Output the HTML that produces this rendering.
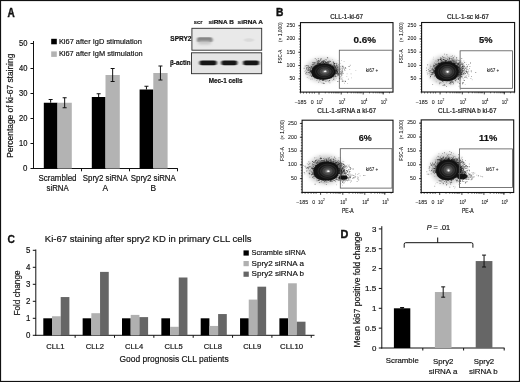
<!DOCTYPE html>
<html><head><meta charset="utf-8"><style>
html,body{margin:0;padding:0;background:#fff;}
svg{display:block;will-change:transform;filter:blur(0.25px);}
text{font-family:"Liberation Sans",sans-serif;fill:#111;stroke:#111;stroke-width:0.18px;}
</style></head><body>
<svg width="520" height="382" viewBox="0 0 520 382" font-family="Liberation Sans">
<rect x="0" y="0" width="520" height="382" fill="#fff"/>
<text x="7.4" y="16.7" font-size="12.2" font-weight="bold" textLength="7.2" lengthAdjust="spacingAndGlyphs" style="stroke-width:0.45px">A</text>
<line x1="33.50" y1="41.00" x2="33.50" y2="169.00" stroke="#111" stroke-width="1"/>
<line x1="30.50" y1="168.50" x2="33.50" y2="168.50" stroke="#111" stroke-width="1"/>
<text x="27.50" y="171.40" font-size="8.4" text-anchor="end" textLength="4.4" lengthAdjust="spacingAndGlyphs">0</text>
<line x1="30.50" y1="143.50" x2="33.50" y2="143.50" stroke="#111" stroke-width="1"/>
<text x="27.50" y="146.40" font-size="8.4" text-anchor="end" textLength="8.4" lengthAdjust="spacingAndGlyphs">10</text>
<line x1="30.50" y1="118.50" x2="33.50" y2="118.50" stroke="#111" stroke-width="1"/>
<text x="27.50" y="121.40" font-size="8.4" text-anchor="end" textLength="8.4" lengthAdjust="spacingAndGlyphs">20</text>
<line x1="30.50" y1="93.50" x2="33.50" y2="93.50" stroke="#111" stroke-width="1"/>
<text x="27.50" y="96.40" font-size="8.4" text-anchor="end" textLength="8.4" lengthAdjust="spacingAndGlyphs">30</text>
<line x1="30.50" y1="68.50" x2="33.50" y2="68.50" stroke="#111" stroke-width="1"/>
<text x="27.50" y="71.40" font-size="8.4" text-anchor="end" textLength="8.4" lengthAdjust="spacingAndGlyphs">40</text>
<line x1="30.50" y1="43.50" x2="33.50" y2="43.50" stroke="#111" stroke-width="1"/>
<text x="27.50" y="46.40" font-size="8.4" text-anchor="end" textLength="8.4" lengthAdjust="spacingAndGlyphs">50</text>
<line x1="33.00" y1="168.50" x2="177.80" y2="168.50" stroke="#111" stroke-width="1"/>
<line x1="81.50" y1="168.50" x2="81.50" y2="171.30" stroke="#111" stroke-width="1"/>
<line x1="129.50" y1="168.50" x2="129.50" y2="171.30" stroke="#111" stroke-width="1"/>
<line x1="177.50" y1="168.50" x2="177.50" y2="171.30" stroke="#111" stroke-width="1"/>
<text x="13.30" y="105.70" font-size="8.4" text-anchor="middle" textLength="104" lengthAdjust="spacingAndGlyphs" transform="rotate(-90 13.30 105.70)">Percentage of ki-67 staining</text>
<rect x="43.80" y="102.75" width="13.70" height="65.75" fill="#000"/>
<rect x="57.50" y="102.75" width="14.30" height="65.75" fill="#b3b3b3"/>
<line x1="50.65" y1="99.50" x2="50.65" y2="102.75" stroke="#111" stroke-width="1"/>
<line x1="48.65" y1="99.50" x2="52.65" y2="99.50" stroke="#111" stroke-width="1"/>
<line x1="64.65" y1="97.75" x2="64.65" y2="107.75" stroke="#111" stroke-width="1"/>
<line x1="62.65" y1="97.75" x2="66.65" y2="97.75" stroke="#111" stroke-width="1"/>
<line x1="62.65" y1="107.75" x2="66.65" y2="107.75" stroke="#111" stroke-width="1"/>
<rect x="91.80" y="97.00" width="13.70" height="71.50" fill="#000"/>
<rect x="105.50" y="75.00" width="14.30" height="93.50" fill="#b3b3b3"/>
<line x1="98.65" y1="93.75" x2="98.65" y2="97.00" stroke="#111" stroke-width="1"/>
<line x1="96.65" y1="93.75" x2="100.65" y2="93.75" stroke="#111" stroke-width="1"/>
<line x1="112.65" y1="68.50" x2="112.65" y2="81.50" stroke="#111" stroke-width="1"/>
<line x1="110.65" y1="68.50" x2="114.65" y2="68.50" stroke="#111" stroke-width="1"/>
<line x1="110.65" y1="81.50" x2="114.65" y2="81.50" stroke="#111" stroke-width="1"/>
<rect x="139.60" y="89.50" width="13.70" height="79.00" fill="#000"/>
<rect x="153.30" y="73.00" width="14.30" height="95.50" fill="#b3b3b3"/>
<line x1="146.45" y1="86.25" x2="146.45" y2="89.50" stroke="#111" stroke-width="1"/>
<line x1="144.45" y1="86.25" x2="148.45" y2="86.25" stroke="#111" stroke-width="1"/>
<line x1="160.45" y1="66.00" x2="160.45" y2="80.00" stroke="#111" stroke-width="1"/>
<line x1="158.45" y1="66.00" x2="162.45" y2="66.00" stroke="#111" stroke-width="1"/>
<line x1="158.45" y1="80.00" x2="162.45" y2="80.00" stroke="#111" stroke-width="1"/>
<text x="57.50" y="180.90" font-size="8.4" text-anchor="middle" textLength="38" lengthAdjust="spacingAndGlyphs">Scrambled</text>
<text x="57.60" y="190.60" font-size="8.4" text-anchor="middle" textLength="22.2" lengthAdjust="spacingAndGlyphs">siRNA</text>
<text x="105.30" y="180.90" font-size="8.4" text-anchor="middle" textLength="45" lengthAdjust="spacingAndGlyphs">Spry2 siRNA</text>
<text x="105.30" y="190.60" font-size="8.4" text-anchor="middle">A</text>
<text x="153.30" y="180.90" font-size="8.4" text-anchor="middle" textLength="45" lengthAdjust="spacingAndGlyphs">Spry2 siRNA</text>
<text x="153.30" y="190.60" font-size="8.4" text-anchor="middle">B</text>
<rect x="51.20" y="38.80" width="5.60" height="5.50" fill="#000"/>
<rect x="51.20" y="51.40" width="5.60" height="5.50" fill="#b3b3b3"/>
<text x="58.90" y="43.50" font-size="7.7" textLength="83.0" lengthAdjust="spacingAndGlyphs">Ki67 after IgD stimulation</text>
<text x="58.90" y="56.00" font-size="7.7" textLength="83.8" lengthAdjust="spacingAndGlyphs">Ki67 after IgM stimulation</text>
<defs>
<filter id="bl" x="-50%" y="-100%" width="200%" height="300%"><feGaussianBlur stdDeviation="0.9 0.7"/></filter>
<filter id="bl2" x="-50%" y="-100%" width="200%" height="300%"><feGaussianBlur stdDeviation="1.6 1.3"/></filter>
<radialGradient id="cl" cx="50%" cy="50%" r="50%">
<stop offset="0" stop-color="#fff"/><stop offset="0.12" stop-color="#ddd"/><stop offset="0.3" stop-color="#777"/><stop offset="0.6" stop-color="#222"/><stop offset="0.9" stop-color="#111"/><stop offset="1" stop-color="#111" stop-opacity="0.6"/>
</radialGradient>
<radialGradient id="cl2" cx="50%" cy="50%" r="50%">
<stop offset="0" stop-color="#111"/><stop offset="0.7" stop-color="#111"/><stop offset="1" stop-color="#111" stop-opacity="0"/>
</radialGradient>
</defs>
<rect x="191.90" y="28.30" width="69.80" height="21.90" fill="#e9e9e9" stroke="#2a2a2a" stroke-width="0.9"/>
<rect x="191.50" y="52.80" width="70.20" height="20.90" fill="#e4e4e4" stroke="#2a2a2a" stroke-width="0.9"/>
<rect x="197" y="37.2" width="15.5" height="5" rx="2" fill="#858585" filter="url(#bl)"/>
<rect x="198" y="41" width="13" height="3.5" rx="1.5" fill="#c8c8c8" filter="url(#bl2)"/>
<ellipse cx="249" cy="40" rx="5" ry="1.8" fill="#dadada" filter="url(#bl)"/>
<rect x="199.4" y="60.6" width="17.4" height="4.6" rx="2.2" fill="#151515" filter="url(#bl)"/>
<rect x="221.2" y="60.6" width="16.2" height="4.6" rx="2.2" fill="#151515" filter="url(#bl)"/>
<rect x="243.0" y="60.6" width="16.2" height="4.6" rx="2.2" fill="#151515" filter="url(#bl)"/>
<text x="193.80" y="24.10" font-size="6.2" font-weight="bold" textLength="8.6" lengthAdjust="spacingAndGlyphs">scr</text>
<text x="208.40" y="24.10" font-size="6.2" font-weight="bold" textLength="25.4" lengthAdjust="spacingAndGlyphs">siRNA B</text>
<text x="237.60" y="24.10" font-size="6.2" font-weight="bold" textLength="25.4" lengthAdjust="spacingAndGlyphs">siRNA A</text>
<text x="170.30" y="40.80" font-size="6.5" font-weight="bold" textLength="21.2" lengthAdjust="spacingAndGlyphs">SPRY2</text>
<text x="170.00" y="65.00" font-size="6.5" font-weight="bold" textLength="20.7" lengthAdjust="spacingAndGlyphs">β-actin</text>
<text x="208.80" y="82.90" font-size="6.5" font-weight="bold" textLength="33.8" lengthAdjust="spacingAndGlyphs">Mec-1 cells</text>
<text x="276" y="16.4" font-size="11.6" font-weight="bold" textLength="7.4" lengthAdjust="spacingAndGlyphs" style="stroke-width:0.45px">B</text>
<defs>
<filter id="hz" x="-50%" y="-50%" width="200%" height="200%"><feGaussianBlur stdDeviation="2.2"/></filter>
<filter id="hz1" x="-50%" y="-50%" width="200%" height="200%"><feGaussianBlur stdDeviation="0.6"/></filter>
<radialGradient id="core" cx="52%" cy="50%" r="50%">
<stop offset="0" stop-color="#fff"/><stop offset="0.05" stop-color="#ccc"/><stop offset="0.15" stop-color="#7a7a7a"/><stop offset="0.32" stop-color="#4c4c4c"/><stop offset="0.55" stop-color="#2e2e2e"/><stop offset="0.8" stop-color="#181818"/><stop offset="1" stop-color="#111"/>
</radialGradient>
</defs>
<ellipse cx="322.9" cy="70.1" rx="17.3" ry="11.9" fill="#000" fill-opacity="0.22" filter="url(#hz)"/>
<path fill="#000" fill-opacity="0.2" d="M315.6 64.8h1.0v1.0h-1.0zM314.7 77.8h1.0v1.0h-1.0zM334.6 73.3h1.0v1.0h-1.0zM312.9 67.6h0.9v0.9h-0.9zM328.9 64.5h0.9v0.9h-0.9zM315.7 61.8h1.0v1.0h-1.0zM326.3 62.0h0.8v0.8h-0.8zM336.4 71.2h0.8v0.8h-0.8zM328.8 65.3h1.0v1.0h-1.0zM327.7 63.1h0.7v0.7h-0.7zM312.5 67.5h0.7v0.7h-0.7zM335.2 72.5h0.8v0.8h-0.8zM325.3 63.2h1.0v1.0h-1.0zM313.4 66.2h0.7v0.7h-0.7zM318.7 63.7h0.8v0.8h-0.8zM312.2 74.3h0.9v0.9h-0.9zM322.4 82.9h0.8v0.8h-0.8zM306.8 76.9h1.0v1.0h-1.0zM324.3 79.0h1.0v1.0h-1.0zM334.7 72.4h1.0v1.0h-1.0zM315.2 65.7h0.9v0.9h-0.9zM310.6 66.8h1.0v1.0h-1.0zM322.2 64.3h0.8v0.8h-0.8zM307.9 72.3h0.9v0.9h-0.9zM315.4 63.7h0.9v0.9h-0.9zM312.1 73.2h1.0v1.0h-1.0zM340.1 63.3h0.8v0.8h-0.8zM335.3 68.4h0.8v0.8h-0.8zM338.5 68.7h0.8v0.8h-0.8zM318.4 61.2h0.9v0.9h-0.9zM312.1 72.2h0.8v0.8h-0.8zM311.2 72.0h0.9v0.9h-0.9zM333.0 61.9h1.0v1.0h-1.0zM320.6 64.1h0.9v0.9h-0.9zM316.8 78.0h0.7v0.7h-0.7zM334.2 66.4h0.7v0.7h-0.7zM341.6 71.6h1.0v1.0h-1.0zM317.9 64.8h0.8v0.8h-0.8zM322.6 64.1h0.8v0.8h-0.8zM334.5 73.4h0.8v0.8h-0.8zM322.3 62.0h1.0v1.0h-1.0zM316.0 62.5h1.0v1.0h-1.0zM312.3 69.4h0.8v0.8h-0.8zM335.1 66.9h0.8v0.8h-0.8zM324.2 61.5h0.9v0.9h-0.9zM311.9 72.8h1.0v1.0h-1.0zM304.2 71.3h0.8v0.8h-0.8zM332.0 59.0h0.7v0.7h-0.7zM336.7 66.7h0.8v0.8h-0.8zM312.0 71.3h1.0v1.0h-1.0zM312.5 63.6h1.0v1.0h-1.0zM310.1 67.2h1.0v1.0h-1.0zM317.6 65.5h0.8v0.8h-0.8zM336.9 73.4h0.7v0.7h-0.7zM332.9 67.0h0.9v0.9h-0.9zM325.7 64.6h0.7v0.7h-0.7zM337.6 73.2h1.0v1.0h-1.0zM335.8 78.2h0.9v0.9h-0.9zM307.4 69.1h0.9v0.9h-0.9zM313.4 64.3h0.9v0.9h-0.9zM315.7 65.9h0.8v0.8h-0.8zM311.6 65.9h0.8v0.8h-0.8zM326.2 63.0h0.8v0.8h-0.8zM310.3 73.3h0.9v0.9h-0.9zM323.4 79.0h0.9v0.9h-0.9zM315.9 63.2h0.9v0.9h-0.9zM312.1 69.0h0.8v0.8h-0.8zM314.4 65.0h0.8v0.8h-0.8zM330.8 62.7h0.7v0.7h-0.7zM338.6 74.0h0.8v0.8h-0.8zM311.5 74.2h0.9v0.9h-0.9zM316.7 65.7h1.0v1.0h-1.0zM326.9 62.2h0.9v0.9h-0.9zM334.3 65.8h0.7v0.7h-0.7zM327.4 64.9h0.8v0.8h-0.8zM317.2 64.5h0.9v0.9h-0.9zM331.4 63.3h0.9v0.9h-0.9zM323.8 62.6h0.8v0.8h-0.8zM329.7 65.3h0.7v0.7h-0.7zM334.3 68.1h1.0v1.0h-1.0zM319.8 64.8h0.7v0.7h-0.7zM321.0 64.4h0.8v0.8h-0.8zM323.1 61.6h0.8v0.8h-0.8zM311.7 71.4h0.8v0.8h-0.8zM315.2 64.7h0.7v0.7h-0.7zM312.0 70.0h0.7v0.7h-0.7zM324.0 80.0h0.8v0.8h-0.8zM311.7 74.5h0.9v0.9h-0.9zM320.4 64.5h1.0v1.0h-1.0zM318.2 65.1h0.9v0.9h-0.9zM325.3 62.5h0.9v0.9h-0.9zM324.5 80.5h0.8v0.8h-0.8zM310.5 71.4h0.7v0.7h-0.7zM310.4 65.0h0.7v0.7h-0.7zM331.3 64.4h0.7v0.7h-0.7zM320.7 64.6h0.8v0.8h-0.8zM318.9 65.1h0.9v0.9h-0.9zM328.9 65.2h0.9v0.9h-0.9zM337.0 67.5h0.9v0.9h-0.9zM328.0 63.7h1.0v1.0h-1.0zM329.1 64.6h0.8v0.8h-0.8zM324.3 80.1h0.7v0.7h-0.7zM311.7 71.9h0.7v0.7h-0.7zM323.1 80.0h0.9v0.9h-0.9zM310.6 68.8h0.9v0.9h-0.9zM320.8 64.4h0.7v0.7h-0.7zM325.8 62.1h0.9v0.9h-0.9zM313.9 77.8h0.9v0.9h-0.9zM318.5 64.9h1.0v1.0h-1.0zM313.5 68.1h1.0v1.0h-1.0zM313.4 67.6h0.7v0.7h-0.7zM328.6 60.3h0.7v0.7h-0.7zM322.5 62.8h1.0v1.0h-1.0zM311.4 72.5h0.7v0.7h-0.7zM334.4 79.5h1.0v1.0h-1.0zM335.4 72.7h0.7v0.7h-0.7zM319.8 64.0h0.8v0.8h-0.8zM334.3 68.0h0.8v0.8h-0.8zM323.3 63.6h0.8v0.8h-0.8zM321.5 64.4h0.7v0.7h-0.7zM316.6 65.1h0.7v0.7h-0.7zM322.6 62.4h1.0v1.0h-1.0zM324.4 63.9h0.8v0.8h-0.8zM327.2 58.0h1.0v1.0h-1.0zM318.3 64.5h0.7v0.7h-0.7zM322.0 64.2h0.9v0.9h-0.9zM322.4 78.8h0.8v0.8h-0.8zM314.1 78.5h0.8v0.8h-0.8zM322.8 62.4h0.7v0.7h-0.7zM317.8 64.0h0.8v0.8h-0.8zM316.2 79.9h1.0v1.0h-1.0zM307.7 74.0h0.8v0.8h-0.8zM324.9 64.1h1.0v1.0h-1.0zM312.0 71.1h0.9v0.9h-0.9zM311.9 68.9h0.7v0.7h-0.7zM310.2 69.8h1.0v1.0h-1.0zM311.7 67.4h0.9v0.9h-0.9zM310.8 69.8h0.7v0.7h-0.7zM337.9 64.1h1.0v1.0h-1.0zM326.8 63.6h0.9v0.9h-0.9zM326.1 62.3h1.0v1.0h-1.0zM322.9 61.8h0.7v0.7h-0.7zM310.0 66.2h1.0v1.0h-1.0zM318.4 64.3h1.0v1.0h-1.0zM316.3 65.2h1.0v1.0h-1.0zM328.4 63.1h0.7v0.7h-0.7zM333.7 66.5h1.0v1.0h-1.0zM334.0 66.2h1.0v1.0h-1.0zM324.4 63.2h0.9v0.9h-0.9zM314.9 64.4h0.8v0.8h-0.8zM326.3 60.0h0.7v0.7h-0.7zM317.1 64.7h0.8v0.8h-0.8zM317.2 64.3h1.0v1.0h-1.0zM333.9 65.3h0.8v0.8h-0.8zM325.7 80.5h0.9v0.9h-0.9zM317.1 79.4h0.8v0.8h-0.8zM321.4 64.5h0.8v0.8h-0.8zM319.3 78.6h0.9v0.9h-0.9zM312.4 68.7h0.9v0.9h-0.9zM329.6 65.6h0.7v0.7h-0.7zM311.8 78.5h1.0v1.0h-1.0zM326.0 64.6h0.8v0.8h-0.8zM313.4 67.5h1.0v1.0h-1.0zM320.2 63.0h1.0v1.0h-1.0zM319.5 62.1h0.8v0.8h-0.8zM321.4 61.4h0.7v0.7h-0.7zM333.3 63.0h0.8v0.8h-0.8zM336.4 69.8h0.7v0.7h-0.7zM317.9 63.0h1.0v1.0h-1.0zM321.4 79.0h0.9v0.9h-0.9zM311.5 70.5h1.0v1.0h-1.0zM324.5 64.1h0.7v0.7h-0.7zM331.0 66.1h0.8v0.8h-0.8zM317.3 65.3h0.9v0.9h-0.9zM335.2 70.9h1.0v1.0h-1.0zM335.7 69.7h1.0v1.0h-1.0zM308.5 77.7h0.8v0.8h-0.8zM316.9 63.2h0.7v0.7h-0.7zM327.4 63.8h1.0v1.0h-1.0zM335.8 73.4h0.7v0.7h-0.7zM311.5 75.7h1.0v1.0h-1.0zM312.0 72.6h0.8v0.8h-0.8zM312.5 68.9h0.9v0.9h-0.9zM325.1 80.5h1.0v1.0h-1.0zM331.9 66.4h0.7v0.7h-0.7zM308.9 70.4h1.0v1.0h-1.0zM313.9 66.1h1.0v1.0h-1.0zM320.9 64.4h0.7v0.7h-0.7zM322.9 62.7h0.9v0.9h-0.9zM311.2 67.8h0.9v0.9h-0.9zM326.3 64.3h0.9v0.9h-0.9zM326.9 79.6h0.9v0.9h-0.9zM340.2 73.2h0.9v0.9h-0.9zM344.6 70.1h1.0v1.0h-1.0zM342.6 65.5h0.8v0.8h-0.8zM344.0 82.8h1.0v1.0h-1.0zM342.1 71.1h0.7v0.7h-0.7zM342.5 77.1h0.7v0.7h-0.7zM337.3 68.8h0.8v0.8h-0.8zM340.4 76.2h1.0v1.0h-1.0zM341.2 79.1h0.9v0.9h-0.9zM340.7 74.0h0.9v0.9h-0.9zM349.2 69.1h1.0v1.0h-1.0zM339.9 73.9h1.0v1.0h-1.0zM336.4 62.7h1.0v1.0h-1.0zM338.5 65.8h0.8v0.8h-0.8zM339.0 74.5h1.0v1.0h-1.0zM341.8 74.6h0.9v0.9h-0.9zM337.3 69.6h1.0v1.0h-1.0zM342.1 79.2h1.0v1.0h-1.0z"/>
<path fill="#000" fill-opacity="0.32" d="M320.5 78.7h0.7v0.7h-0.7zM314.8 65.1h1.0v1.0h-1.0zM334.4 74.5h1.0v1.0h-1.0zM318.2 64.6h0.7v0.7h-0.7zM324.0 63.4h0.9v0.9h-0.9zM327.2 62.1h0.7v0.7h-0.7zM310.2 71.5h0.9v0.9h-0.9zM326.3 63.3h0.9v0.9h-0.9zM320.9 64.4h0.7v0.7h-0.7zM311.6 70.9h0.9v0.9h-0.9zM315.2 66.5h0.8v0.8h-0.8zM335.5 76.4h0.9v0.9h-0.9zM322.1 64.2h1.0v1.0h-1.0zM310.3 71.5h1.0v1.0h-1.0zM335.6 73.1h0.9v0.9h-0.9zM323.3 63.2h1.0v1.0h-1.0zM335.8 70.4h0.8v0.8h-0.8zM335.5 72.2h0.9v0.9h-0.9zM310.9 71.1h0.7v0.7h-0.7zM316.4 65.9h0.8v0.8h-0.8zM335.0 68.0h0.7v0.7h-0.7zM322.6 64.0h0.7v0.7h-0.7zM316.3 65.8h0.9v0.9h-0.9zM313.5 67.0h0.8v0.8h-0.8zM311.5 72.8h0.8v0.8h-0.8zM318.8 79.3h0.7v0.7h-0.7zM324.7 59.5h0.7v0.7h-0.7zM311.4 71.8h0.9v0.9h-0.9zM335.4 69.1h0.7v0.7h-0.7zM311.6 75.0h0.7v0.7h-0.7zM336.5 67.1h0.7v0.7h-0.7zM313.8 66.8h0.8v0.8h-0.8zM323.6 64.4h0.9v0.9h-0.9zM315.1 62.9h0.7v0.7h-0.7zM338.4 67.2h0.7v0.7h-0.7zM319.3 64.4h0.8v0.8h-0.8zM312.4 73.3h1.0v1.0h-1.0zM334.2 66.5h1.0v1.0h-1.0zM308.4 72.2h0.9v0.9h-0.9zM312.8 64.5h0.8v0.8h-0.8zM316.9 65.7h0.7v0.7h-0.7zM305.1 73.4h0.9v0.9h-0.9zM334.5 68.9h0.7v0.7h-0.7zM312.5 66.1h0.7v0.7h-0.7zM318.1 81.8h0.9v0.9h-0.9zM318.5 63.0h0.7v0.7h-0.7zM309.6 70.3h0.7v0.7h-0.7zM321.5 64.0h0.9v0.9h-0.9zM324.3 64.5h1.0v1.0h-1.0zM318.9 63.3h0.8v0.8h-0.8zM320.7 59.2h0.9v0.9h-0.9zM315.7 65.6h0.8v0.8h-0.8zM325.7 63.5h0.7v0.7h-0.7zM315.9 77.6h0.8v0.8h-0.8zM315.8 66.3h1.0v1.0h-1.0zM306.9 71.7h0.7v0.7h-0.7zM317.0 64.8h0.9v0.9h-0.9zM318.3 64.5h0.8v0.8h-0.8zM326.7 63.2h0.8v0.8h-0.8zM310.7 67.5h1.0v1.0h-1.0zM313.1 66.8h0.7v0.7h-0.7zM318.2 64.9h0.7v0.7h-0.7zM346.7 73.5h0.8v0.8h-0.8zM336.4 69.4h0.9v0.9h-0.9zM334.8 71.2h1.0v1.0h-1.0zM317.8 57.9h1.0v1.0h-1.0zM324.0 63.8h1.0v1.0h-1.0zM329.6 63.7h1.0v1.0h-1.0zM307.7 68.1h0.9v0.9h-0.9zM317.3 77.6h0.7v0.7h-0.7zM334.9 67.1h0.8v0.8h-0.8zM314.0 66.8h0.9v0.9h-0.9zM330.9 66.2h0.9v0.9h-0.9zM329.2 65.1h0.8v0.8h-0.8zM312.2 70.2h0.9v0.9h-0.9zM328.1 64.9h0.7v0.7h-0.7zM332.1 65.1h0.7v0.7h-0.7zM331.0 64.8h0.8v0.8h-0.8zM339.8 72.4h1.0v1.0h-1.0zM322.3 62.1h0.9v0.9h-0.9zM333.8 64.7h1.0v1.0h-1.0zM311.8 69.0h0.9v0.9h-0.9zM318.9 79.7h0.9v0.9h-0.9zM333.1 67.8h0.7v0.7h-0.7zM306.9 67.1h1.0v1.0h-1.0zM336.7 71.4h0.9v0.9h-0.9zM306.3 70.7h0.8v0.8h-0.8zM311.6 71.4h0.8v0.8h-0.8zM312.2 67.6h0.8v0.8h-0.8zM328.9 63.7h0.7v0.7h-0.7zM341.9 68.6h1.0v1.0h-1.0zM321.0 64.0h0.8v0.8h-0.8zM320.1 64.2h0.8v0.8h-0.8zM313.1 67.6h1.0v1.0h-1.0zM331.8 64.4h0.9v0.9h-0.9zM316.8 64.7h0.9v0.9h-0.9zM316.9 65.2h0.9v0.9h-0.9zM336.9 73.7h0.8v0.8h-0.8zM323.4 62.5h0.9v0.9h-0.9zM319.2 63.7h0.7v0.7h-0.7zM317.6 64.9h0.8v0.8h-0.8zM329.4 64.9h0.9v0.9h-0.9zM329.7 65.3h1.0v1.0h-1.0zM320.7 61.6h0.8v0.8h-0.8zM312.9 66.2h0.8v0.8h-0.8zM307.7 68.5h0.7v0.7h-0.7zM318.9 61.2h1.0v1.0h-1.0zM316.3 60.4h1.0v1.0h-1.0zM335.1 72.2h0.9v0.9h-0.9zM316.9 78.6h0.8v0.8h-0.8zM309.9 71.6h0.8v0.8h-0.8zM333.1 67.1h1.0v1.0h-1.0zM331.7 66.4h0.7v0.7h-0.7zM312.8 66.9h0.9v0.9h-0.9zM328.9 64.6h1.0v1.0h-1.0zM334.8 71.4h0.8v0.8h-0.8zM342.0 80.7h1.0v1.0h-1.0zM310.1 69.3h0.7v0.7h-0.7zM311.6 70.6h0.9v0.9h-0.9zM331.9 65.7h0.8v0.8h-0.8zM323.3 79.5h0.7v0.7h-0.7zM319.0 63.9h0.8v0.8h-0.8zM336.8 72.5h0.8v0.8h-0.8zM317.3 64.6h0.7v0.7h-0.7zM317.9 64.1h1.0v1.0h-1.0zM327.6 62.8h1.0v1.0h-1.0zM312.8 63.6h1.0v1.0h-1.0zM326.5 78.6h0.7v0.7h-0.7zM313.9 62.3h0.9v0.9h-0.9zM333.6 62.2h0.7v0.7h-0.7zM341.9 69.2h0.8v0.8h-0.8zM316.5 65.1h0.8v0.8h-0.8zM322.7 61.9h1.0v1.0h-1.0zM338.5 67.9h0.7v0.7h-0.7zM331.6 66.3h1.0v1.0h-1.0zM337.1 70.7h0.7v0.7h-0.7zM314.3 65.0h0.8v0.8h-0.8zM323.4 63.8h1.0v1.0h-1.0zM315.8 78.4h0.7v0.7h-0.7zM334.0 65.1h0.9v0.9h-0.9zM335.3 69.8h1.0v1.0h-1.0zM335.0 68.9h0.9v0.9h-0.9zM336.9 66.1h0.7v0.7h-0.7zM324.0 63.1h1.0v1.0h-1.0zM309.7 70.0h1.0v1.0h-1.0zM306.3 66.8h0.9v0.9h-0.9zM322.8 63.7h0.7v0.7h-0.7zM322.8 62.8h1.0v1.0h-1.0zM319.9 64.3h0.9v0.9h-0.9zM328.8 64.9h0.7v0.7h-0.7zM309.4 67.5h0.8v0.8h-0.8zM321.4 63.7h1.0v1.0h-1.0zM318.1 64.2h0.8v0.8h-0.8zM319.9 64.3h0.7v0.7h-0.7zM318.1 58.4h0.8v0.8h-0.8zM333.0 67.5h1.0v1.0h-1.0zM336.0 70.9h1.0v1.0h-1.0zM315.9 65.1h1.0v1.0h-1.0zM323.6 64.0h1.0v1.0h-1.0zM313.2 75.6h0.7v0.7h-0.7zM333.5 67.4h0.9v0.9h-0.9zM335.1 72.3h0.9v0.9h-0.9zM313.0 68.5h1.0v1.0h-1.0zM329.3 65.5h0.9v0.9h-0.9zM314.3 63.6h1.0v1.0h-1.0zM335.0 72.7h0.7v0.7h-0.7zM329.9 63.9h0.7v0.7h-0.7zM333.1 76.3h1.0v1.0h-1.0zM313.3 65.3h0.8v0.8h-0.8zM317.3 63.6h0.9v0.9h-0.9zM335.6 69.5h0.9v0.9h-0.9zM321.8 78.7h0.9v0.9h-0.9zM335.5 71.8h1.0v1.0h-1.0zM320.7 64.7h0.8v0.8h-0.8zM310.8 70.5h1.0v1.0h-1.0zM321.1 62.5h0.8v0.8h-0.8zM309.3 72.5h1.0v1.0h-1.0zM325.0 63.6h1.0v1.0h-1.0zM316.0 66.2h0.9v0.9h-0.9zM324.7 64.3h1.0v1.0h-1.0zM324.6 63.8h0.9v0.9h-0.9zM322.4 60.6h0.9v0.9h-0.9zM323.0 64.1h0.8v0.8h-0.8zM338.9 68.6h1.0v1.0h-1.0zM322.7 63.5h0.9v0.9h-0.9zM336.7 69.1h0.9v0.9h-0.9zM337.1 64.9h1.0v1.0h-1.0zM317.5 61.1h0.9v0.9h-0.9zM320.4 64.3h1.0v1.0h-1.0zM312.3 73.0h1.0v1.0h-1.0zM309.8 70.7h0.8v0.8h-0.8zM320.7 62.6h0.8v0.8h-0.8zM319.5 61.8h0.7v0.7h-0.7zM340.2 66.2h0.8v0.8h-0.8zM317.7 64.3h1.0v1.0h-1.0zM339.2 78.0h0.8v0.8h-0.8zM351.3 77.6h0.7v0.7h-0.7zM341.0 60.1h0.7v0.7h-0.7zM340.9 75.3h1.0v1.0h-1.0zM341.3 74.7h0.9v0.9h-0.9zM338.5 68.0h0.9v0.9h-0.9zM340.9 74.3h0.8v0.8h-0.8zM337.7 60.4h0.7v0.7h-0.7zM344.6 80.6h1.0v1.0h-1.0zM340.6 77.6h0.7v0.7h-0.7zM344.0 69.5h0.9v0.9h-0.9zM340.2 73.0h1.0v1.0h-1.0zM346.4 75.9h0.8v0.8h-0.8zM338.9 75.5h0.8v0.8h-0.8zM337.3 64.7h1.0v1.0h-1.0zM338.3 74.1h1.0v1.0h-1.0zM349.8 64.7h1.0v1.0h-1.0zM338.3 73.0h1.0v1.0h-1.0zM343.7 60.9h0.8v0.8h-0.8zM347.0 83.3h0.7v0.7h-0.7zM336.4 76.2h0.9v0.9h-0.9zM355.5 70.0h0.7v0.7h-0.7zM337.8 75.2h0.7v0.7h-0.7z"/>
<path fill="#000" fill-opacity="0.45" d="M304.7 65.4h1.0v1.0h-1.0zM320.6 58.1h1.0v1.0h-1.0zM336.7 68.6h0.8v0.8h-0.8zM317.1 64.5h0.9v0.9h-0.9zM334.8 69.6h0.8v0.8h-0.8zM319.3 64.2h0.7v0.7h-0.7zM318.9 64.0h0.7v0.7h-0.7zM335.8 70.2h0.9v0.9h-0.9zM328.9 62.2h0.8v0.8h-0.8zM321.5 63.9h1.0v1.0h-1.0zM325.9 64.4h0.8v0.8h-0.8zM311.9 74.4h0.8v0.8h-0.8zM321.8 79.6h0.9v0.9h-0.9zM318.7 64.4h0.8v0.8h-0.8zM314.2 75.8h0.9v0.9h-0.9zM314.2 62.7h0.8v0.8h-0.8zM338.0 70.7h0.7v0.7h-0.7zM313.4 63.7h1.0v1.0h-1.0zM318.5 64.7h1.0v1.0h-1.0zM321.5 62.3h1.0v1.0h-1.0zM324.9 62.8h0.8v0.8h-0.8zM316.7 63.7h0.8v0.8h-0.8zM321.6 78.8h0.7v0.7h-0.7zM315.9 64.6h0.9v0.9h-0.9zM336.3 69.9h0.8v0.8h-0.8zM317.3 63.2h0.9v0.9h-0.9zM319.8 64.7h0.9v0.9h-0.9zM317.5 65.0h0.7v0.7h-0.7zM333.2 67.0h0.7v0.7h-0.7zM334.6 69.0h0.7v0.7h-0.7zM335.0 69.4h0.7v0.7h-0.7zM325.4 64.4h0.7v0.7h-0.7zM316.8 65.8h0.7v0.7h-0.7zM311.1 67.2h0.9v0.9h-0.9zM325.6 64.3h0.8v0.8h-0.8zM334.7 68.3h0.7v0.7h-0.7zM334.0 67.9h0.8v0.8h-0.8zM323.9 78.9h0.8v0.8h-0.8zM325.8 64.1h1.0v1.0h-1.0zM310.4 68.2h0.8v0.8h-0.8zM339.9 69.3h0.7v0.7h-0.7zM335.4 72.3h0.9v0.9h-0.9zM315.9 59.0h0.8v0.8h-0.8zM330.5 77.4h0.8v0.8h-0.8zM334.0 68.4h0.8v0.8h-0.8zM320.7 78.7h0.7v0.7h-0.7zM325.5 62.6h1.0v1.0h-1.0zM307.9 72.2h0.9v0.9h-0.9zM323.6 63.8h0.7v0.7h-0.7zM322.8 63.5h0.7v0.7h-0.7zM325.1 64.3h0.9v0.9h-0.9zM322.2 64.2h1.0v1.0h-1.0zM326.7 63.6h0.8v0.8h-0.8zM315.5 66.1h1.0v1.0h-1.0zM334.7 66.9h1.0v1.0h-1.0zM319.0 63.0h0.8v0.8h-0.8zM314.6 65.8h0.9v0.9h-0.9zM336.2 67.8h0.7v0.7h-0.7zM313.1 76.3h0.7v0.7h-0.7zM313.6 61.9h0.7v0.7h-0.7zM331.0 63.9h0.8v0.8h-0.8zM326.6 64.1h0.7v0.7h-0.7zM333.5 78.3h0.8v0.8h-0.8zM320.1 62.6h0.9v0.9h-0.9zM329.8 63.9h1.0v1.0h-1.0zM335.6 65.0h0.7v0.7h-0.7zM335.9 68.0h0.9v0.9h-0.9zM309.9 70.4h0.9v0.9h-0.9zM325.6 59.1h0.9v0.9h-0.9zM323.1 79.1h0.7v0.7h-0.7zM336.5 62.9h0.7v0.7h-0.7zM335.0 67.0h0.9v0.9h-0.9zM322.8 79.8h1.0v1.0h-1.0zM329.5 82.4h0.8v0.8h-0.8zM317.0 64.5h1.0v1.0h-1.0zM324.9 64.2h0.8v0.8h-0.8zM319.8 63.3h0.8v0.8h-0.8zM337.5 66.0h0.9v0.9h-0.9zM311.2 71.9h0.7v0.7h-0.7zM314.5 65.4h0.9v0.9h-0.9zM333.9 65.7h0.9v0.9h-0.9zM310.0 73.7h0.9v0.9h-0.9zM311.6 73.1h0.7v0.7h-0.7zM332.5 80.4h0.7v0.7h-0.7zM326.4 63.6h0.8v0.8h-0.8zM309.2 70.6h1.0v1.0h-1.0zM307.6 64.9h1.0v1.0h-1.0zM315.1 65.5h0.7v0.7h-0.7zM326.8 62.8h0.9v0.9h-0.9zM339.5 71.9h0.7v0.7h-0.7zM327.3 64.9h1.0v1.0h-1.0zM321.6 82.5h0.8v0.8h-0.8zM310.5 78.7h0.7v0.7h-0.7zM334.3 64.7h0.8v0.8h-0.8zM328.9 64.9h0.8v0.8h-0.8zM311.9 68.3h0.8v0.8h-0.8zM319.8 79.0h0.7v0.7h-0.7zM319.7 81.6h0.7v0.7h-0.7zM314.0 66.9h1.0v1.0h-1.0zM317.7 62.2h0.8v0.8h-0.8zM305.0 70.5h0.7v0.7h-0.7zM333.5 66.0h1.0v1.0h-1.0zM318.2 60.1h1.0v1.0h-1.0zM334.6 70.2h1.0v1.0h-1.0zM314.6 62.1h1.0v1.0h-1.0zM332.3 66.7h0.7v0.7h-0.7zM316.2 64.4h0.8v0.8h-0.8zM312.7 68.7h0.7v0.7h-0.7zM312.6 67.4h0.8v0.8h-0.8zM329.3 60.8h1.0v1.0h-1.0zM317.6 64.9h0.9v0.9h-0.9zM325.4 62.1h0.8v0.8h-0.8zM313.1 76.0h1.0v1.0h-1.0zM312.7 68.5h0.7v0.7h-0.7zM318.5 65.1h1.0v1.0h-1.0zM325.2 63.6h1.0v1.0h-1.0zM334.0 69.0h0.8v0.8h-0.8zM333.3 75.5h1.0v1.0h-1.0zM305.9 67.6h0.9v0.9h-0.9zM333.4 68.2h0.7v0.7h-0.7zM306.5 74.3h0.8v0.8h-0.8zM324.1 63.9h0.7v0.7h-0.7zM336.9 71.3h0.9v0.9h-0.9zM333.6 64.7h0.9v0.9h-0.9zM312.3 66.7h0.8v0.8h-0.8zM334.2 63.7h0.8v0.8h-0.8zM338.5 73.6h0.8v0.8h-0.8zM318.5 63.9h0.9v0.9h-0.9zM320.9 64.0h0.9v0.9h-0.9zM303.7 67.7h1.0v1.0h-1.0zM310.3 70.1h1.0v1.0h-1.0zM329.5 63.7h0.9v0.9h-0.9zM321.0 64.0h0.9v0.9h-0.9zM331.5 65.4h0.7v0.7h-0.7zM326.7 64.0h0.8v0.8h-0.8zM332.0 66.0h0.8v0.8h-0.8zM318.0 64.9h0.9v0.9h-0.9zM326.1 63.8h1.0v1.0h-1.0zM318.9 65.0h0.7v0.7h-0.7zM318.0 62.1h0.7v0.7h-0.7zM334.7 70.7h0.9v0.9h-0.9zM321.5 62.7h1.0v1.0h-1.0zM312.1 69.7h0.7v0.7h-0.7zM319.4 79.7h0.8v0.8h-0.8zM326.5 63.7h1.0v1.0h-1.0zM330.1 61.1h0.9v0.9h-0.9zM323.0 61.6h0.7v0.7h-0.7zM342.6 67.3h0.7v0.7h-0.7zM326.4 62.8h1.0v1.0h-1.0zM339.3 70.9h0.7v0.7h-0.7zM314.5 65.4h1.0v1.0h-1.0zM318.2 64.2h0.7v0.7h-0.7zM323.5 62.3h0.9v0.9h-0.9zM320.4 64.2h0.7v0.7h-0.7zM323.7 63.6h0.7v0.7h-0.7zM327.8 64.4h1.0v1.0h-1.0zM333.5 67.1h0.9v0.9h-0.9zM326.2 64.4h0.7v0.7h-0.7zM311.1 75.6h1.0v1.0h-1.0zM345.3 68.2h0.9v0.9h-0.9zM311.6 70.8h0.8v0.8h-0.8zM327.9 81.6h0.7v0.7h-0.7zM321.3 64.1h0.9v0.9h-0.9zM319.2 64.7h0.8v0.8h-0.8zM326.7 63.1h1.0v1.0h-1.0zM322.8 64.3h0.8v0.8h-0.8zM336.3 67.8h1.0v1.0h-1.0zM333.7 68.0h0.9v0.9h-0.9zM312.3 69.5h1.0v1.0h-1.0zM328.0 61.9h1.0v1.0h-1.0zM320.4 62.8h1.0v1.0h-1.0zM307.8 69.6h1.0v1.0h-1.0zM319.1 64.8h1.0v1.0h-1.0zM320.9 64.3h1.0v1.0h-1.0zM311.7 70.4h1.0v1.0h-1.0zM334.3 63.0h0.9v0.9h-0.9zM332.5 66.6h0.9v0.9h-0.9zM332.5 65.5h1.0v1.0h-1.0zM326.2 63.7h0.7v0.7h-0.7zM309.2 72.6h0.7v0.7h-0.7zM313.8 67.8h1.0v1.0h-1.0zM318.3 62.4h0.9v0.9h-0.9zM321.7 63.4h0.8v0.8h-0.8zM327.8 63.5h0.7v0.7h-0.7zM311.3 67.2h1.0v1.0h-1.0zM317.3 65.3h0.8v0.8h-0.8zM320.9 63.1h1.0v1.0h-1.0zM334.6 76.0h1.0v1.0h-1.0zM333.3 76.5h1.0v1.0h-1.0zM323.5 63.5h0.9v0.9h-0.9zM339.7 71.0h0.9v0.9h-0.9zM328.6 64.4h0.7v0.7h-0.7zM321.2 61.8h0.8v0.8h-0.8zM311.6 69.3h1.0v1.0h-1.0zM326.8 61.3h1.0v1.0h-1.0zM323.5 79.4h0.9v0.9h-0.9zM325.0 78.8h0.7v0.7h-0.7zM321.7 61.1h0.9v0.9h-0.9zM306.6 72.7h0.7v0.7h-0.7zM317.1 64.8h0.8v0.8h-0.8zM323.0 64.1h0.7v0.7h-0.7zM321.9 63.2h0.7v0.7h-0.7zM335.6 63.2h0.9v0.9h-0.9zM334.6 66.7h0.7v0.7h-0.7zM314.7 66.6h1.0v1.0h-1.0zM325.7 78.9h0.7v0.7h-0.7zM350.7 73.6h0.7v0.7h-0.7zM339.1 71.1h0.7v0.7h-0.7zM341.5 78.2h0.7v0.7h-0.7zM339.8 76.4h0.8v0.8h-0.8zM343.9 68.6h0.9v0.9h-0.9zM337.5 74.9h1.0v1.0h-1.0zM341.5 73.3h0.9v0.9h-0.9zM343.3 73.3h0.7v0.7h-0.7zM341.0 71.6h0.7v0.7h-0.7zM337.2 73.3h0.9v0.9h-0.9zM339.8 78.8h0.7v0.7h-0.7z"/>
<path fill="#000" fill-opacity="0.6" d="M329.0 64.9h0.7v0.7h-0.7zM326.7 64.3h0.8v0.8h-0.8zM308.4 66.8h1.0v1.0h-1.0zM324.9 61.1h0.8v0.8h-0.8zM322.4 79.6h0.9v0.9h-0.9zM334.4 74.5h0.7v0.7h-0.7zM334.5 74.0h0.9v0.9h-0.9zM314.3 66.6h0.7v0.7h-0.7zM316.4 77.3h1.0v1.0h-1.0zM334.9 69.5h0.9v0.9h-0.9zM323.4 64.1h0.9v0.9h-0.9zM337.4 81.1h0.9v0.9h-0.9zM312.6 62.2h0.9v0.9h-0.9zM329.0 64.8h1.0v1.0h-1.0zM324.2 63.5h0.7v0.7h-0.7zM317.5 60.4h1.0v1.0h-1.0zM335.3 70.2h0.8v0.8h-0.8zM321.9 79.9h0.8v0.8h-0.8zM324.2 63.3h0.9v0.9h-0.9zM330.1 64.4h0.8v0.8h-0.8zM336.4 71.7h0.8v0.8h-0.8zM334.9 71.8h1.0v1.0h-1.0zM307.6 70.1h0.9v0.9h-0.9zM323.2 79.2h0.9v0.9h-0.9zM332.8 61.6h0.9v0.9h-0.9zM333.3 67.4h1.0v1.0h-1.0zM311.2 70.4h0.7v0.7h-0.7zM337.8 72.9h0.9v0.9h-0.9zM334.8 70.3h0.8v0.8h-0.8zM335.8 73.3h1.0v1.0h-1.0zM317.0 62.7h0.7v0.7h-0.7zM338.9 69.7h0.8v0.8h-0.8zM330.6 77.2h1.0v1.0h-1.0zM335.8 71.7h0.9v0.9h-0.9zM342.7 68.1h0.7v0.7h-0.7zM333.5 66.8h0.8v0.8h-0.8zM337.4 67.3h0.9v0.9h-0.9zM322.3 78.9h0.9v0.9h-0.9zM316.8 65.6h0.7v0.7h-0.7zM315.8 65.9h0.8v0.8h-0.8zM321.8 64.5h0.9v0.9h-0.9zM336.3 65.8h0.7v0.7h-0.7zM305.4 72.8h0.7v0.7h-0.7zM325.4 64.5h1.0v1.0h-1.0zM324.1 60.7h1.0v1.0h-1.0zM335.5 65.7h0.9v0.9h-0.9zM322.8 61.6h0.8v0.8h-0.8zM321.6 60.7h1.0v1.0h-1.0zM328.2 64.5h0.8v0.8h-0.8zM337.9 73.9h0.7v0.7h-0.7zM322.8 62.2h0.8v0.8h-0.8zM319.3 64.0h0.9v0.9h-0.9zM322.3 63.0h0.8v0.8h-0.8zM324.0 63.8h0.9v0.9h-0.9zM312.7 75.1h0.8v0.8h-0.8zM336.0 73.2h0.9v0.9h-0.9zM329.1 78.2h0.9v0.9h-0.9zM319.8 64.6h0.9v0.9h-0.9zM335.4 72.8h0.9v0.9h-0.9zM329.9 65.4h0.7v0.7h-0.7zM311.2 70.5h0.9v0.9h-0.9zM313.7 76.7h0.7v0.7h-0.7zM323.3 64.0h0.9v0.9h-0.9zM320.8 62.2h0.8v0.8h-0.8zM336.6 70.3h1.0v1.0h-1.0zM329.1 80.1h1.0v1.0h-1.0zM333.1 63.6h1.0v1.0h-1.0zM311.8 64.2h0.9v0.9h-0.9zM341.4 72.0h0.7v0.7h-0.7zM318.7 63.1h0.9v0.9h-0.9zM326.2 64.2h0.9v0.9h-0.9zM336.0 70.6h0.8v0.8h-0.8zM337.7 72.5h0.8v0.8h-0.8zM329.2 80.5h0.7v0.7h-0.7zM318.7 60.4h1.0v1.0h-1.0zM321.1 64.6h0.7v0.7h-0.7zM310.9 72.3h0.8v0.8h-0.8zM314.8 65.8h0.8v0.8h-0.8zM312.9 68.7h0.7v0.7h-0.7zM308.7 67.1h1.0v1.0h-1.0zM333.3 67.8h0.9v0.9h-0.9zM326.4 64.6h0.7v0.7h-0.7zM332.4 65.3h0.9v0.9h-0.9zM306.0 72.2h0.8v0.8h-0.8zM335.1 66.0h0.8v0.8h-0.8zM327.8 80.5h0.7v0.7h-0.7zM336.0 69.2h0.9v0.9h-0.9zM335.0 70.1h1.0v1.0h-1.0zM335.2 68.5h0.7v0.7h-0.7zM325.4 64.1h0.8v0.8h-0.8zM306.3 65.1h1.0v1.0h-1.0zM309.6 67.4h0.8v0.8h-0.8zM307.8 66.1h0.7v0.7h-0.7zM309.6 72.3h0.8v0.8h-0.8zM328.4 64.5h1.0v1.0h-1.0zM314.8 57.9h0.8v0.8h-0.8zM332.4 66.8h0.8v0.8h-0.8zM310.1 68.7h0.9v0.9h-0.9zM313.0 68.3h0.8v0.8h-0.8zM323.5 83.1h1.0v1.0h-1.0zM334.0 63.0h1.0v1.0h-1.0zM336.6 70.1h1.0v1.0h-1.0zM329.9 64.6h0.8v0.8h-0.8zM320.0 59.4h1.0v1.0h-1.0zM308.8 69.1h0.8v0.8h-0.8zM325.6 80.7h0.7v0.7h-0.7zM340.6 67.8h0.8v0.8h-0.8zM315.5 66.4h0.7v0.7h-0.7zM312.4 69.6h0.7v0.7h-0.7zM311.1 66.1h1.0v1.0h-1.0zM323.4 62.4h0.7v0.7h-0.7zM306.1 68.6h1.0v1.0h-1.0zM333.2 78.9h0.9v0.9h-0.9zM337.1 67.3h0.8v0.8h-0.8zM308.3 68.4h0.8v0.8h-0.8zM316.7 64.8h0.8v0.8h-0.8zM336.8 69.0h0.7v0.7h-0.7zM318.4 65.0h1.0v1.0h-1.0zM333.6 64.8h0.7v0.7h-0.7zM318.0 64.9h1.0v1.0h-1.0zM327.1 64.5h1.0v1.0h-1.0zM313.9 66.6h0.9v0.9h-0.9zM312.4 67.9h0.9v0.9h-0.9zM335.1 71.0h1.0v1.0h-1.0zM336.8 71.2h0.8v0.8h-0.8zM317.1 63.0h0.7v0.7h-0.7zM313.2 67.9h0.9v0.9h-0.9zM311.5 76.1h0.9v0.9h-0.9zM325.1 61.8h0.9v0.9h-0.9zM326.9 57.1h0.7v0.7h-0.7zM336.0 64.4h1.0v1.0h-1.0zM311.0 71.6h0.8v0.8h-0.8zM310.0 71.1h1.0v1.0h-1.0zM315.7 64.7h1.0v1.0h-1.0zM317.3 61.8h0.8v0.8h-0.8zM337.2 71.5h1.0v1.0h-1.0zM335.7 67.7h0.8v0.8h-0.8zM335.5 66.7h0.8v0.8h-0.8zM328.0 64.7h0.9v0.9h-0.9zM326.9 64.5h0.9v0.9h-0.9zM316.0 65.3h0.7v0.7h-0.7zM341.8 65.7h0.8v0.8h-0.8zM320.0 62.9h1.0v1.0h-1.0zM324.0 63.0h0.7v0.7h-0.7zM333.5 66.4h0.9v0.9h-0.9zM323.6 64.4h0.7v0.7h-0.7zM332.8 62.0h0.8v0.8h-0.8zM311.1 70.3h1.0v1.0h-1.0zM323.4 60.1h1.0v1.0h-1.0zM317.3 65.2h0.7v0.7h-0.7zM311.5 71.3h0.7v0.7h-0.7zM336.4 73.2h0.7v0.7h-0.7zM325.8 64.5h0.8v0.8h-0.8zM319.0 64.3h0.8v0.8h-0.8zM322.2 64.2h1.0v1.0h-1.0zM316.8 77.8h0.7v0.7h-0.7zM326.0 64.1h1.0v1.0h-1.0zM327.2 61.7h0.9v0.9h-0.9zM326.9 63.7h0.7v0.7h-0.7zM339.0 72.6h0.7v0.7h-0.7zM320.2 79.0h0.7v0.7h-0.7zM319.1 63.1h1.0v1.0h-1.0zM334.9 69.6h0.9v0.9h-0.9zM342.3 71.6h0.8v0.8h-0.8zM317.6 64.2h0.7v0.7h-0.7zM312.2 67.9h0.8v0.8h-0.8zM323.2 63.9h0.9v0.9h-0.9zM317.6 64.9h0.9v0.9h-0.9zM327.5 64.6h0.7v0.7h-0.7zM308.9 67.0h0.8v0.8h-0.8zM314.9 65.9h0.9v0.9h-0.9zM327.3 64.7h0.8v0.8h-0.8zM327.4 57.0h0.7v0.7h-0.7zM323.2 82.7h0.8v0.8h-0.8zM309.8 75.0h0.7v0.7h-0.7zM335.1 73.4h0.7v0.7h-0.7zM335.2 75.6h0.9v0.9h-0.9zM327.8 64.8h0.9v0.9h-0.9zM335.0 71.9h0.7v0.7h-0.7zM318.7 63.8h1.0v1.0h-1.0zM325.8 62.0h1.0v1.0h-1.0zM312.5 62.1h0.8v0.8h-0.8zM317.9 62.8h0.9v0.9h-0.9zM319.6 78.4h0.8v0.8h-0.8zM335.1 66.6h0.9v0.9h-0.9zM327.0 64.0h0.8v0.8h-0.8zM311.5 72.6h0.8v0.8h-0.8zM312.1 69.1h0.9v0.9h-0.9zM322.8 61.1h1.0v1.0h-1.0zM310.5 70.8h0.9v0.9h-0.9zM322.7 64.0h0.8v0.8h-0.8zM334.8 73.3h0.9v0.9h-0.9zM311.8 64.6h1.0v1.0h-1.0zM316.8 65.6h0.7v0.7h-0.7zM324.7 64.1h0.8v0.8h-0.8zM338.2 69.6h0.9v0.9h-0.9zM335.6 70.1h0.9v0.9h-0.9zM318.2 63.0h0.8v0.8h-0.8zM312.5 68.6h0.9v0.9h-0.9zM315.0 66.7h0.7v0.7h-0.7zM335.3 70.3h0.8v0.8h-0.8zM313.1 66.6h0.9v0.9h-0.9zM328.3 60.9h1.0v1.0h-1.0zM327.9 63.4h0.9v0.9h-0.9zM323.3 64.0h0.9v0.9h-0.9zM339.1 77.8h1.0v1.0h-1.0zM337.4 74.3h0.8v0.8h-0.8zM343.2 80.8h0.7v0.7h-0.7zM336.9 72.4h0.9v0.9h-0.9zM342.0 66.1h0.8v0.8h-0.8zM341.6 70.2h1.0v1.0h-1.0zM344.9 67.2h1.0v1.0h-1.0zM341.6 73.2h0.8v0.8h-0.8zM344.9 81.0h0.9v0.9h-0.9zM341.8 80.7h0.9v0.9h-0.9zM348.6 66.1h0.9v0.9h-0.9zM347.9 78.7h0.7v0.7h-0.7zM343.3 66.6h0.8v0.8h-0.8z"/>
<path d="M311.5 72.4 C311.5 65.7 318.0 63.7 324.6 63.7 C332.3 63.7 335.3 67.6 335.3 72.0 C335.3 77.1 330.5 79.5 323.4 79.5 C316.3 79.5 311.5 77.5 311.5 72.4Z" fill="#111"/>
<ellipse cx="324.4" cy="71.6" rx="9.8" ry="6.3" fill="url(#core)"/>
<ellipse cx="324.4" cy="71.6" rx="4.17" ry="2.77" fill="none" stroke="#888" stroke-opacity="0.5" stroke-width="0.35"/>
<ellipse cx="324.4" cy="71.6" rx="6.55" ry="4.35" fill="none" stroke="#888" stroke-opacity="0.5" stroke-width="0.35"/>
<ellipse cx="324.4" cy="71.6" rx="8.93" ry="5.93" fill="none" stroke="#888" stroke-opacity="0.5" stroke-width="0.35"/>
<ellipse cx="325.4" cy="71.3" rx="1.1" ry="0.8" fill="#fff"/>
<rect x="300.50" y="22.60" width="92.50" height="69.50" fill="none" stroke="#111" stroke-width="1.1"/>
<rect x="339.30" y="50.20" width="52.90" height="38.10" fill="none" stroke="#555" stroke-width="0.8"/>
<line x1="298.30" y1="25.73" x2="300.50" y2="25.73" stroke="#111" stroke-width="0.8"/>
<text x="295.20" y="27.03" font-size="5.3" text-anchor="end" textLength="8.7" lengthAdjust="spacingAndGlyphs" style="stroke-width:0.06px">250</text>
<line x1="298.30" y1="39.00" x2="300.50" y2="39.00" stroke="#111" stroke-width="0.8"/>
<text x="295.20" y="40.30" font-size="5.3" text-anchor="end" textLength="8.7" lengthAdjust="spacingAndGlyphs" style="stroke-width:0.06px">200</text>
<line x1="298.30" y1="52.28" x2="300.50" y2="52.28" stroke="#111" stroke-width="0.8"/>
<text x="295.20" y="53.58" font-size="5.3" text-anchor="end" textLength="8.7" lengthAdjust="spacingAndGlyphs" style="stroke-width:0.06px">150</text>
<line x1="298.30" y1="65.55" x2="300.50" y2="65.55" stroke="#111" stroke-width="0.8"/>
<text x="295.20" y="66.85" font-size="5.3" text-anchor="end" textLength="8.7" lengthAdjust="spacingAndGlyphs" style="stroke-width:0.06px">100</text>
<line x1="298.30" y1="78.83" x2="300.50" y2="78.83" stroke="#111" stroke-width="0.8"/>
<text x="295.20" y="80.13" font-size="5.3" text-anchor="end" textLength="5.8" lengthAdjust="spacingAndGlyphs" style="stroke-width:0.06px">50</text>
<line x1="299.30" y1="92.10" x2="300.50" y2="92.10" stroke="#111" stroke-width="0.6"/>
<line x1="299.30" y1="89.45" x2="300.50" y2="89.45" stroke="#111" stroke-width="0.6"/>
<line x1="299.30" y1="86.79" x2="300.50" y2="86.79" stroke="#111" stroke-width="0.6"/>
<line x1="299.30" y1="84.14" x2="300.50" y2="84.14" stroke="#111" stroke-width="0.6"/>
<line x1="299.30" y1="81.48" x2="300.50" y2="81.48" stroke="#111" stroke-width="0.6"/>
<line x1="299.30" y1="78.83" x2="300.50" y2="78.83" stroke="#111" stroke-width="0.6"/>
<line x1="299.30" y1="76.17" x2="300.50" y2="76.17" stroke="#111" stroke-width="0.6"/>
<line x1="299.30" y1="73.52" x2="300.50" y2="73.52" stroke="#111" stroke-width="0.6"/>
<line x1="299.30" y1="70.86" x2="300.50" y2="70.86" stroke="#111" stroke-width="0.6"/>
<line x1="299.30" y1="68.21" x2="300.50" y2="68.21" stroke="#111" stroke-width="0.6"/>
<line x1="299.30" y1="65.55" x2="300.50" y2="65.55" stroke="#111" stroke-width="0.6"/>
<line x1="299.30" y1="62.90" x2="300.50" y2="62.90" stroke="#111" stroke-width="0.6"/>
<line x1="299.30" y1="60.24" x2="300.50" y2="60.24" stroke="#111" stroke-width="0.6"/>
<line x1="299.30" y1="57.59" x2="300.50" y2="57.59" stroke="#111" stroke-width="0.6"/>
<line x1="299.30" y1="54.93" x2="300.50" y2="54.93" stroke="#111" stroke-width="0.6"/>
<line x1="299.30" y1="52.28" x2="300.50" y2="52.28" stroke="#111" stroke-width="0.6"/>
<line x1="299.30" y1="49.62" x2="300.50" y2="49.62" stroke="#111" stroke-width="0.6"/>
<line x1="299.30" y1="46.97" x2="300.50" y2="46.97" stroke="#111" stroke-width="0.6"/>
<line x1="299.30" y1="44.31" x2="300.50" y2="44.31" stroke="#111" stroke-width="0.6"/>
<line x1="299.30" y1="41.66" x2="300.50" y2="41.66" stroke="#111" stroke-width="0.6"/>
<line x1="299.30" y1="39.00" x2="300.50" y2="39.00" stroke="#111" stroke-width="0.6"/>
<line x1="299.30" y1="36.35" x2="300.50" y2="36.35" stroke="#111" stroke-width="0.6"/>
<line x1="299.30" y1="33.69" x2="300.50" y2="33.69" stroke="#111" stroke-width="0.6"/>
<line x1="299.30" y1="31.04" x2="300.50" y2="31.04" stroke="#111" stroke-width="0.6"/>
<line x1="299.30" y1="28.38" x2="300.50" y2="28.38" stroke="#111" stroke-width="0.6"/>
<line x1="299.30" y1="25.73" x2="300.50" y2="25.73" stroke="#111" stroke-width="0.6"/>
<text x="300.50" y="103.60" font-size="5.2" text-anchor="middle" textLength="12.1" lengthAdjust="spacingAndGlyphs" style="stroke-width:0.06px">−185</text>
<text x="312.20" y="103.60" font-size="5.2" text-anchor="middle" style="stroke-width:0.06px">0</text>
<text x="316.50" y="103.60" font-size="5.2" textLength="5" lengthAdjust="spacingAndGlyphs" style="stroke-width:0.06px">10</text>
<text x="321.30" y="101.10" font-size="3.2" style="stroke-width:0.06px">2</text>
<text x="338.70" y="103.60" font-size="5.2" textLength="5" lengthAdjust="spacingAndGlyphs" style="stroke-width:0.06px">10</text>
<text x="343.50" y="101.10" font-size="3.2" style="stroke-width:0.06px">3</text>
<text x="360.70" y="103.60" font-size="5.2" textLength="5" lengthAdjust="spacingAndGlyphs" style="stroke-width:0.06px">10</text>
<text x="365.50" y="101.10" font-size="3.2" style="stroke-width:0.06px">4</text>
<text x="380.70" y="103.60" font-size="5.2" textLength="5" lengthAdjust="spacingAndGlyphs" style="stroke-width:0.06px">10</text>
<text x="385.50" y="101.10" font-size="3.2" style="stroke-width:0.06px">5</text>
<line x1="319.00" y1="92.10" x2="319.00" y2="94.50" stroke="#111" stroke-width="0.8"/>
<line x1="325.32" y1="92.10" x2="325.32" y2="93.40" stroke="#111" stroke-width="0.6"/>
<line x1="329.02" y1="92.10" x2="329.02" y2="93.40" stroke="#111" stroke-width="0.6"/>
<line x1="331.64" y1="92.10" x2="331.64" y2="93.40" stroke="#111" stroke-width="0.6"/>
<line x1="333.68" y1="92.10" x2="333.68" y2="93.40" stroke="#111" stroke-width="0.6"/>
<line x1="335.34" y1="92.10" x2="335.34" y2="93.40" stroke="#111" stroke-width="0.6"/>
<line x1="336.75" y1="92.10" x2="336.75" y2="93.40" stroke="#111" stroke-width="0.6"/>
<line x1="337.96" y1="92.10" x2="337.96" y2="93.40" stroke="#111" stroke-width="0.6"/>
<line x1="339.04" y1="92.10" x2="339.04" y2="93.40" stroke="#111" stroke-width="0.6"/>
<line x1="341.20" y1="92.10" x2="341.20" y2="94.50" stroke="#111" stroke-width="0.8"/>
<line x1="347.52" y1="92.10" x2="347.52" y2="93.40" stroke="#111" stroke-width="0.6"/>
<line x1="351.22" y1="92.10" x2="351.22" y2="93.40" stroke="#111" stroke-width="0.6"/>
<line x1="353.84" y1="92.10" x2="353.84" y2="93.40" stroke="#111" stroke-width="0.6"/>
<line x1="355.88" y1="92.10" x2="355.88" y2="93.40" stroke="#111" stroke-width="0.6"/>
<line x1="357.54" y1="92.10" x2="357.54" y2="93.40" stroke="#111" stroke-width="0.6"/>
<line x1="358.95" y1="92.10" x2="358.95" y2="93.40" stroke="#111" stroke-width="0.6"/>
<line x1="360.16" y1="92.10" x2="360.16" y2="93.40" stroke="#111" stroke-width="0.6"/>
<line x1="361.24" y1="92.10" x2="361.24" y2="93.40" stroke="#111" stroke-width="0.6"/>
<line x1="363.20" y1="92.10" x2="363.20" y2="94.50" stroke="#111" stroke-width="0.8"/>
<line x1="369.52" y1="92.10" x2="369.52" y2="93.40" stroke="#111" stroke-width="0.6"/>
<line x1="373.22" y1="92.10" x2="373.22" y2="93.40" stroke="#111" stroke-width="0.6"/>
<line x1="375.84" y1="92.10" x2="375.84" y2="93.40" stroke="#111" stroke-width="0.6"/>
<line x1="377.88" y1="92.10" x2="377.88" y2="93.40" stroke="#111" stroke-width="0.6"/>
<line x1="379.54" y1="92.10" x2="379.54" y2="93.40" stroke="#111" stroke-width="0.6"/>
<line x1="380.95" y1="92.10" x2="380.95" y2="93.40" stroke="#111" stroke-width="0.6"/>
<line x1="382.16" y1="92.10" x2="382.16" y2="93.40" stroke="#111" stroke-width="0.6"/>
<line x1="383.24" y1="92.10" x2="383.24" y2="93.40" stroke="#111" stroke-width="0.6"/>
<line x1="383.20" y1="92.10" x2="383.20" y2="94.50" stroke="#111" stroke-width="0.8"/>
<line x1="389.52" y1="92.10" x2="389.52" y2="93.40" stroke="#111" stroke-width="0.6"/>
<line x1="300.50" y1="92.10" x2="300.50" y2="93.60" stroke="#111" stroke-width="0.6"/>
<line x1="312.20" y1="92.10" x2="312.20" y2="93.60" stroke="#111" stroke-width="0.6"/>
<line x1="303.50" y1="92.10" x2="303.50" y2="93.60" stroke="#111" stroke-width="0.6"/>
<line x1="306.50" y1="92.10" x2="306.50" y2="93.60" stroke="#111" stroke-width="0.6"/>
<line x1="309.50" y1="92.10" x2="309.50" y2="93.60" stroke="#111" stroke-width="0.6"/>
<line x1="314.50" y1="92.10" x2="314.50" y2="93.60" stroke="#111" stroke-width="0.6"/>
<text x="353.50" y="42.80" font-size="9.3" font-weight="bold" textLength="22.5" lengthAdjust="spacingAndGlyphs">0.6%</text>
<text x="365.80" y="72.20" font-size="4.8" textLength="12.5" lengthAdjust="spacingAndGlyphs" style="stroke-width:0.06px">ki67 +</text>
<text x="330.20" y="18.50" font-size="6.4" textLength="32.9" lengthAdjust="spacingAndGlyphs">CLL-1-ki-67</text>
<text x="317.30" y="112.70" font-size="6.8" textLength="58.9" lengthAdjust="spacingAndGlyphs">CLL-1-siRNA a ki-67</text>
<text x="282.40" y="32.20" font-size="5.3" text-anchor="middle" textLength="19.6" lengthAdjust="spacingAndGlyphs" transform="rotate(-90 282.40 32.20)" style="stroke-width:0.06px">(× 1,000)</text>
<text x="281.90" y="56.40" font-size="5.4" text-anchor="middle" textLength="13.6" lengthAdjust="spacingAndGlyphs" transform="rotate(-90 281.90 56.40)" style="stroke-width:0.06px">FSC-A</text>
<ellipse cx="446.1" cy="70.1" rx="17.3" ry="14.4" fill="#000" fill-opacity="0.22" filter="url(#hz)"/>
<path fill="#000" fill-opacity="0.2" d="M441.7 60.7h1.0v1.0h-1.0zM446.2 59.9h1.0v1.0h-1.0zM459.0 66.5h1.0v1.0h-1.0zM459.5 70.7h0.8v0.8h-0.8zM436.4 66.7h0.9v0.9h-0.9zM457.1 67.7h0.9v0.9h-0.9zM435.1 67.3h0.8v0.8h-0.8zM440.2 79.1h0.7v0.7h-0.7zM435.0 73.8h0.8v0.8h-0.8zM452.1 63.1h0.7v0.7h-0.7zM450.3 60.9h0.8v0.8h-0.8zM452.2 62.8h0.9v0.9h-0.9zM448.1 59.9h0.8v0.8h-0.8zM435.8 67.5h0.9v0.9h-0.9zM451.4 59.2h0.7v0.7h-0.7zM440.4 82.1h1.0v1.0h-1.0zM447.4 62.1h0.9v0.9h-0.9zM434.6 68.4h0.7v0.7h-0.7zM461.8 72.4h0.8v0.8h-0.8zM432.6 69.7h1.0v1.0h-1.0zM436.3 60.4h0.8v0.8h-0.8zM459.5 71.5h0.7v0.7h-0.7zM443.8 62.6h0.8v0.8h-0.8zM437.4 66.5h1.0v1.0h-1.0zM441.0 63.8h0.8v0.8h-0.8zM458.8 70.7h1.0v1.0h-1.0zM452.1 60.7h0.9v0.9h-0.9zM464.4 70.8h0.7v0.7h-0.7zM438.3 64.8h1.0v1.0h-1.0zM456.6 67.4h0.9v0.9h-0.9zM449.5 63.2h1.0v1.0h-1.0zM452.3 63.5h0.8v0.8h-0.8zM454.3 64.2h0.8v0.8h-0.8zM452.1 63.4h0.8v0.8h-0.8zM434.4 71.0h0.8v0.8h-0.8zM449.7 63.0h0.7v0.7h-0.7zM455.5 79.0h0.7v0.7h-0.7zM450.0 80.5h0.9v0.9h-0.9zM455.7 60.2h1.0v1.0h-1.0zM451.5 80.1h0.8v0.8h-0.8zM454.1 79.2h0.7v0.7h-0.7zM455.3 65.8h0.7v0.7h-0.7zM435.2 70.0h0.8v0.8h-0.8zM458.3 69.9h1.0v1.0h-1.0zM432.1 72.3h1.0v1.0h-1.0zM434.0 71.6h1.0v1.0h-1.0zM452.0 63.9h0.9v0.9h-0.9zM450.2 62.3h1.0v1.0h-1.0zM458.2 62.6h0.9v0.9h-0.9zM457.6 69.1h1.0v1.0h-1.0zM467.3 65.2h0.9v0.9h-0.9zM455.5 65.9h0.9v0.9h-0.9zM449.3 62.5h0.8v0.8h-0.8zM448.2 80.4h0.8v0.8h-0.8zM459.6 73.8h1.0v1.0h-1.0zM456.1 77.3h0.7v0.7h-0.7zM457.2 76.0h0.7v0.7h-0.7zM452.6 62.0h0.8v0.8h-0.8zM449.7 61.4h0.9v0.9h-0.9zM446.0 82.3h0.9v0.9h-0.9zM434.7 73.4h0.8v0.8h-0.8zM447.5 62.9h0.8v0.8h-0.8zM433.7 71.6h0.8v0.8h-0.8zM451.1 62.3h0.7v0.7h-0.7zM454.1 65.1h0.9v0.9h-0.9zM454.4 65.2h0.8v0.8h-0.8zM440.6 63.8h0.7v0.7h-0.7zM435.8 81.4h0.9v0.9h-0.9zM441.3 62.2h1.0v1.0h-1.0zM455.7 65.1h0.8v0.8h-0.8zM441.5 62.3h0.8v0.8h-0.8zM458.6 69.0h1.0v1.0h-1.0zM433.7 63.6h0.9v0.9h-0.9zM449.1 61.0h1.0v1.0h-1.0zM445.5 60.1h0.9v0.9h-0.9zM452.9 62.1h0.7v0.7h-0.7zM458.7 74.0h0.9v0.9h-0.9zM458.1 67.3h0.9v0.9h-0.9zM455.6 77.5h1.0v1.0h-1.0zM440.4 62.2h0.7v0.7h-0.7zM460.3 70.0h0.9v0.9h-0.9zM435.8 68.6h1.0v1.0h-1.0zM459.1 67.8h1.0v1.0h-1.0zM458.3 72.6h0.8v0.8h-0.8zM433.1 56.7h0.7v0.7h-0.7zM434.1 73.1h0.9v0.9h-0.9zM440.6 62.2h1.0v1.0h-1.0zM442.8 61.2h0.7v0.7h-0.7zM426.7 72.2h0.9v0.9h-0.9zM451.2 82.6h0.8v0.8h-0.8zM453.9 64.8h1.0v1.0h-1.0zM440.3 62.8h0.8v0.8h-0.8zM440.2 63.1h0.9v0.9h-0.9zM459.3 69.7h0.8v0.8h-0.8zM455.9 77.5h1.0v1.0h-1.0zM449.9 60.9h0.8v0.8h-0.8zM465.8 69.4h0.9v0.9h-0.9zM459.7 71.0h1.0v1.0h-1.0zM453.4 63.8h1.0v1.0h-1.0zM438.0 63.0h0.7v0.7h-0.7zM440.5 62.8h0.7v0.7h-0.7zM449.1 61.3h0.9v0.9h-0.9zM435.0 66.8h0.7v0.7h-0.7zM445.2 60.6h0.7v0.7h-0.7zM455.5 60.6h0.8v0.8h-0.8zM439.9 57.0h0.7v0.7h-0.7zM460.1 70.3h0.8v0.8h-0.8zM446.3 60.2h0.7v0.7h-0.7zM457.8 73.8h0.7v0.7h-0.7zM457.3 67.1h1.0v1.0h-1.0zM440.6 79.2h1.0v1.0h-1.0zM444.1 60.2h0.9v0.9h-0.9zM458.3 73.8h0.7v0.7h-0.7zM451.1 81.7h0.8v0.8h-0.8zM438.4 62.8h0.7v0.7h-0.7zM444.8 62.4h1.0v1.0h-1.0zM457.6 68.2h0.7v0.7h-0.7zM458.0 71.6h0.9v0.9h-0.9zM457.9 69.4h0.8v0.8h-0.8zM458.1 72.8h1.0v1.0h-1.0zM462.1 69.2h0.8v0.8h-0.8zM434.3 68.6h0.9v0.9h-0.9zM459.4 72.4h0.9v0.9h-0.9zM450.4 63.2h1.0v1.0h-1.0zM451.9 62.6h0.7v0.7h-0.7zM457.8 69.5h0.9v0.9h-0.9zM450.5 60.5h0.9v0.9h-0.9zM457.5 65.8h0.9v0.9h-0.9zM461.6 66.8h0.7v0.7h-0.7zM438.0 63.3h0.7v0.7h-0.7zM449.7 63.3h0.8v0.8h-0.8zM445.1 61.1h0.7v0.7h-0.7zM458.7 68.8h0.7v0.7h-0.7zM430.7 72.5h1.0v1.0h-1.0zM458.3 68.1h0.7v0.7h-0.7zM444.1 60.3h0.8v0.8h-0.8zM455.6 62.7h0.9v0.9h-0.9zM433.6 70.7h0.8v0.8h-0.8zM461.3 70.7h0.8v0.8h-0.8zM452.9 63.1h1.0v1.0h-1.0zM454.3 63.7h1.0v1.0h-1.0zM458.4 73.8h0.8v0.8h-0.8zM448.3 62.8h1.0v1.0h-1.0zM433.0 71.3h0.9v0.9h-0.9zM459.4 72.6h1.0v1.0h-1.0zM448.8 80.4h0.8v0.8h-0.8zM454.8 65.4h1.0v1.0h-1.0zM453.6 64.1h0.8v0.8h-0.8zM457.8 67.5h0.9v0.9h-0.9zM433.4 64.7h0.7v0.7h-0.7zM459.6 66.9h1.0v1.0h-1.0zM442.1 63.2h0.7v0.7h-0.7zM454.5 64.4h0.7v0.7h-0.7zM460.8 73.2h1.0v1.0h-1.0zM434.9 60.6h1.0v1.0h-1.0zM432.1 73.4h0.8v0.8h-0.8zM438.0 63.3h1.0v1.0h-1.0zM452.2 63.6h1.0v1.0h-1.0zM449.0 62.7h0.9v0.9h-0.9zM444.0 62.8h1.0v1.0h-1.0zM452.5 59.1h1.0v1.0h-1.0zM462.7 73.3h0.7v0.7h-0.7zM447.6 62.2h0.9v0.9h-0.9zM460.3 72.4h1.0v1.0h-1.0zM446.4 62.8h0.7v0.7h-0.7zM433.3 68.6h0.9v0.9h-0.9zM443.6 62.1h1.0v1.0h-1.0zM437.8 64.9h0.8v0.8h-0.8zM440.1 57.5h0.9v0.9h-0.9zM457.2 66.1h0.8v0.8h-0.8zM452.9 62.9h0.8v0.8h-0.8zM455.9 66.2h0.8v0.8h-0.8zM434.0 66.8h0.9v0.9h-0.9zM458.3 72.6h0.7v0.7h-0.7zM443.9 60.7h0.8v0.8h-0.8zM428.8 70.6h1.0v1.0h-1.0zM457.6 68.3h0.9v0.9h-0.9zM436.3 77.2h0.8v0.8h-0.8zM446.7 62.5h0.7v0.7h-0.7zM459.8 71.0h0.7v0.7h-0.7zM445.9 61.2h0.8v0.8h-0.8zM460.3 66.6h0.9v0.9h-0.9zM434.5 70.2h1.0v1.0h-1.0zM447.4 62.5h0.8v0.8h-0.8zM434.6 72.2h0.8v0.8h-0.8zM445.1 61.1h0.8v0.8h-0.8zM456.4 67.1h0.7v0.7h-0.7zM447.5 61.7h0.9v0.9h-0.9zM436.3 62.9h0.7v0.7h-0.7zM454.7 65.2h1.0v1.0h-1.0zM457.3 68.7h0.9v0.9h-0.9zM448.2 63.0h0.7v0.7h-0.7zM449.3 56.8h0.7v0.7h-0.7zM464.0 69.2h0.9v0.9h-0.9zM459.1 65.0h0.7v0.7h-0.7zM450.6 62.7h1.0v1.0h-1.0zM443.9 80.4h0.7v0.7h-0.7zM431.8 68.4h0.7v0.7h-0.7zM457.9 71.1h0.9v0.9h-0.9zM458.0 73.5h0.9v0.9h-0.9zM460.4 71.9h1.0v1.0h-1.0zM436.8 64.9h0.9v0.9h-0.9zM451.6 63.1h0.7v0.7h-0.7zM445.5 61.8h0.7v0.7h-0.7zM460.4 74.2h0.8v0.8h-0.8zM456.3 63.9h0.9v0.9h-0.9zM458.4 65.7h1.0v1.0h-1.0zM440.1 63.9h0.7v0.7h-0.7zM439.8 62.6h0.7v0.7h-0.7zM435.2 70.1h0.9v0.9h-0.9zM446.0 61.8h0.9v0.9h-0.9zM437.2 62.8h0.8v0.8h-0.8zM458.5 64.8h0.7v0.7h-0.7zM459.3 69.9h0.9v0.9h-0.9zM440.8 63.1h0.8v0.8h-0.8zM444.3 61.9h0.8v0.8h-0.8zM442.3 62.5h0.7v0.7h-0.7zM462.3 75.8h0.7v0.7h-0.7zM449.7 60.7h0.8v0.8h-0.8zM462.0 68.0h1.0v1.0h-1.0zM439.0 65.1h1.0v1.0h-1.0zM450.4 55.9h0.8v0.8h-0.8zM436.1 65.5h0.8v0.8h-0.8zM441.2 62.8h0.7v0.7h-0.7zM431.5 70.9h1.0v1.0h-1.0zM450.4 62.8h1.0v1.0h-1.0zM453.7 64.2h0.9v0.9h-0.9zM455.8 66.3h0.7v0.7h-0.7zM464.0 62.1h0.8v0.8h-0.8zM434.8 70.9h0.7v0.7h-0.7zM459.2 72.6h1.0v1.0h-1.0zM440.9 61.4h0.8v0.8h-0.8zM439.7 63.8h0.9v0.9h-0.9zM448.4 62.7h1.0v1.0h-1.0zM446.3 62.9h0.9v0.9h-0.9zM447.0 62.5h0.8v0.8h-0.8zM442.2 61.5h1.0v1.0h-1.0zM454.9 61.9h0.9v0.9h-0.9zM457.1 67.4h0.8v0.8h-0.8zM458.8 64.8h0.9v0.9h-0.9zM432.8 58.7h0.9v0.9h-0.9zM461.8 73.7h0.7v0.7h-0.7zM433.3 65.8h0.8v0.8h-0.8zM451.2 62.2h0.8v0.8h-0.8zM460.3 71.9h0.9v0.9h-0.9zM449.8 80.0h0.8v0.8h-0.8zM452.4 59.7h1.0v1.0h-1.0zM442.8 62.6h1.0v1.0h-1.0zM430.8 73.0h0.8v0.8h-0.8zM441.6 82.7h0.7v0.7h-0.7zM448.7 61.2h0.9v0.9h-0.9zM453.5 64.0h0.9v0.9h-0.9zM458.2 64.7h0.7v0.7h-0.7zM434.6 74.0h1.0v1.0h-1.0zM453.4 78.6h0.9v0.9h-0.9zM464.0 71.7h0.9v0.9h-0.9zM443.8 62.7h0.9v0.9h-0.9zM457.3 74.3h1.0v1.0h-1.0zM467.0 72.7h1.0v1.0h-1.0zM468.6 74.3h0.9v0.9h-0.9zM459.6 69.5h0.7v0.7h-0.7zM458.2 69.2h0.7v0.7h-0.7zM458.4 85.8h1.0v1.0h-1.0zM468.2 73.7h0.9v0.9h-0.9zM471.0 71.7h0.8v0.8h-0.8zM466.3 66.0h1.0v1.0h-1.0zM465.7 75.3h1.0v1.0h-1.0zM459.4 67.6h0.9v0.9h-0.9zM463.2 78.2h0.9v0.9h-0.9zM464.2 69.1h0.8v0.8h-0.8zM458.8 66.5h0.8v0.8h-0.8zM465.6 62.3h0.7v0.7h-0.7zM458.3 71.4h0.9v0.9h-0.9zM459.2 80.0h1.0v1.0h-1.0zM463.5 67.2h1.0v1.0h-1.0zM461.2 75.7h1.0v1.0h-1.0zM457.9 72.9h0.7v0.7h-0.7zM457.8 82.5h0.8v0.8h-0.8zM458.1 73.9h1.0v1.0h-1.0zM462.4 75.7h0.7v0.7h-0.7zM466.0 75.0h0.8v0.8h-0.8zM471.8 79.3h0.9v0.9h-0.9zM460.5 79.4h0.7v0.7h-0.7zM460.5 71.6h0.7v0.7h-0.7zM464.8 84.1h0.8v0.8h-0.8zM463.4 60.4h1.0v1.0h-1.0zM463.7 64.5h0.7v0.7h-0.7zM460.8 63.2h0.8v0.8h-0.8zM463.0 82.6h0.8v0.8h-0.8z"/>
<path fill="#000" fill-opacity="0.32" d="M433.9 65.5h0.8v0.8h-0.8zM434.9 68.0h1.0v1.0h-1.0zM452.8 63.7h1.0v1.0h-1.0zM455.6 80.5h0.8v0.8h-0.8zM452.3 61.3h0.8v0.8h-0.8zM459.7 68.5h0.9v0.9h-0.9zM447.4 61.7h1.0v1.0h-1.0zM443.1 80.3h1.0v1.0h-1.0zM441.6 63.1h0.8v0.8h-0.8zM444.7 61.8h0.9v0.9h-0.9zM442.3 62.7h0.8v0.8h-0.8zM450.2 63.2h1.0v1.0h-1.0zM429.8 66.8h0.8v0.8h-0.8zM456.9 65.9h0.9v0.9h-0.9zM427.0 73.6h0.9v0.9h-0.9zM441.2 62.1h0.9v0.9h-0.9zM453.4 63.2h0.8v0.8h-0.8zM461.9 68.3h0.8v0.8h-0.8zM441.8 62.4h0.9v0.9h-0.9zM435.5 73.6h0.8v0.8h-0.8zM434.5 72.3h0.8v0.8h-0.8zM433.4 64.5h0.7v0.7h-0.7zM466.1 71.5h0.8v0.8h-0.8zM462.0 66.4h1.0v1.0h-1.0zM441.8 60.3h0.9v0.9h-0.9zM465.2 71.5h0.8v0.8h-0.8zM454.9 64.5h0.9v0.9h-0.9zM441.0 63.9h0.8v0.8h-0.8zM444.3 59.9h0.7v0.7h-0.7zM446.0 58.6h0.7v0.7h-0.7zM436.0 68.0h1.0v1.0h-1.0zM442.3 79.7h0.7v0.7h-0.7zM435.5 67.9h0.7v0.7h-0.7zM429.6 68.2h0.8v0.8h-0.8zM459.2 72.0h1.0v1.0h-1.0zM451.6 63.5h0.7v0.7h-0.7zM451.9 62.9h0.9v0.9h-0.9zM428.0 68.9h1.0v1.0h-1.0zM459.9 70.8h0.9v0.9h-0.9zM442.5 56.8h0.9v0.9h-0.9zM459.7 73.2h0.9v0.9h-0.9zM441.9 80.9h1.0v1.0h-1.0zM459.9 69.2h1.0v1.0h-1.0zM449.8 60.0h1.0v1.0h-1.0zM434.7 73.4h1.0v1.0h-1.0zM431.0 68.7h0.8v0.8h-0.8zM460.3 70.6h0.9v0.9h-0.9zM450.0 62.0h0.8v0.8h-0.8zM458.2 71.4h1.0v1.0h-1.0zM449.5 81.9h0.9v0.9h-0.9zM456.9 62.8h0.9v0.9h-0.9zM434.7 71.0h0.8v0.8h-0.8zM456.4 66.3h0.9v0.9h-0.9zM441.5 62.9h0.7v0.7h-0.7zM434.2 72.3h0.9v0.9h-0.9zM428.5 70.8h1.0v1.0h-1.0zM442.3 61.3h0.9v0.9h-0.9zM452.4 64.1h0.8v0.8h-0.8zM432.7 68.5h0.9v0.9h-0.9zM448.5 58.9h1.0v1.0h-1.0zM443.6 62.6h0.9v0.9h-0.9zM442.5 62.7h0.8v0.8h-0.8zM443.5 62.3h0.7v0.7h-0.7zM463.6 74.9h0.7v0.7h-0.7zM437.3 61.3h0.7v0.7h-0.7zM438.0 62.3h0.9v0.9h-0.9zM453.4 63.4h0.9v0.9h-0.9zM455.6 66.3h1.0v1.0h-1.0zM440.6 63.3h0.9v0.9h-0.9zM458.1 75.0h0.8v0.8h-0.8zM455.1 63.2h0.7v0.7h-0.7zM459.4 68.9h0.8v0.8h-0.8zM435.0 72.8h0.9v0.9h-0.9zM440.2 64.2h0.8v0.8h-0.8zM454.8 64.4h0.8v0.8h-0.8zM444.0 84.2h0.8v0.8h-0.8zM430.9 72.6h0.7v0.7h-0.7zM435.9 67.1h1.0v1.0h-1.0zM454.0 62.8h0.7v0.7h-0.7zM440.5 64.3h1.0v1.0h-1.0zM460.2 68.2h0.7v0.7h-0.7zM458.7 69.8h0.8v0.8h-0.8zM450.7 62.4h0.7v0.7h-0.7zM446.5 61.6h0.7v0.7h-0.7zM454.4 64.2h0.7v0.7h-0.7zM455.1 64.4h0.7v0.7h-0.7zM457.7 69.4h0.9v0.9h-0.9zM435.8 65.8h1.0v1.0h-1.0zM438.6 63.4h0.8v0.8h-0.8zM443.3 63.2h0.9v0.9h-0.9zM465.2 67.2h0.9v0.9h-0.9zM435.2 64.0h0.9v0.9h-0.9zM446.8 60.9h0.9v0.9h-0.9zM445.4 61.4h0.9v0.9h-0.9zM454.7 61.4h1.0v1.0h-1.0zM441.5 62.0h0.7v0.7h-0.7zM453.6 61.0h0.8v0.8h-0.8zM440.3 61.6h0.7v0.7h-0.7zM450.3 61.8h1.0v1.0h-1.0zM449.8 61.0h0.7v0.7h-0.7zM441.0 79.4h0.8v0.8h-0.8zM451.5 63.7h0.7v0.7h-0.7zM434.3 62.6h0.8v0.8h-0.8zM433.7 69.5h1.0v1.0h-1.0zM449.6 81.5h0.8v0.8h-0.8zM459.0 66.7h0.7v0.7h-0.7zM459.0 72.0h0.8v0.8h-0.8zM442.1 63.6h0.8v0.8h-0.8zM440.1 64.4h0.7v0.7h-0.7zM458.1 70.0h0.7v0.7h-0.7zM442.3 60.8h0.8v0.8h-0.8zM441.1 60.0h0.9v0.9h-0.9zM438.9 80.1h0.7v0.7h-0.7zM440.9 63.9h0.8v0.8h-0.8zM464.4 65.9h0.8v0.8h-0.8zM426.0 67.6h0.8v0.8h-0.8zM446.9 60.3h0.7v0.7h-0.7zM453.5 63.3h0.7v0.7h-0.7zM455.2 78.2h0.8v0.8h-0.8zM459.6 68.8h0.8v0.8h-0.8zM451.5 62.3h1.0v1.0h-1.0zM458.8 68.9h0.8v0.8h-0.8zM451.3 58.1h0.7v0.7h-0.7zM449.0 80.6h1.0v1.0h-1.0zM447.1 56.4h0.8v0.8h-0.8zM459.0 68.5h0.8v0.8h-0.8zM435.3 68.2h1.0v1.0h-1.0zM458.9 71.3h0.8v0.8h-0.8zM456.9 66.7h0.7v0.7h-0.7zM435.3 68.5h0.9v0.9h-0.9zM445.3 60.7h1.0v1.0h-1.0zM436.9 67.1h1.0v1.0h-1.0zM438.9 63.5h1.0v1.0h-1.0zM436.5 64.1h1.0v1.0h-1.0zM442.5 63.4h0.8v0.8h-0.8zM429.8 64.7h0.8v0.8h-0.8zM455.2 65.9h0.7v0.7h-0.7zM442.9 63.3h0.7v0.7h-0.7zM462.9 70.2h0.9v0.9h-0.9zM451.4 60.7h1.0v1.0h-1.0zM441.6 58.4h0.9v0.9h-0.9zM459.0 72.0h0.9v0.9h-0.9zM436.0 65.3h0.9v0.9h-0.9zM460.4 72.2h0.8v0.8h-0.8zM454.6 80.0h0.8v0.8h-0.8zM444.7 63.0h0.9v0.9h-0.9zM437.8 59.5h0.8v0.8h-0.8zM442.0 62.5h1.0v1.0h-1.0zM449.8 61.9h0.9v0.9h-0.9zM444.3 62.2h0.7v0.7h-0.7zM440.5 60.7h0.8v0.8h-0.8zM443.2 62.7h0.7v0.7h-0.7zM445.5 58.0h0.7v0.7h-0.7zM440.7 63.8h0.7v0.7h-0.7zM460.1 74.7h0.7v0.7h-0.7zM468.4 71.4h0.9v0.9h-0.9zM457.3 68.3h1.0v1.0h-1.0zM441.5 80.2h0.8v0.8h-0.8zM458.0 71.5h0.9v0.9h-0.9zM442.1 63.0h1.0v1.0h-1.0zM462.6 63.1h0.9v0.9h-0.9zM443.2 81.6h0.9v0.9h-0.9zM460.5 60.5h1.0v1.0h-1.0zM443.5 60.7h0.9v0.9h-0.9zM454.7 65.5h1.0v1.0h-1.0zM435.6 68.3h0.8v0.8h-0.8zM459.0 62.1h0.9v0.9h-0.9zM455.1 65.7h0.8v0.8h-0.8zM435.2 72.2h0.9v0.9h-0.9zM459.9 71.8h0.8v0.8h-0.8zM435.1 73.5h0.7v0.7h-0.7zM440.9 63.9h0.7v0.7h-0.7zM448.5 62.9h0.9v0.9h-0.9zM461.0 66.5h1.0v1.0h-1.0zM448.9 59.4h0.9v0.9h-0.9zM429.5 71.5h0.9v0.9h-0.9zM458.0 71.6h1.0v1.0h-1.0zM450.2 83.2h1.0v1.0h-1.0zM452.3 64.1h0.7v0.7h-0.7zM434.0 72.0h1.0v1.0h-1.0zM451.2 56.3h0.7v0.7h-0.7zM431.0 73.9h0.9v0.9h-0.9zM461.2 73.4h0.8v0.8h-0.8zM459.8 72.5h1.0v1.0h-1.0zM454.5 64.2h0.8v0.8h-0.8zM449.1 59.4h0.7v0.7h-0.7zM444.6 61.3h1.0v1.0h-1.0zM450.4 83.9h0.9v0.9h-0.9zM432.6 68.4h0.9v0.9h-0.9zM449.1 59.9h0.8v0.8h-0.8zM450.6 82.2h0.9v0.9h-0.9zM449.7 58.0h1.0v1.0h-1.0zM442.8 62.3h0.9v0.9h-0.9zM459.9 72.9h1.0v1.0h-1.0zM434.6 66.5h0.9v0.9h-0.9zM461.0 66.4h0.9v0.9h-0.9zM435.4 68.8h0.9v0.9h-0.9zM450.2 61.9h0.8v0.8h-0.8zM459.4 75.2h1.0v1.0h-1.0zM450.6 81.3h1.0v1.0h-1.0zM430.5 66.0h0.9v0.9h-0.9zM442.5 63.2h0.8v0.8h-0.8zM440.2 64.3h0.7v0.7h-0.7zM457.6 66.8h1.0v1.0h-1.0zM458.8 62.2h0.9v0.9h-0.9zM458.1 67.9h0.8v0.8h-0.8zM458.6 65.7h0.7v0.7h-0.7zM454.7 65.5h0.7v0.7h-0.7zM459.5 68.6h1.0v1.0h-1.0zM434.3 70.2h0.7v0.7h-0.7zM440.0 62.9h0.9v0.9h-0.9zM447.7 62.8h0.8v0.8h-0.8zM435.4 69.9h0.9v0.9h-0.9zM440.4 63.5h0.7v0.7h-0.7zM434.2 71.1h0.7v0.7h-0.7zM442.2 63.0h1.0v1.0h-1.0zM452.7 84.2h0.7v0.7h-0.7zM459.7 71.4h1.0v1.0h-1.0zM448.4 60.7h1.0v1.0h-1.0zM460.8 67.4h0.7v0.7h-0.7zM445.5 61.2h0.9v0.9h-0.9zM446.4 62.3h0.7v0.7h-0.7zM447.4 61.1h0.9v0.9h-0.9zM429.2 70.3h0.7v0.7h-0.7zM436.6 64.0h0.9v0.9h-0.9zM458.2 63.7h1.0v1.0h-1.0zM438.3 63.9h0.8v0.8h-0.8zM458.0 66.4h0.8v0.8h-0.8zM449.6 81.7h1.0v1.0h-1.0zM449.7 62.6h0.8v0.8h-0.8zM426.0 70.1h1.0v1.0h-1.0zM451.0 63.3h0.7v0.7h-0.7zM458.1 71.7h1.0v1.0h-1.0zM451.8 61.5h1.0v1.0h-1.0zM458.9 73.3h1.0v1.0h-1.0zM453.5 64.6h1.0v1.0h-1.0zM457.1 76.4h0.7v0.7h-0.7zM434.5 68.3h0.9v0.9h-0.9zM437.7 59.3h0.7v0.7h-0.7zM451.4 62.7h0.9v0.9h-0.9zM454.0 63.4h0.7v0.7h-0.7zM450.8 61.2h0.8v0.8h-0.8zM458.4 72.1h0.9v0.9h-0.9zM458.5 66.2h1.0v1.0h-1.0zM448.5 57.0h1.0v1.0h-1.0zM458.1 62.6h1.0v1.0h-1.0zM439.9 63.8h0.9v0.9h-0.9zM434.1 68.3h0.8v0.8h-0.8zM457.9 70.3h0.7v0.7h-0.7zM460.3 73.5h0.7v0.7h-0.7zM446.1 62.5h0.8v0.8h-0.8zM456.2 65.6h0.9v0.9h-0.9zM445.4 61.1h0.8v0.8h-0.8zM448.7 63.0h0.7v0.7h-0.7zM441.1 59.2h0.7v0.7h-0.7zM437.2 76.8h0.7v0.7h-0.7zM461.3 77.2h0.7v0.7h-0.7zM456.5 66.5h0.8v0.8h-0.8zM451.2 62.8h1.0v1.0h-1.0zM440.6 58.4h0.9v0.9h-0.9zM436.4 67.6h1.0v1.0h-1.0zM438.9 64.6h0.7v0.7h-0.7zM436.4 61.7h0.7v0.7h-0.7zM459.3 62.9h0.8v0.8h-0.8zM462.3 63.5h0.8v0.8h-0.8zM453.0 64.1h0.9v0.9h-0.9zM440.4 63.9h0.9v0.9h-0.9zM435.0 69.7h1.0v1.0h-1.0zM441.5 79.7h1.0v1.0h-1.0zM460.1 70.4h0.8v0.8h-0.8zM458.3 67.2h1.0v1.0h-1.0zM459.1 68.1h0.7v0.7h-0.7zM463.3 70.4h0.9v0.9h-0.9zM463.7 69.7h0.9v0.9h-0.9zM460.1 63.9h0.8v0.8h-0.8zM468.2 69.5h0.9v0.9h-0.9zM457.3 72.1h0.9v0.9h-0.9zM458.5 74.3h0.9v0.9h-0.9zM461.4 74.3h0.7v0.7h-0.7zM459.6 75.6h1.0v1.0h-1.0zM457.7 76.6h1.0v1.0h-1.0zM459.9 71.1h0.9v0.9h-0.9zM467.4 74.4h0.9v0.9h-0.9zM462.9 69.7h0.9v0.9h-0.9zM461.8 71.2h1.0v1.0h-1.0zM462.1 74.3h0.9v0.9h-0.9zM468.2 75.8h1.0v1.0h-1.0zM458.8 70.1h1.0v1.0h-1.0zM460.2 77.3h0.9v0.9h-0.9zM466.8 77.7h0.9v0.9h-0.9zM459.1 75.5h1.0v1.0h-1.0zM463.5 79.6h0.7v0.7h-0.7zM459.5 74.4h0.9v0.9h-0.9zM464.7 76.3h0.9v0.9h-0.9zM463.0 70.6h0.7v0.7h-0.7zM462.5 70.2h0.9v0.9h-0.9z"/>
<path fill="#000" fill-opacity="0.45" d="M456.2 57.0h0.9v0.9h-0.9zM465.1 73.0h1.0v1.0h-1.0zM438.9 83.4h0.8v0.8h-0.8zM457.2 68.0h0.7v0.7h-0.7zM461.3 63.7h1.0v1.0h-1.0zM441.9 63.7h0.8v0.8h-0.8zM446.8 62.8h1.0v1.0h-1.0zM451.4 61.5h0.7v0.7h-0.7zM453.5 64.4h1.0v1.0h-1.0zM441.7 62.6h1.0v1.0h-1.0zM441.6 79.8h0.9v0.9h-0.9zM463.0 66.0h1.0v1.0h-1.0zM457.3 64.2h1.0v1.0h-1.0zM459.5 74.1h0.9v0.9h-0.9zM442.6 63.4h0.8v0.8h-0.8zM448.3 61.5h0.9v0.9h-0.9zM449.1 62.4h1.0v1.0h-1.0zM453.3 57.4h0.8v0.8h-0.8zM458.0 71.3h0.7v0.7h-0.7zM457.7 75.9h1.0v1.0h-1.0zM466.2 70.3h0.7v0.7h-0.7zM457.9 72.9h0.7v0.7h-0.7zM446.2 86.1h0.8v0.8h-0.8zM465.3 73.3h0.7v0.7h-0.7zM433.9 66.1h0.7v0.7h-0.7zM460.7 70.3h0.8v0.8h-0.8zM436.2 75.4h0.7v0.7h-0.7zM452.6 59.5h1.0v1.0h-1.0zM453.4 81.8h0.7v0.7h-0.7zM432.5 73.5h0.8v0.8h-0.8zM429.8 74.6h0.9v0.9h-0.9zM445.6 60.6h1.0v1.0h-1.0zM431.9 68.6h0.8v0.8h-0.8zM458.9 71.8h0.9v0.9h-0.9zM455.0 65.7h0.7v0.7h-0.7zM460.5 74.0h0.9v0.9h-0.9zM455.9 66.6h0.7v0.7h-0.7zM464.7 70.5h1.0v1.0h-1.0zM461.1 69.0h1.0v1.0h-1.0zM443.7 61.2h0.9v0.9h-0.9zM432.2 83.9h0.9v0.9h-0.9zM445.8 63.0h0.7v0.7h-0.7zM446.8 61.4h0.8v0.8h-0.8zM435.7 67.8h0.7v0.7h-0.7zM455.6 79.3h0.7v0.7h-0.7zM458.8 69.8h0.9v0.9h-0.9zM458.5 71.9h0.7v0.7h-0.7zM459.7 68.9h0.8v0.8h-0.8zM458.2 66.8h0.8v0.8h-0.8zM435.3 66.7h0.9v0.9h-0.9zM446.1 62.6h1.0v1.0h-1.0zM461.0 69.6h1.0v1.0h-1.0zM457.6 65.2h0.8v0.8h-0.8zM448.1 62.8h0.8v0.8h-0.8zM450.2 62.5h0.7v0.7h-0.7zM458.3 69.5h0.8v0.8h-0.8zM437.8 63.6h1.0v1.0h-1.0zM447.8 62.1h0.8v0.8h-0.8zM460.7 73.3h0.9v0.9h-0.9zM459.1 66.7h1.0v1.0h-1.0zM461.5 69.5h0.9v0.9h-0.9zM442.1 81.0h0.7v0.7h-0.7zM454.5 63.5h0.8v0.8h-0.8zM437.7 59.1h0.8v0.8h-0.8zM456.5 66.2h0.9v0.9h-0.9zM434.2 70.7h1.0v1.0h-1.0zM438.9 63.8h1.0v1.0h-1.0zM462.0 77.6h0.7v0.7h-0.7zM451.5 81.1h0.8v0.8h-0.8zM437.3 64.9h1.0v1.0h-1.0zM460.8 73.8h0.7v0.7h-0.7zM433.6 71.8h1.0v1.0h-1.0zM454.6 65.4h0.8v0.8h-0.8zM458.6 67.2h1.0v1.0h-1.0zM455.2 65.4h0.9v0.9h-0.9zM453.4 64.6h1.0v1.0h-1.0zM456.5 66.4h0.8v0.8h-0.8zM447.9 61.0h0.9v0.9h-0.9zM457.1 65.4h1.0v1.0h-1.0zM460.5 72.2h0.7v0.7h-0.7zM435.3 63.2h0.9v0.9h-0.9zM439.9 59.3h1.0v1.0h-1.0zM453.1 57.4h1.0v1.0h-1.0zM434.5 71.1h0.9v0.9h-0.9zM450.2 62.8h1.0v1.0h-1.0zM458.3 67.5h1.0v1.0h-1.0zM460.2 68.3h0.8v0.8h-0.8zM440.0 79.6h0.8v0.8h-0.8zM445.9 62.7h0.9v0.9h-0.9zM456.0 65.7h0.9v0.9h-0.9zM457.5 67.0h0.8v0.8h-0.8zM464.2 62.3h0.7v0.7h-0.7zM459.5 72.6h1.0v1.0h-1.0zM463.7 67.8h0.9v0.9h-0.9zM441.6 62.2h1.0v1.0h-1.0zM449.1 62.9h0.9v0.9h-0.9zM450.9 62.7h0.8v0.8h-0.8zM458.5 64.5h0.7v0.7h-0.7zM447.9 60.7h0.8v0.8h-0.8zM446.2 62.0h0.9v0.9h-0.9zM435.4 70.2h0.7v0.7h-0.7zM459.7 70.8h0.8v0.8h-0.8zM459.3 66.4h0.9v0.9h-0.9zM458.2 70.5h0.7v0.7h-0.7zM458.4 63.8h1.0v1.0h-1.0zM442.6 85.1h0.8v0.8h-0.8zM458.6 70.3h0.9v0.9h-0.9zM434.0 65.1h1.0v1.0h-1.0zM464.0 65.7h1.0v1.0h-1.0zM446.1 62.7h0.7v0.7h-0.7zM457.2 63.6h0.7v0.7h-0.7zM435.3 70.1h0.8v0.8h-0.8zM435.3 70.2h0.8v0.8h-0.8zM456.7 59.5h0.8v0.8h-0.8zM441.8 63.5h1.0v1.0h-1.0zM454.5 59.2h0.8v0.8h-0.8zM449.3 61.6h0.7v0.7h-0.7zM440.9 61.0h0.7v0.7h-0.7zM458.5 70.6h1.0v1.0h-1.0zM455.3 65.6h0.8v0.8h-0.8zM451.3 62.7h0.7v0.7h-0.7zM458.0 67.6h0.7v0.7h-0.7zM449.6 60.9h0.8v0.8h-0.8zM450.9 62.2h0.8v0.8h-0.8zM457.9 71.4h0.9v0.9h-0.9zM457.7 65.0h0.8v0.8h-0.8zM450.1 61.2h0.8v0.8h-0.8zM455.8 64.5h0.7v0.7h-0.7zM439.4 64.9h1.0v1.0h-1.0zM454.1 62.9h0.8v0.8h-0.8zM454.4 60.7h0.7v0.7h-0.7zM458.3 74.9h0.8v0.8h-0.8zM430.6 71.9h0.9v0.9h-0.9zM441.3 63.0h0.7v0.7h-0.7zM441.3 63.3h0.8v0.8h-0.8zM455.9 64.3h0.7v0.7h-0.7zM433.1 65.3h1.0v1.0h-1.0zM456.5 76.5h0.7v0.7h-0.7zM432.2 74.2h0.8v0.8h-0.8zM460.3 69.3h0.7v0.7h-0.7zM447.3 58.5h0.8v0.8h-0.8zM459.2 70.0h0.7v0.7h-0.7zM444.4 84.8h1.0v1.0h-1.0zM445.0 63.0h0.8v0.8h-0.8zM452.6 60.4h0.8v0.8h-0.8zM456.6 64.8h1.0v1.0h-1.0zM438.4 62.9h0.9v0.9h-0.9zM453.2 61.3h0.7v0.7h-0.7zM460.3 70.6h0.9v0.9h-0.9zM435.3 70.9h0.7v0.7h-0.7zM459.4 73.2h1.0v1.0h-1.0zM447.8 61.3h1.0v1.0h-1.0zM446.3 62.4h0.9v0.9h-0.9zM456.0 65.2h0.9v0.9h-0.9zM435.3 63.5h0.7v0.7h-0.7zM469.0 67.9h0.8v0.8h-0.8zM461.3 67.3h0.7v0.7h-0.7zM458.1 74.7h0.8v0.8h-0.8zM455.5 65.3h0.8v0.8h-0.8zM433.8 71.4h1.0v1.0h-1.0zM441.9 62.3h1.0v1.0h-1.0zM454.3 55.8h0.8v0.8h-0.8zM458.4 70.1h1.0v1.0h-1.0zM441.6 62.6h0.8v0.8h-0.8zM454.8 63.6h0.9v0.9h-0.9zM435.8 74.8h0.9v0.9h-0.9zM451.0 63.6h0.8v0.8h-0.8zM441.6 63.0h0.9v0.9h-0.9zM434.8 64.9h0.9v0.9h-0.9zM442.9 58.7h1.0v1.0h-1.0zM455.0 79.9h0.9v0.9h-0.9zM445.7 62.7h0.7v0.7h-0.7zM453.2 60.5h0.8v0.8h-0.8zM458.3 70.8h0.9v0.9h-0.9zM458.7 70.9h0.9v0.9h-0.9zM455.8 64.7h0.8v0.8h-0.8zM459.8 70.3h1.0v1.0h-1.0zM451.8 79.9h0.9v0.9h-0.9zM436.6 63.0h0.8v0.8h-0.8zM438.1 62.9h0.9v0.9h-0.9zM439.4 61.7h0.8v0.8h-0.8zM435.8 64.3h1.0v1.0h-1.0zM459.1 69.5h0.9v0.9h-0.9zM458.8 67.5h0.8v0.8h-0.8zM457.8 63.1h0.7v0.7h-0.7zM452.5 63.8h0.9v0.9h-0.9zM443.5 62.6h0.9v0.9h-0.9zM435.4 69.3h1.0v1.0h-1.0zM443.8 59.3h1.0v1.0h-1.0zM434.5 67.5h0.9v0.9h-0.9zM438.6 59.2h0.9v0.9h-0.9zM435.8 67.7h0.9v0.9h-0.9zM458.0 72.1h0.8v0.8h-0.8zM437.8 65.4h0.8v0.8h-0.8zM434.1 70.0h1.0v1.0h-1.0zM433.2 66.5h0.9v0.9h-0.9zM440.9 62.3h0.9v0.9h-0.9zM449.1 62.4h1.0v1.0h-1.0zM456.1 65.9h1.0v1.0h-1.0zM443.3 62.7h1.0v1.0h-1.0zM428.7 73.2h0.7v0.7h-0.7zM436.2 67.1h0.9v0.9h-0.9zM450.5 62.4h0.9v0.9h-0.9zM450.2 62.5h0.9v0.9h-0.9zM446.3 61.8h0.7v0.7h-0.7zM449.0 61.8h1.0v1.0h-1.0zM442.0 61.8h1.0v1.0h-1.0zM435.4 67.8h0.7v0.7h-0.7zM452.7 56.9h0.9v0.9h-0.9zM441.7 62.7h0.9v0.9h-0.9zM441.4 57.7h0.7v0.7h-0.7zM436.3 66.1h0.7v0.7h-0.7zM442.4 63.3h0.8v0.8h-0.8zM459.2 70.9h0.9v0.9h-0.9zM434.6 67.8h1.0v1.0h-1.0zM435.9 68.1h1.0v1.0h-1.0zM444.2 53.7h0.8v0.8h-0.8zM440.5 57.8h0.7v0.7h-0.7zM435.1 71.6h1.0v1.0h-1.0zM433.7 71.8h0.9v0.9h-0.9zM457.7 66.7h0.9v0.9h-0.9zM457.1 66.8h0.9v0.9h-0.9zM442.1 63.3h0.7v0.7h-0.7zM460.6 71.1h1.0v1.0h-1.0zM443.5 84.6h1.0v1.0h-1.0zM439.4 63.2h0.8v0.8h-0.8zM442.7 61.5h0.8v0.8h-0.8zM438.0 77.9h1.0v1.0h-1.0zM442.2 56.0h0.8v0.8h-0.8zM437.8 60.5h0.8v0.8h-0.8zM460.0 69.8h0.9v0.9h-0.9zM446.3 54.3h1.0v1.0h-1.0zM458.6 70.0h1.0v1.0h-1.0zM458.1 72.4h0.8v0.8h-0.8zM444.6 62.8h0.7v0.7h-0.7zM448.2 60.5h0.9v0.9h-0.9zM438.4 62.7h1.0v1.0h-1.0zM456.5 62.7h1.0v1.0h-1.0zM453.6 62.9h0.8v0.8h-0.8zM457.4 76.6h0.8v0.8h-0.8zM454.7 60.0h0.8v0.8h-0.8zM455.2 80.6h0.7v0.7h-0.7zM435.0 71.5h0.8v0.8h-0.8zM434.6 72.9h0.7v0.7h-0.7zM448.6 61.1h0.7v0.7h-0.7zM459.5 65.5h1.0v1.0h-1.0zM433.8 70.7h1.0v1.0h-1.0zM466.2 67.4h0.8v0.8h-0.8zM447.5 80.7h0.9v0.9h-0.9zM456.0 65.6h0.7v0.7h-0.7zM458.5 74.6h0.7v0.7h-0.7zM457.5 74.0h0.8v0.8h-0.8zM459.0 82.9h0.9v0.9h-0.9zM470.5 78.3h0.8v0.8h-0.8zM466.0 63.9h0.8v0.8h-0.8zM468.3 64.2h0.9v0.9h-0.9zM459.8 88.9h0.9v0.9h-0.9zM462.3 70.9h1.0v1.0h-1.0zM459.5 78.2h0.7v0.7h-0.7zM467.9 71.4h0.7v0.7h-0.7zM457.5 78.2h0.8v0.8h-0.8zM457.5 81.6h0.9v0.9h-0.9zM465.8 67.9h0.7v0.7h-0.7zM459.4 68.1h1.0v1.0h-1.0zM462.8 63.8h0.8v0.8h-0.8zM460.1 71.2h0.7v0.7h-0.7zM459.8 61.7h0.9v0.9h-0.9zM459.5 74.6h1.0v1.0h-1.0zM460.8 72.6h0.7v0.7h-0.7zM459.2 83.1h1.0v1.0h-1.0zM459.6 77.4h1.0v1.0h-1.0zM462.3 66.5h0.9v0.9h-0.9zM461.5 71.6h0.9v0.9h-0.9zM459.0 69.6h0.9v0.9h-0.9zM462.9 73.0h1.0v1.0h-1.0zM461.3 58.1h0.9v0.9h-0.9zM458.1 69.6h1.0v1.0h-1.0zM457.7 70.8h0.8v0.8h-0.8zM457.4 72.2h0.9v0.9h-0.9zM462.4 66.6h0.8v0.8h-0.8zM459.3 75.4h0.7v0.7h-0.7zM475.3 72.0h0.9v0.9h-0.9zM463.4 73.4h1.0v1.0h-1.0zM458.2 75.5h1.0v1.0h-1.0zM464.6 73.8h0.7v0.7h-0.7zM460.6 75.2h1.0v1.0h-1.0z"/>
<path fill="#000" fill-opacity="0.6" d="M435.1 67.3h1.0v1.0h-1.0zM457.8 70.1h0.9v0.9h-0.9zM444.3 61.9h0.7v0.7h-0.7zM436.5 66.6h1.0v1.0h-1.0zM442.5 62.2h0.7v0.7h-0.7zM451.5 59.6h1.0v1.0h-1.0zM437.9 60.3h1.0v1.0h-1.0zM435.2 68.1h0.9v0.9h-0.9zM433.0 70.6h0.8v0.8h-0.8zM443.8 63.1h0.7v0.7h-0.7zM455.3 65.7h1.0v1.0h-1.0zM462.7 70.2h0.7v0.7h-0.7zM429.9 70.7h0.7v0.7h-0.7zM458.2 72.6h0.8v0.8h-0.8zM431.9 67.8h0.8v0.8h-0.8zM432.5 69.0h0.9v0.9h-0.9zM458.0 78.2h1.0v1.0h-1.0zM444.8 59.8h1.0v1.0h-1.0zM461.2 72.1h0.7v0.7h-0.7zM443.8 62.2h0.9v0.9h-0.9zM456.3 78.8h0.8v0.8h-0.8zM430.0 76.0h1.0v1.0h-1.0zM458.0 63.3h0.9v0.9h-0.9zM445.7 62.7h0.7v0.7h-0.7zM459.0 72.0h1.0v1.0h-1.0zM444.6 57.5h0.7v0.7h-0.7zM439.9 78.8h0.9v0.9h-0.9zM451.6 58.2h0.9v0.9h-0.9zM433.7 69.5h0.8v0.8h-0.8zM454.0 63.0h1.0v1.0h-1.0zM456.2 61.4h0.8v0.8h-0.8zM460.0 73.2h1.0v1.0h-1.0zM450.2 82.3h0.9v0.9h-0.9zM434.1 73.1h0.7v0.7h-0.7zM452.2 81.4h0.8v0.8h-0.8zM437.4 65.8h0.7v0.7h-0.7zM458.9 71.3h0.7v0.7h-0.7zM457.7 73.6h0.9v0.9h-0.9zM445.6 62.7h0.8v0.8h-0.8zM459.3 71.7h0.7v0.7h-0.7zM448.4 61.3h1.0v1.0h-1.0zM445.6 61.9h0.8v0.8h-0.8zM439.4 82.6h1.0v1.0h-1.0zM438.4 77.6h0.7v0.7h-0.7zM459.1 67.5h0.8v0.8h-0.8zM440.8 63.1h0.9v0.9h-0.9zM449.5 60.7h1.0v1.0h-1.0zM451.0 61.2h0.7v0.7h-0.7zM456.1 65.8h0.9v0.9h-0.9zM435.0 72.8h0.7v0.7h-0.7zM434.8 71.8h1.0v1.0h-1.0zM454.9 65.0h1.0v1.0h-1.0zM452.2 63.8h0.9v0.9h-0.9zM458.0 69.9h0.9v0.9h-0.9zM467.3 72.6h0.9v0.9h-0.9zM460.4 72.0h0.8v0.8h-0.8zM443.6 61.8h1.0v1.0h-1.0zM450.9 63.3h0.7v0.7h-0.7zM462.7 67.9h0.8v0.8h-0.8zM432.1 72.2h1.0v1.0h-1.0zM432.5 72.1h1.0v1.0h-1.0zM442.8 62.0h0.9v0.9h-0.9zM434.8 68.5h0.7v0.7h-0.7zM458.5 60.0h0.9v0.9h-0.9zM460.3 69.8h1.0v1.0h-1.0zM461.7 69.3h0.9v0.9h-0.9zM459.3 68.3h0.9v0.9h-0.9zM429.8 77.5h0.7v0.7h-0.7zM440.0 64.4h1.0v1.0h-1.0zM452.5 81.6h0.9v0.9h-0.9zM432.8 65.9h0.7v0.7h-0.7zM434.7 70.9h0.7v0.7h-0.7zM465.0 68.2h0.8v0.8h-0.8zM452.7 64.0h0.9v0.9h-0.9zM435.8 68.8h0.8v0.8h-0.8zM445.4 61.3h1.0v1.0h-1.0zM462.4 68.3h0.8v0.8h-0.8zM452.8 62.2h0.8v0.8h-0.8zM453.6 60.5h1.0v1.0h-1.0zM450.4 61.8h0.7v0.7h-0.7zM430.9 74.3h0.9v0.9h-0.9zM448.9 82.9h0.9v0.9h-0.9zM433.7 71.1h0.8v0.8h-0.8zM437.3 65.9h0.9v0.9h-0.9zM453.9 63.8h0.8v0.8h-0.8zM459.1 72.0h0.7v0.7h-0.7zM456.5 60.2h0.8v0.8h-0.8zM436.0 66.9h1.0v1.0h-1.0zM457.5 64.2h0.7v0.7h-0.7zM454.7 62.4h0.7v0.7h-0.7zM459.4 72.5h0.8v0.8h-0.8zM459.2 71.1h0.9v0.9h-0.9zM455.3 65.5h1.0v1.0h-1.0zM454.6 63.1h0.9v0.9h-0.9zM453.1 83.0h0.7v0.7h-0.7zM458.1 71.2h0.9v0.9h-0.9zM441.8 63.5h0.9v0.9h-0.9zM457.9 63.4h0.7v0.7h-0.7zM446.9 62.7h1.0v1.0h-1.0zM454.8 65.0h0.7v0.7h-0.7zM462.8 68.3h0.8v0.8h-0.8zM450.5 63.1h0.9v0.9h-0.9zM457.2 65.5h0.8v0.8h-0.8zM433.2 72.3h1.0v1.0h-1.0zM458.8 63.4h0.7v0.7h-0.7zM439.6 62.7h1.0v1.0h-1.0zM452.0 81.9h0.8v0.8h-0.8zM459.9 72.4h1.0v1.0h-1.0zM443.4 62.7h0.8v0.8h-0.8zM458.3 72.5h0.7v0.7h-0.7zM459.7 68.4h0.8v0.8h-0.8zM456.0 62.4h1.0v1.0h-1.0zM439.6 64.4h0.9v0.9h-0.9zM459.0 69.2h0.7v0.7h-0.7zM456.8 65.6h0.8v0.8h-0.8zM466.1 71.0h1.0v1.0h-1.0zM434.0 75.8h0.8v0.8h-0.8zM460.1 72.5h0.7v0.7h-0.7zM435.3 72.3h0.8v0.8h-0.8zM431.6 71.9h0.9v0.9h-0.9zM429.9 70.1h0.7v0.7h-0.7zM458.8 72.7h0.9v0.9h-0.9zM454.8 62.7h1.0v1.0h-1.0zM445.5 62.7h1.0v1.0h-1.0zM432.6 69.6h0.9v0.9h-0.9zM440.0 62.5h0.8v0.8h-0.8zM462.5 65.1h1.0v1.0h-1.0zM437.1 66.6h0.8v0.8h-0.8zM448.8 62.4h0.7v0.7h-0.7zM443.9 63.2h1.0v1.0h-1.0zM441.7 62.9h0.9v0.9h-0.9zM447.3 62.7h0.7v0.7h-0.7zM441.1 59.8h0.9v0.9h-0.9zM457.9 72.5h0.8v0.8h-0.8zM439.2 63.1h0.8v0.8h-0.8zM435.9 76.6h0.7v0.7h-0.7zM427.2 64.4h0.9v0.9h-0.9zM459.4 71.9h0.9v0.9h-0.9zM459.1 69.6h0.8v0.8h-0.8zM435.7 63.9h0.8v0.8h-0.8zM458.9 71.6h0.8v0.8h-0.8zM447.5 61.3h0.7v0.7h-0.7zM445.2 60.0h1.0v1.0h-1.0zM462.0 65.9h1.0v1.0h-1.0zM459.3 65.3h0.9v0.9h-0.9zM452.7 63.2h1.0v1.0h-1.0zM445.7 60.2h1.0v1.0h-1.0zM446.6 62.9h1.0v1.0h-1.0zM439.7 59.3h0.7v0.7h-0.7zM455.6 66.3h0.7v0.7h-0.7zM436.9 64.3h0.9v0.9h-0.9zM457.4 63.6h0.7v0.7h-0.7zM448.5 61.7h0.9v0.9h-0.9zM458.6 64.2h0.7v0.7h-0.7zM458.6 68.7h0.7v0.7h-0.7zM444.4 62.5h0.8v0.8h-0.8zM458.6 72.3h0.8v0.8h-0.8zM460.2 64.7h0.7v0.7h-0.7zM458.1 73.4h0.8v0.8h-0.8zM457.6 77.4h0.9v0.9h-0.9zM445.4 62.6h0.8v0.8h-0.8zM443.4 57.3h0.8v0.8h-0.8zM439.8 59.2h1.0v1.0h-1.0zM451.6 60.1h0.8v0.8h-0.8zM452.8 63.7h0.9v0.9h-0.9zM435.6 74.2h0.7v0.7h-0.7zM436.4 66.2h0.7v0.7h-0.7zM440.5 63.1h1.0v1.0h-1.0zM443.4 62.4h1.0v1.0h-1.0zM440.1 59.0h0.9v0.9h-0.9zM449.9 61.2h1.0v1.0h-1.0zM437.6 63.4h0.8v0.8h-0.8zM434.4 67.4h1.0v1.0h-1.0zM450.8 62.5h0.7v0.7h-0.7zM459.5 72.4h0.8v0.8h-0.8zM433.8 69.5h0.9v0.9h-0.9zM432.6 73.5h0.9v0.9h-0.9zM446.4 62.5h0.7v0.7h-0.7zM440.5 57.8h0.7v0.7h-0.7zM435.1 71.2h1.0v1.0h-1.0zM442.6 61.4h1.0v1.0h-1.0zM463.0 67.6h0.8v0.8h-0.8zM453.7 61.7h0.8v0.8h-0.8zM438.8 63.8h0.7v0.7h-0.7zM438.3 63.0h0.8v0.8h-0.8zM460.0 76.1h0.8v0.8h-0.8zM460.0 70.8h0.9v0.9h-0.9zM457.7 67.4h0.7v0.7h-0.7zM455.0 65.0h0.7v0.7h-0.7zM436.1 67.8h0.8v0.8h-0.8zM458.4 66.4h1.0v1.0h-1.0zM435.5 65.8h1.0v1.0h-1.0zM451.4 63.6h1.0v1.0h-1.0zM456.3 58.6h0.7v0.7h-0.7zM448.9 58.0h1.0v1.0h-1.0zM462.5 71.7h0.9v0.9h-0.9zM458.4 69.2h0.7v0.7h-0.7zM434.5 68.1h0.7v0.7h-0.7zM454.9 61.4h0.8v0.8h-0.8zM458.0 67.6h0.9v0.9h-0.9zM444.8 60.8h0.8v0.8h-0.8zM456.3 65.4h0.9v0.9h-0.9zM457.3 75.6h0.9v0.9h-0.9zM459.8 70.0h0.7v0.7h-0.7zM443.6 62.7h0.9v0.9h-0.9zM437.6 66.2h0.7v0.7h-0.7zM448.8 58.7h0.9v0.9h-0.9zM437.4 77.4h1.0v1.0h-1.0zM455.5 66.0h0.8v0.8h-0.8zM443.3 59.0h0.9v0.9h-0.9zM440.1 63.0h1.0v1.0h-1.0zM461.6 64.1h1.0v1.0h-1.0zM434.7 70.4h0.9v0.9h-0.9zM459.5 61.6h0.8v0.8h-0.8zM452.6 63.7h0.8v0.8h-0.8zM461.4 72.4h0.7v0.7h-0.7zM450.7 63.4h0.8v0.8h-0.8zM449.2 62.2h0.7v0.7h-0.7zM432.6 69.8h1.0v1.0h-1.0zM456.8 66.6h1.0v1.0h-1.0zM438.7 64.1h0.8v0.8h-0.8zM452.1 55.6h0.7v0.7h-0.7zM448.1 63.0h1.0v1.0h-1.0zM458.5 71.6h0.7v0.7h-0.7zM464.1 72.0h0.7v0.7h-0.7zM446.5 60.3h0.7v0.7h-0.7zM460.7 68.3h0.7v0.7h-0.7zM455.3 64.7h0.7v0.7h-0.7zM454.2 64.7h1.0v1.0h-1.0zM459.1 71.2h1.0v1.0h-1.0zM459.0 71.3h1.0v1.0h-1.0zM433.5 71.3h0.8v0.8h-0.8zM452.9 64.1h0.7v0.7h-0.7zM438.7 65.0h0.9v0.9h-0.9zM451.3 61.8h0.7v0.7h-0.7zM461.6 68.2h0.9v0.9h-0.9zM442.6 59.3h1.0v1.0h-1.0zM438.8 62.9h0.7v0.7h-0.7zM462.6 73.5h1.0v1.0h-1.0zM455.8 64.9h0.7v0.7h-0.7zM459.3 70.9h0.9v0.9h-0.9zM444.6 61.6h0.7v0.7h-0.7zM447.1 59.2h0.8v0.8h-0.8zM456.4 67.1h0.8v0.8h-0.8zM431.4 69.7h0.7v0.7h-0.7zM456.7 66.9h1.0v1.0h-1.0zM440.9 61.7h1.0v1.0h-1.0zM453.5 62.6h0.7v0.7h-0.7zM450.5 80.3h1.0v1.0h-1.0zM433.7 70.0h0.8v0.8h-0.8zM453.4 62.5h1.0v1.0h-1.0zM438.8 65.2h0.7v0.7h-0.7zM444.1 62.9h0.9v0.9h-0.9zM457.7 66.5h0.8v0.8h-0.8zM462.1 70.2h0.7v0.7h-0.7zM457.7 68.7h0.8v0.8h-0.8zM433.6 71.1h0.9v0.9h-0.9zM453.8 64.9h0.8v0.8h-0.8zM447.3 61.7h0.8v0.8h-0.8zM459.6 64.5h1.0v1.0h-1.0zM434.5 75.2h0.8v0.8h-0.8zM442.5 63.4h0.8v0.8h-0.8zM440.6 62.7h0.9v0.9h-0.9zM459.6 75.3h1.0v1.0h-1.0zM466.3 72.1h0.7v0.7h-0.7zM457.7 74.6h0.8v0.8h-0.8zM462.5 82.1h1.0v1.0h-1.0zM457.8 79.3h0.8v0.8h-0.8zM458.3 72.9h0.7v0.7h-0.7zM457.7 75.7h0.9v0.9h-0.9zM461.4 62.5h1.0v1.0h-1.0zM459.9 75.4h1.0v1.0h-1.0zM463.9 69.4h0.8v0.8h-0.8zM470.1 62.6h0.9v0.9h-0.9zM459.7 74.3h0.7v0.7h-0.7zM457.3 74.9h1.0v1.0h-1.0zM459.3 77.2h1.0v1.0h-1.0zM458.5 79.0h0.7v0.7h-0.7zM462.7 67.6h1.0v1.0h-1.0zM459.3 76.4h0.9v0.9h-0.9zM457.2 71.7h0.9v0.9h-0.9zM464.4 77.2h0.7v0.7h-0.7zM466.5 68.8h1.0v1.0h-1.0zM462.1 83.3h1.0v1.0h-1.0zM467.1 71.6h0.7v0.7h-0.7zM463.8 80.0h0.9v0.9h-0.9zM471.2 76.1h0.7v0.7h-0.7zM470.8 70.5h0.9v0.9h-0.9zM460.8 74.0h1.0v1.0h-1.0zM465.6 76.7h1.0v1.0h-1.0zM458.6 74.4h0.8v0.8h-0.8zM464.6 73.2h0.7v0.7h-0.7zM458.5 74.1h0.8v0.8h-0.8zM460.3 70.5h0.7v0.7h-0.7zM461.2 72.6h0.9v0.9h-0.9zM469.5 66.2h0.8v0.8h-0.8zM462.4 71.7h1.0v1.0h-1.0zM466.9 66.2h1.0v1.0h-1.0zM461.2 75.9h1.0v1.0h-1.0z"/>
<path d="M434.7 72.6 C434.7 64.4 441.2 62.0 447.8 62.0 C455.5 62.0 458.5 66.8 458.5 72.1 C458.5 78.3 453.7 81.2 446.6 81.2 C439.5 81.2 434.7 78.8 434.7 72.6Z" fill="#111"/>
<ellipse cx="447.1" cy="71.6" rx="9.8" ry="7.7" fill="url(#core)"/>
<ellipse cx="447.1" cy="71.6" rx="4.17" ry="3.36" fill="none" stroke="#888" stroke-opacity="0.5" stroke-width="0.35"/>
<ellipse cx="447.1" cy="71.6" rx="6.55" ry="5.28" fill="none" stroke="#888" stroke-opacity="0.5" stroke-width="0.35"/>
<ellipse cx="447.1" cy="71.6" rx="8.93" ry="7.20" fill="none" stroke="#888" stroke-opacity="0.5" stroke-width="0.35"/>
<ellipse cx="447.6" cy="71.9" rx="1.1" ry="0.8" fill="#fff"/>
<rect x="421.60" y="22.50" width="93.00" height="69.50" fill="none" stroke="#111" stroke-width="1.1"/>
<rect x="460.10" y="50.80" width="52.50" height="37.50" fill="none" stroke="#555" stroke-width="0.8"/>
<line x1="419.40" y1="25.63" x2="421.60" y2="25.63" stroke="#111" stroke-width="0.8"/>
<text x="416.30" y="26.93" font-size="5.3" text-anchor="end" textLength="8.7" lengthAdjust="spacingAndGlyphs" style="stroke-width:0.06px">250</text>
<line x1="419.40" y1="38.90" x2="421.60" y2="38.90" stroke="#111" stroke-width="0.8"/>
<text x="416.30" y="40.20" font-size="5.3" text-anchor="end" textLength="8.7" lengthAdjust="spacingAndGlyphs" style="stroke-width:0.06px">200</text>
<line x1="419.40" y1="52.18" x2="421.60" y2="52.18" stroke="#111" stroke-width="0.8"/>
<text x="416.30" y="53.48" font-size="5.3" text-anchor="end" textLength="8.7" lengthAdjust="spacingAndGlyphs" style="stroke-width:0.06px">150</text>
<line x1="419.40" y1="65.45" x2="421.60" y2="65.45" stroke="#111" stroke-width="0.8"/>
<text x="416.30" y="66.75" font-size="5.3" text-anchor="end" textLength="8.7" lengthAdjust="spacingAndGlyphs" style="stroke-width:0.06px">100</text>
<line x1="419.40" y1="78.73" x2="421.60" y2="78.73" stroke="#111" stroke-width="0.8"/>
<text x="416.30" y="80.03" font-size="5.3" text-anchor="end" textLength="5.8" lengthAdjust="spacingAndGlyphs" style="stroke-width:0.06px">50</text>
<line x1="420.40" y1="92.00" x2="421.60" y2="92.00" stroke="#111" stroke-width="0.6"/>
<line x1="420.40" y1="89.35" x2="421.60" y2="89.35" stroke="#111" stroke-width="0.6"/>
<line x1="420.40" y1="86.69" x2="421.60" y2="86.69" stroke="#111" stroke-width="0.6"/>
<line x1="420.40" y1="84.04" x2="421.60" y2="84.04" stroke="#111" stroke-width="0.6"/>
<line x1="420.40" y1="81.38" x2="421.60" y2="81.38" stroke="#111" stroke-width="0.6"/>
<line x1="420.40" y1="78.73" x2="421.60" y2="78.73" stroke="#111" stroke-width="0.6"/>
<line x1="420.40" y1="76.07" x2="421.60" y2="76.07" stroke="#111" stroke-width="0.6"/>
<line x1="420.40" y1="73.42" x2="421.60" y2="73.42" stroke="#111" stroke-width="0.6"/>
<line x1="420.40" y1="70.76" x2="421.60" y2="70.76" stroke="#111" stroke-width="0.6"/>
<line x1="420.40" y1="68.11" x2="421.60" y2="68.11" stroke="#111" stroke-width="0.6"/>
<line x1="420.40" y1="65.45" x2="421.60" y2="65.45" stroke="#111" stroke-width="0.6"/>
<line x1="420.40" y1="62.80" x2="421.60" y2="62.80" stroke="#111" stroke-width="0.6"/>
<line x1="420.40" y1="60.14" x2="421.60" y2="60.14" stroke="#111" stroke-width="0.6"/>
<line x1="420.40" y1="57.49" x2="421.60" y2="57.49" stroke="#111" stroke-width="0.6"/>
<line x1="420.40" y1="54.83" x2="421.60" y2="54.83" stroke="#111" stroke-width="0.6"/>
<line x1="420.40" y1="52.18" x2="421.60" y2="52.18" stroke="#111" stroke-width="0.6"/>
<line x1="420.40" y1="49.52" x2="421.60" y2="49.52" stroke="#111" stroke-width="0.6"/>
<line x1="420.40" y1="46.87" x2="421.60" y2="46.87" stroke="#111" stroke-width="0.6"/>
<line x1="420.40" y1="44.21" x2="421.60" y2="44.21" stroke="#111" stroke-width="0.6"/>
<line x1="420.40" y1="41.56" x2="421.60" y2="41.56" stroke="#111" stroke-width="0.6"/>
<line x1="420.40" y1="38.90" x2="421.60" y2="38.90" stroke="#111" stroke-width="0.6"/>
<line x1="420.40" y1="36.25" x2="421.60" y2="36.25" stroke="#111" stroke-width="0.6"/>
<line x1="420.40" y1="33.59" x2="421.60" y2="33.59" stroke="#111" stroke-width="0.6"/>
<line x1="420.40" y1="30.94" x2="421.60" y2="30.94" stroke="#111" stroke-width="0.6"/>
<line x1="420.40" y1="28.28" x2="421.60" y2="28.28" stroke="#111" stroke-width="0.6"/>
<line x1="420.40" y1="25.63" x2="421.60" y2="25.63" stroke="#111" stroke-width="0.6"/>
<text x="421.60" y="103.50" font-size="5.2" text-anchor="middle" textLength="12.1" lengthAdjust="spacingAndGlyphs" style="stroke-width:0.06px">−185</text>
<text x="433.30" y="103.50" font-size="5.2" text-anchor="middle" style="stroke-width:0.06px">0</text>
<text x="437.60" y="103.50" font-size="5.2" textLength="5" lengthAdjust="spacingAndGlyphs" style="stroke-width:0.06px">10</text>
<text x="442.40" y="101.00" font-size="3.2" style="stroke-width:0.06px">2</text>
<text x="459.80" y="103.50" font-size="5.2" textLength="5" lengthAdjust="spacingAndGlyphs" style="stroke-width:0.06px">10</text>
<text x="464.60" y="101.00" font-size="3.2" style="stroke-width:0.06px">3</text>
<text x="481.80" y="103.50" font-size="5.2" textLength="5" lengthAdjust="spacingAndGlyphs" style="stroke-width:0.06px">10</text>
<text x="486.60" y="101.00" font-size="3.2" style="stroke-width:0.06px">4</text>
<text x="501.80" y="103.50" font-size="5.2" textLength="5" lengthAdjust="spacingAndGlyphs" style="stroke-width:0.06px">10</text>
<text x="506.60" y="101.00" font-size="3.2" style="stroke-width:0.06px">5</text>
<line x1="440.10" y1="92.00" x2="440.10" y2="94.40" stroke="#111" stroke-width="0.8"/>
<line x1="446.42" y1="92.00" x2="446.42" y2="93.30" stroke="#111" stroke-width="0.6"/>
<line x1="450.12" y1="92.00" x2="450.12" y2="93.30" stroke="#111" stroke-width="0.6"/>
<line x1="452.74" y1="92.00" x2="452.74" y2="93.30" stroke="#111" stroke-width="0.6"/>
<line x1="454.78" y1="92.00" x2="454.78" y2="93.30" stroke="#111" stroke-width="0.6"/>
<line x1="456.44" y1="92.00" x2="456.44" y2="93.30" stroke="#111" stroke-width="0.6"/>
<line x1="457.85" y1="92.00" x2="457.85" y2="93.30" stroke="#111" stroke-width="0.6"/>
<line x1="459.06" y1="92.00" x2="459.06" y2="93.30" stroke="#111" stroke-width="0.6"/>
<line x1="460.14" y1="92.00" x2="460.14" y2="93.30" stroke="#111" stroke-width="0.6"/>
<line x1="462.30" y1="92.00" x2="462.30" y2="94.40" stroke="#111" stroke-width="0.8"/>
<line x1="468.62" y1="92.00" x2="468.62" y2="93.30" stroke="#111" stroke-width="0.6"/>
<line x1="472.32" y1="92.00" x2="472.32" y2="93.30" stroke="#111" stroke-width="0.6"/>
<line x1="474.94" y1="92.00" x2="474.94" y2="93.30" stroke="#111" stroke-width="0.6"/>
<line x1="476.98" y1="92.00" x2="476.98" y2="93.30" stroke="#111" stroke-width="0.6"/>
<line x1="478.64" y1="92.00" x2="478.64" y2="93.30" stroke="#111" stroke-width="0.6"/>
<line x1="480.05" y1="92.00" x2="480.05" y2="93.30" stroke="#111" stroke-width="0.6"/>
<line x1="481.26" y1="92.00" x2="481.26" y2="93.30" stroke="#111" stroke-width="0.6"/>
<line x1="482.34" y1="92.00" x2="482.34" y2="93.30" stroke="#111" stroke-width="0.6"/>
<line x1="484.30" y1="92.00" x2="484.30" y2="94.40" stroke="#111" stroke-width="0.8"/>
<line x1="490.62" y1="92.00" x2="490.62" y2="93.30" stroke="#111" stroke-width="0.6"/>
<line x1="494.32" y1="92.00" x2="494.32" y2="93.30" stroke="#111" stroke-width="0.6"/>
<line x1="496.94" y1="92.00" x2="496.94" y2="93.30" stroke="#111" stroke-width="0.6"/>
<line x1="498.98" y1="92.00" x2="498.98" y2="93.30" stroke="#111" stroke-width="0.6"/>
<line x1="500.64" y1="92.00" x2="500.64" y2="93.30" stroke="#111" stroke-width="0.6"/>
<line x1="502.05" y1="92.00" x2="502.05" y2="93.30" stroke="#111" stroke-width="0.6"/>
<line x1="503.26" y1="92.00" x2="503.26" y2="93.30" stroke="#111" stroke-width="0.6"/>
<line x1="504.34" y1="92.00" x2="504.34" y2="93.30" stroke="#111" stroke-width="0.6"/>
<line x1="504.30" y1="92.00" x2="504.30" y2="94.40" stroke="#111" stroke-width="0.8"/>
<line x1="510.62" y1="92.00" x2="510.62" y2="93.30" stroke="#111" stroke-width="0.6"/>
<line x1="514.32" y1="92.00" x2="514.32" y2="93.30" stroke="#111" stroke-width="0.6"/>
<line x1="421.60" y1="92.00" x2="421.60" y2="93.50" stroke="#111" stroke-width="0.6"/>
<line x1="433.30" y1="92.00" x2="433.30" y2="93.50" stroke="#111" stroke-width="0.6"/>
<line x1="424.60" y1="92.00" x2="424.60" y2="93.50" stroke="#111" stroke-width="0.6"/>
<line x1="427.60" y1="92.00" x2="427.60" y2="93.50" stroke="#111" stroke-width="0.6"/>
<line x1="430.60" y1="92.00" x2="430.60" y2="93.50" stroke="#111" stroke-width="0.6"/>
<line x1="435.60" y1="92.00" x2="435.60" y2="93.50" stroke="#111" stroke-width="0.6"/>
<text x="479.00" y="42.80" font-size="9.3" font-weight="bold" textLength="13.5" lengthAdjust="spacingAndGlyphs">5%</text>
<text x="486.80" y="72.20" font-size="4.8" textLength="12.5" lengthAdjust="spacingAndGlyphs" style="stroke-width:0.06px">ki67 +</text>
<text x="446.90" y="18.50" font-size="6.4" textLength="42" lengthAdjust="spacingAndGlyphs">CLL-1-sc ki-67</text>
<text x="438.10" y="112.70" font-size="6.8" textLength="58.4" lengthAdjust="spacingAndGlyphs">CLL-1-siRNA b ki-67</text>
<text x="403.50" y="32.10" font-size="5.3" text-anchor="middle" textLength="19.6" lengthAdjust="spacingAndGlyphs" transform="rotate(-90 403.50 32.10)" style="stroke-width:0.06px">(× 1,000)</text>
<text x="403.00" y="56.30" font-size="5.4" text-anchor="middle" textLength="13.6" lengthAdjust="spacingAndGlyphs" transform="rotate(-90 403.00 56.30)" style="stroke-width:0.06px">FSC-A</text>
<ellipse cx="325.7" cy="169.7" rx="18.3" ry="14.1" fill="#000" fill-opacity="0.22" filter="url(#hz)"/>
<path fill="#000" fill-opacity="0.2" d="M333.3 161.9h0.9v0.9h-0.9zM308.9 161.4h0.9v0.9h-0.9zM343.3 171.5h0.8v0.8h-0.8zM339.4 167.8h1.0v1.0h-1.0zM338.6 173.3h0.8v0.8h-0.8zM332.0 160.6h0.9v0.9h-0.9zM313.8 168.0h1.0v1.0h-1.0zM339.1 167.3h0.9v0.9h-0.9zM324.0 161.0h0.9v0.9h-0.9zM323.9 162.7h0.9v0.9h-0.9zM333.5 163.7h0.9v0.9h-0.9zM323.5 160.1h0.7v0.7h-0.7zM338.7 167.5h0.7v0.7h-0.7zM336.9 166.8h0.7v0.7h-0.7zM340.3 169.4h0.8v0.8h-0.8zM314.7 163.3h0.7v0.7h-0.7zM314.2 172.9h0.9v0.9h-0.9zM334.3 164.9h0.8v0.8h-0.8zM316.2 162.9h1.0v1.0h-1.0zM318.8 179.2h1.0v1.0h-1.0zM333.3 163.1h0.9v0.9h-0.9zM332.8 162.9h0.8v0.8h-0.8zM330.7 163.3h0.8v0.8h-0.8zM320.8 156.8h0.8v0.8h-0.8zM319.2 163.6h0.9v0.9h-0.9zM338.7 166.8h1.0v1.0h-1.0zM340.3 168.1h1.0v1.0h-1.0zM333.7 163.9h1.0v1.0h-1.0zM312.8 171.2h0.8v0.8h-0.8zM332.1 162.7h0.8v0.8h-0.8zM334.2 163.8h0.9v0.9h-0.9zM314.9 174.1h0.7v0.7h-0.7zM331.9 163.7h0.7v0.7h-0.7zM330.0 180.5h0.8v0.8h-0.8zM325.1 180.2h0.7v0.7h-0.7zM340.6 166.7h1.0v1.0h-1.0zM337.5 164.0h1.0v1.0h-1.0zM319.7 158.4h0.9v0.9h-0.9zM325.0 162.3h0.8v0.8h-0.8zM327.5 161.1h0.9v0.9h-0.9zM341.7 170.9h0.7v0.7h-0.7zM334.2 156.8h0.8v0.8h-0.8zM333.3 162.7h0.7v0.7h-0.7zM317.9 163.0h0.7v0.7h-0.7zM332.5 162.4h0.7v0.7h-0.7zM316.7 165.7h0.9v0.9h-0.9zM338.3 167.8h0.7v0.7h-0.7zM337.4 163.9h0.9v0.9h-0.9zM337.3 166.1h1.0v1.0h-1.0zM341.6 170.4h0.9v0.9h-0.9zM317.6 163.5h0.8v0.8h-0.8zM338.7 168.3h0.9v0.9h-0.9zM314.6 168.0h0.9v0.9h-0.9zM340.7 166.5h1.0v1.0h-1.0zM310.9 172.3h0.7v0.7h-0.7zM320.0 162.6h0.9v0.9h-0.9zM342.2 167.5h0.8v0.8h-0.8zM338.8 170.1h0.9v0.9h-0.9zM336.8 166.6h0.7v0.7h-0.7zM331.4 160.3h0.7v0.7h-0.7zM316.0 164.4h0.8v0.8h-0.8zM313.8 170.9h1.0v1.0h-1.0zM320.9 159.7h0.9v0.9h-0.9zM339.8 173.6h0.7v0.7h-0.7zM335.2 164.5h0.7v0.7h-0.7zM336.0 184.3h0.9v0.9h-0.9zM328.9 162.4h0.9v0.9h-0.9zM320.2 161.1h1.0v1.0h-1.0zM326.4 159.7h1.0v1.0h-1.0zM318.0 177.6h1.0v1.0h-1.0zM323.8 161.7h0.8v0.8h-0.8zM335.8 165.0h0.7v0.7h-0.7zM334.6 160.8h0.9v0.9h-0.9zM338.7 171.8h0.9v0.9h-0.9zM329.0 179.8h0.9v0.9h-0.9zM307.9 172.5h0.7v0.7h-0.7zM336.8 175.4h0.7v0.7h-0.7zM328.3 161.9h0.7v0.7h-0.7zM329.4 161.1h0.9v0.9h-0.9zM315.2 166.4h0.9v0.9h-0.9zM339.9 173.4h0.8v0.8h-0.8zM313.0 170.7h0.7v0.7h-0.7zM323.8 160.7h0.7v0.7h-0.7zM342.8 172.5h0.7v0.7h-0.7zM328.4 161.2h1.0v1.0h-1.0zM340.3 171.1h0.8v0.8h-0.8zM324.4 159.5h1.0v1.0h-1.0zM341.9 173.6h0.9v0.9h-0.9zM337.9 165.1h0.8v0.8h-0.8zM328.4 160.6h0.8v0.8h-0.8zM341.2 172.2h0.9v0.9h-0.9zM318.0 164.9h0.8v0.8h-0.8zM340.0 164.3h0.8v0.8h-0.8zM340.1 170.1h1.0v1.0h-1.0zM339.1 170.0h0.8v0.8h-0.8zM313.4 173.3h0.7v0.7h-0.7zM332.6 162.2h0.7v0.7h-0.7zM339.8 165.4h0.9v0.9h-0.9zM339.2 170.3h1.0v1.0h-1.0zM348.7 163.9h0.9v0.9h-0.9zM326.5 162.4h1.0v1.0h-1.0zM326.0 162.0h1.0v1.0h-1.0zM310.2 173.2h1.0v1.0h-1.0zM308.0 165.8h0.9v0.9h-0.9zM332.8 162.9h0.8v0.8h-0.8zM336.8 165.0h1.0v1.0h-1.0zM344.2 173.4h0.7v0.7h-0.7zM317.2 160.8h0.9v0.9h-0.9zM325.6 162.4h0.7v0.7h-0.7zM326.1 160.2h1.0v1.0h-1.0zM325.6 180.2h0.7v0.7h-0.7zM332.4 163.7h0.7v0.7h-0.7zM328.1 161.5h0.8v0.8h-0.8zM328.3 182.2h0.7v0.7h-0.7zM340.5 164.9h0.7v0.7h-0.7zM335.9 165.1h1.0v1.0h-1.0zM347.9 174.8h0.7v0.7h-0.7zM337.7 166.9h0.8v0.8h-0.8zM335.3 163.3h0.8v0.8h-0.8zM322.5 160.8h0.9v0.9h-0.9zM340.7 168.0h0.7v0.7h-0.7zM339.2 165.7h0.9v0.9h-0.9zM325.7 162.6h0.8v0.8h-0.8zM308.8 163.4h0.9v0.9h-0.9zM314.4 160.9h0.9v0.9h-0.9zM333.6 160.7h0.8v0.8h-0.8zM342.2 172.7h0.7v0.7h-0.7zM333.6 158.6h0.8v0.8h-0.8zM333.9 160.8h0.7v0.7h-0.7zM342.1 167.8h0.8v0.8h-0.8zM341.1 171.0h1.0v1.0h-1.0zM307.2 170.3h1.0v1.0h-1.0zM339.4 168.6h0.7v0.7h-0.7zM326.8 160.8h0.7v0.7h-0.7zM318.9 163.5h0.9v0.9h-0.9zM319.8 178.4h0.7v0.7h-0.7zM321.5 162.5h0.8v0.8h-0.8zM338.3 170.1h0.7v0.7h-0.7zM315.6 163.9h0.7v0.7h-0.7zM341.3 171.1h0.9v0.9h-0.9zM339.6 170.2h0.8v0.8h-0.8zM341.5 172.6h0.7v0.7h-0.7zM314.0 172.0h0.8v0.8h-0.8zM339.7 169.5h0.9v0.9h-0.9zM311.0 171.9h0.7v0.7h-0.7zM328.1 161.3h0.8v0.8h-0.8zM347.2 172.0h0.8v0.8h-0.8zM341.2 172.1h1.0v1.0h-1.0zM324.3 160.1h0.9v0.9h-0.9zM337.7 164.5h0.9v0.9h-0.9zM311.0 174.7h1.0v1.0h-1.0zM327.4 161.3h0.8v0.8h-0.8zM341.1 169.0h0.9v0.9h-0.9zM318.5 180.0h0.9v0.9h-0.9zM308.0 169.4h0.7v0.7h-0.7zM332.3 163.6h1.0v1.0h-1.0zM334.4 162.1h0.7v0.7h-0.7zM325.3 180.6h0.7v0.7h-0.7zM338.5 167.4h0.9v0.9h-0.9zM327.1 162.2h0.7v0.7h-0.7zM338.7 172.4h1.0v1.0h-1.0zM329.3 162.6h0.9v0.9h-0.9zM330.2 162.2h1.0v1.0h-1.0zM312.7 168.5h0.7v0.7h-0.7zM321.8 160.9h1.0v1.0h-1.0zM348.5 174.9h0.9v0.9h-0.9zM338.2 168.2h0.7v0.7h-0.7zM312.7 172.6h0.8v0.8h-0.8zM338.8 171.9h0.7v0.7h-0.7zM313.6 169.0h1.0v1.0h-1.0zM337.9 164.2h0.8v0.8h-0.8zM343.2 172.9h0.8v0.8h-0.8zM314.5 162.0h0.7v0.7h-0.7zM323.7 161.6h0.7v0.7h-0.7zM339.5 168.0h0.9v0.9h-0.9zM334.0 162.5h0.9v0.9h-0.9zM318.6 163.2h1.0v1.0h-1.0zM316.3 177.7h1.0v1.0h-1.0zM311.9 173.4h1.0v1.0h-1.0zM340.1 171.8h0.8v0.8h-0.8zM337.7 167.1h0.7v0.7h-0.7zM313.2 169.0h1.0v1.0h-1.0zM335.6 160.5h1.0v1.0h-1.0zM339.3 169.8h0.7v0.7h-0.7zM340.1 173.2h0.9v0.9h-0.9zM332.5 163.6h0.8v0.8h-0.8zM322.0 162.0h0.9v0.9h-0.9zM330.2 161.8h0.8v0.8h-0.8zM345.4 170.3h0.7v0.7h-0.7zM341.6 173.1h0.9v0.9h-0.9zM319.0 163.8h0.9v0.9h-0.9zM316.7 163.1h1.0v1.0h-1.0zM313.7 168.0h0.7v0.7h-0.7zM314.7 168.4h0.9v0.9h-0.9zM336.5 178.1h0.9v0.9h-0.9zM328.5 162.5h0.9v0.9h-0.9zM335.0 160.8h1.0v1.0h-1.0zM334.5 163.6h1.0v1.0h-1.0zM342.5 161.1h0.8v0.8h-0.8zM318.3 161.0h1.0v1.0h-1.0zM335.0 162.0h0.7v0.7h-0.7zM341.6 170.4h0.8v0.8h-0.8zM327.2 162.3h0.9v0.9h-0.9zM313.9 172.4h1.0v1.0h-1.0zM334.2 164.4h1.0v1.0h-1.0zM323.8 161.8h0.8v0.8h-0.8zM348.2 165.3h1.0v1.0h-1.0zM334.2 161.8h0.8v0.8h-0.8zM340.3 170.3h0.9v0.9h-0.9zM324.4 160.6h0.7v0.7h-0.7zM329.0 179.5h0.8v0.8h-0.8zM340.3 170.5h0.8v0.8h-0.8zM318.4 179.3h0.9v0.9h-0.9zM334.0 180.0h1.0v1.0h-1.0zM322.7 163.0h0.7v0.7h-0.7zM313.6 170.5h0.7v0.7h-0.7zM339.0 170.2h0.7v0.7h-0.7zM318.6 162.2h0.9v0.9h-0.9zM319.8 163.7h0.7v0.7h-0.7zM343.3 161.2h0.9v0.9h-0.9zM328.2 162.0h1.0v1.0h-1.0zM335.7 162.3h0.8v0.8h-0.8zM314.5 161.7h0.7v0.7h-0.7zM340.8 166.1h0.9v0.9h-0.9zM341.5 172.6h0.9v0.9h-0.9zM341.6 170.0h1.0v1.0h-1.0zM320.1 162.6h0.9v0.9h-0.9zM321.0 162.7h0.9v0.9h-0.9zM309.4 167.2h0.8v0.8h-0.8zM325.7 161.0h1.0v1.0h-1.0zM337.3 167.2h0.8v0.8h-0.8zM338.7 173.4h0.9v0.9h-0.9zM341.8 168.1h1.0v1.0h-1.0zM333.4 161.9h0.9v0.9h-0.9zM317.9 164.9h0.7v0.7h-0.7zM339.5 173.0h0.7v0.7h-0.7zM342.7 173.2h1.0v1.0h-1.0zM333.5 162.8h1.0v1.0h-1.0zM340.1 173.7h0.9v0.9h-0.9zM312.8 171.1h0.8v0.8h-0.8zM305.9 168.4h0.7v0.7h-0.7zM328.3 158.9h0.7v0.7h-0.7zM338.5 167.8h0.8v0.8h-0.8zM338.2 164.6h1.0v1.0h-1.0zM343.2 172.2h0.9v0.9h-0.9zM332.6 161.1h0.9v0.9h-0.9zM317.9 162.1h0.7v0.7h-0.7zM333.5 163.7h1.0v1.0h-1.0zM340.2 167.6h0.9v0.9h-0.9zM324.4 162.0h0.9v0.9h-0.9zM330.9 161.5h0.9v0.9h-0.9zM333.1 158.8h0.8v0.8h-0.8zM313.7 173.3h0.7v0.7h-0.7zM321.3 162.6h0.9v0.9h-0.9zM322.0 160.5h0.7v0.7h-0.7zM337.6 167.1h1.0v1.0h-1.0zM316.5 180.6h1.0v1.0h-1.0zM320.6 160.3h1.0v1.0h-1.0zM320.4 162.8h1.0v1.0h-1.0zM337.9 164.3h0.9v0.9h-0.9zM331.5 161.8h0.9v0.9h-0.9zM313.3 167.8h0.9v0.9h-0.9zM340.5 168.3h0.8v0.8h-0.8zM338.0 167.4h0.9v0.9h-0.9zM318.6 179.0h0.9v0.9h-0.9zM334.3 162.8h0.8v0.8h-0.8zM339.2 172.1h0.7v0.7h-0.7zM332.3 162.9h0.7v0.7h-0.7zM319.1 161.1h1.0v1.0h-1.0zM338.7 169.4h0.8v0.8h-0.8zM337.6 167.4h1.0v1.0h-1.0zM337.6 170.0h0.9v0.9h-0.9zM342.3 176.5h1.0v1.0h-1.0zM337.3 171.9h0.7v0.7h-0.7zM341.2 164.2h1.0v1.0h-1.0zM338.4 176.7h1.0v1.0h-1.0zM354.5 176.9h0.9v0.9h-0.9zM338.0 169.4h0.9v0.9h-0.9zM350.8 168.0h1.0v1.0h-1.0zM342.8 172.6h0.7v0.7h-0.7zM337.6 173.4h0.9v0.9h-0.9zM351.8 174.8h1.0v1.0h-1.0zM341.2 170.2h1.0v1.0h-1.0zM337.8 177.1h0.9v0.9h-0.9zM339.6 173.4h0.7v0.7h-0.7zM338.9 166.8h0.9v0.9h-0.9zM345.5 178.0h0.9v0.9h-0.9zM343.8 176.6h0.8v0.8h-0.8zM343.1 173.5h1.0v1.0h-1.0zM343.2 180.2h1.0v1.0h-1.0zM338.7 175.2h0.9v0.9h-0.9zM342.9 173.5h0.9v0.9h-0.9zM338.4 168.2h0.7v0.7h-0.7zM340.8 163.9h1.0v1.0h-1.0zM339.9 176.3h0.7v0.7h-0.7zM341.5 164.7h0.8v0.8h-0.8zM339.4 168.9h0.7v0.7h-0.7zM341.3 172.4h1.0v1.0h-1.0zM347.2 164.5h0.8v0.8h-0.8z"/>
<path fill="#000" fill-opacity="0.32" d="M314.4 167.2h0.9v0.9h-0.9zM315.6 160.3h0.7v0.7h-0.7zM324.7 181.6h0.9v0.9h-0.9zM327.4 180.3h1.0v1.0h-1.0zM317.2 164.9h1.0v1.0h-1.0zM331.3 162.0h1.0v1.0h-1.0zM330.9 161.6h0.8v0.8h-0.8zM330.5 162.4h1.0v1.0h-1.0zM311.3 167.9h0.7v0.7h-0.7zM307.8 164.1h1.0v1.0h-1.0zM340.1 171.6h0.8v0.8h-0.8zM327.5 157.6h0.8v0.8h-0.8zM318.5 164.7h1.0v1.0h-1.0zM328.0 162.5h0.8v0.8h-0.8zM313.3 170.7h1.0v1.0h-1.0zM341.2 168.3h0.8v0.8h-0.8zM337.3 167.3h1.0v1.0h-1.0zM338.6 164.4h1.0v1.0h-1.0zM330.7 161.3h0.7v0.7h-0.7zM323.8 162.7h0.8v0.8h-0.8zM348.2 173.5h0.7v0.7h-0.7zM329.3 162.7h0.8v0.8h-0.8zM327.8 158.6h0.7v0.7h-0.7zM316.1 166.4h0.8v0.8h-0.8zM335.8 177.1h0.7v0.7h-0.7zM343.8 168.1h0.7v0.7h-0.7zM344.6 171.1h0.9v0.9h-0.9zM336.5 166.6h1.0v1.0h-1.0zM335.1 162.3h1.0v1.0h-1.0zM337.9 179.9h0.7v0.7h-0.7zM320.7 180.7h0.7v0.7h-0.7zM340.7 167.9h0.8v0.8h-0.8zM313.1 168.4h0.9v0.9h-0.9zM320.0 163.9h0.8v0.8h-0.8zM337.1 165.1h0.9v0.9h-0.9zM338.2 166.9h1.0v1.0h-1.0zM313.1 166.9h0.8v0.8h-0.8zM324.5 180.6h0.9v0.9h-0.9zM315.7 177.8h0.7v0.7h-0.7zM328.4 161.5h1.0v1.0h-1.0zM309.7 162.7h0.9v0.9h-0.9zM331.5 161.0h0.7v0.7h-0.7zM322.2 163.1h0.8v0.8h-0.8zM313.2 171.6h0.7v0.7h-0.7zM315.1 165.6h0.8v0.8h-0.8zM331.6 161.6h0.7v0.7h-0.7zM313.1 161.8h0.9v0.9h-0.9zM320.4 162.2h0.9v0.9h-0.9zM313.3 167.9h0.9v0.9h-0.9zM326.0 162.7h0.7v0.7h-0.7zM339.3 176.6h1.0v1.0h-1.0zM333.1 162.7h0.9v0.9h-0.9zM342.7 173.5h0.8v0.8h-0.8zM338.2 166.6h1.0v1.0h-1.0zM327.4 162.6h0.7v0.7h-0.7zM314.4 162.5h0.8v0.8h-0.8zM337.9 166.3h1.0v1.0h-1.0zM325.5 162.6h0.7v0.7h-0.7zM340.2 170.6h1.0v1.0h-1.0zM313.7 177.0h0.7v0.7h-0.7zM332.6 163.7h0.8v0.8h-0.8zM325.6 161.4h0.9v0.9h-0.9zM339.4 177.0h1.0v1.0h-1.0zM330.4 161.8h1.0v1.0h-1.0zM310.0 168.9h0.7v0.7h-0.7zM313.4 169.6h0.9v0.9h-0.9zM312.1 168.8h0.9v0.9h-0.9zM340.4 173.2h1.0v1.0h-1.0zM327.6 159.5h0.8v0.8h-0.8zM333.5 164.4h0.7v0.7h-0.7zM339.7 169.4h1.0v1.0h-1.0zM343.6 174.1h0.7v0.7h-0.7zM335.1 158.3h1.0v1.0h-1.0zM320.0 163.6h0.8v0.8h-0.8zM343.2 170.3h0.8v0.8h-0.8zM342.6 169.0h0.7v0.7h-0.7zM329.9 162.8h0.8v0.8h-0.8zM306.6 166.7h0.7v0.7h-0.7zM329.3 160.0h0.8v0.8h-0.8zM323.1 160.3h0.7v0.7h-0.7zM326.3 158.4h0.8v0.8h-0.8zM331.2 160.7h1.0v1.0h-1.0zM319.4 161.9h0.8v0.8h-0.8zM338.1 162.0h0.9v0.9h-0.9zM315.2 164.9h0.7v0.7h-0.7zM337.0 164.4h0.7v0.7h-0.7zM338.6 168.8h1.0v1.0h-1.0zM342.6 168.0h0.7v0.7h-0.7zM320.1 161.7h0.9v0.9h-0.9zM339.0 171.5h0.9v0.9h-0.9zM336.7 164.7h0.9v0.9h-0.9zM328.7 157.3h0.8v0.8h-0.8zM335.5 162.6h0.9v0.9h-0.9zM312.9 174.0h0.9v0.9h-0.9zM331.3 158.4h1.0v1.0h-1.0zM313.1 169.4h0.8v0.8h-0.8zM341.5 166.4h0.9v0.9h-0.9zM320.8 162.8h0.7v0.7h-0.7zM311.1 170.8h0.8v0.8h-0.8zM343.5 170.2h0.7v0.7h-0.7zM335.2 165.4h0.8v0.8h-0.8zM314.1 169.7h0.7v0.7h-0.7zM328.1 162.2h0.7v0.7h-0.7zM338.5 166.0h0.9v0.9h-0.9zM313.3 172.4h0.7v0.7h-0.7zM333.6 163.9h0.9v0.9h-0.9zM338.9 173.1h1.0v1.0h-1.0zM325.4 162.3h1.0v1.0h-1.0zM344.1 173.3h0.9v0.9h-0.9zM333.2 163.6h1.0v1.0h-1.0zM306.9 163.0h0.7v0.7h-0.7zM337.4 163.7h0.7v0.7h-0.7zM325.9 183.9h1.0v1.0h-1.0zM333.8 163.4h0.8v0.8h-0.8zM337.7 167.4h0.8v0.8h-0.8zM338.8 171.3h0.9v0.9h-0.9zM337.7 168.8h0.8v0.8h-0.8zM337.1 160.7h0.7v0.7h-0.7zM330.6 158.7h1.0v1.0h-1.0zM317.3 159.6h1.0v1.0h-1.0zM335.3 165.2h0.7v0.7h-0.7zM313.7 173.5h0.7v0.7h-0.7zM324.2 157.8h0.7v0.7h-0.7zM318.7 161.1h0.7v0.7h-0.7zM321.5 161.9h1.0v1.0h-1.0zM320.6 162.6h0.7v0.7h-0.7zM319.4 163.1h0.9v0.9h-0.9zM338.5 179.5h1.0v1.0h-1.0zM340.1 167.8h0.7v0.7h-0.7zM343.0 170.3h0.9v0.9h-0.9zM326.8 159.8h0.9v0.9h-0.9zM313.4 164.4h1.0v1.0h-1.0zM335.1 165.5h0.7v0.7h-0.7zM339.9 169.1h1.0v1.0h-1.0zM310.2 166.6h0.7v0.7h-0.7zM339.8 166.6h1.0v1.0h-1.0zM339.5 165.6h0.9v0.9h-0.9zM328.6 161.5h1.0v1.0h-1.0zM330.9 158.8h0.8v0.8h-0.8zM340.4 167.3h0.9v0.9h-0.9zM316.1 162.1h0.8v0.8h-0.8zM315.0 168.0h0.9v0.9h-0.9zM329.0 162.5h0.9v0.9h-0.9zM328.2 158.1h0.7v0.7h-0.7zM318.9 180.1h0.8v0.8h-0.8zM340.9 169.4h1.0v1.0h-1.0zM337.5 166.7h0.8v0.8h-0.8zM337.2 164.0h1.0v1.0h-1.0zM339.1 169.2h0.9v0.9h-0.9zM315.7 166.0h0.8v0.8h-0.8zM311.8 172.4h0.9v0.9h-0.9zM321.0 163.0h0.7v0.7h-0.7zM313.6 169.8h0.7v0.7h-0.7zM341.4 172.1h0.8v0.8h-0.8zM334.9 164.5h0.7v0.7h-0.7zM337.3 167.6h0.7v0.7h-0.7zM334.1 162.7h0.9v0.9h-0.9zM320.6 162.8h0.8v0.8h-0.8zM315.7 176.3h0.7v0.7h-0.7zM313.3 170.1h0.7v0.7h-0.7zM314.9 168.2h1.0v1.0h-1.0zM325.4 161.2h0.7v0.7h-0.7zM337.3 166.9h0.9v0.9h-0.9zM315.6 157.4h0.7v0.7h-0.7zM338.7 171.5h0.8v0.8h-0.8zM311.6 165.8h1.0v1.0h-1.0zM344.1 171.6h0.7v0.7h-0.7zM324.5 183.5h0.8v0.8h-0.8zM338.6 169.5h0.9v0.9h-0.9zM318.2 160.6h0.7v0.7h-0.7zM309.0 173.4h0.9v0.9h-0.9zM331.2 162.5h1.0v1.0h-1.0zM313.5 168.4h0.9v0.9h-0.9zM330.1 162.7h0.7v0.7h-0.7zM343.0 171.6h0.8v0.8h-0.8zM309.1 172.3h0.7v0.7h-0.7zM322.8 161.1h1.0v1.0h-1.0zM340.7 169.2h1.0v1.0h-1.0zM325.2 160.5h0.8v0.8h-0.8zM317.0 163.7h0.9v0.9h-0.9zM311.8 164.9h0.7v0.7h-0.7zM330.5 163.0h0.8v0.8h-0.8zM338.4 157.6h0.7v0.7h-0.7zM337.4 165.6h0.7v0.7h-0.7zM338.4 163.3h0.9v0.9h-0.9zM316.7 165.0h0.7v0.7h-0.7zM342.0 168.1h0.8v0.8h-0.8zM328.3 161.7h0.9v0.9h-0.9zM315.3 166.6h0.7v0.7h-0.7zM337.4 167.6h1.0v1.0h-1.0zM338.9 166.5h0.7v0.7h-0.7zM309.4 176.7h0.9v0.9h-0.9zM340.0 165.1h0.7v0.7h-0.7zM319.2 163.8h1.0v1.0h-1.0zM338.2 164.6h1.0v1.0h-1.0zM327.8 161.5h0.8v0.8h-0.8zM322.6 182.2h1.0v1.0h-1.0zM339.1 172.3h1.0v1.0h-1.0zM312.1 163.7h0.8v0.8h-0.8zM314.4 169.3h0.7v0.7h-0.7zM344.3 173.4h0.9v0.9h-0.9zM338.0 165.9h1.0v1.0h-1.0zM323.4 161.8h0.9v0.9h-0.9zM338.1 170.3h0.9v0.9h-0.9zM329.0 162.9h0.7v0.7h-0.7zM324.9 161.5h0.7v0.7h-0.7zM340.8 172.1h0.8v0.8h-0.8zM322.3 162.6h0.7v0.7h-0.7zM324.3 161.6h1.0v1.0h-1.0zM329.6 163.1h1.0v1.0h-1.0zM312.2 163.0h0.7v0.7h-0.7zM346.9 173.9h1.0v1.0h-1.0zM317.9 164.9h0.8v0.8h-0.8zM314.3 167.4h0.8v0.8h-0.8zM314.1 168.0h1.0v1.0h-1.0zM315.7 175.4h1.0v1.0h-1.0zM317.7 164.8h0.9v0.9h-0.9zM338.6 171.0h1.0v1.0h-1.0zM326.1 161.4h0.7v0.7h-0.7zM335.1 164.8h0.9v0.9h-0.9zM333.4 162.9h0.7v0.7h-0.7zM334.3 164.4h0.8v0.8h-0.8zM339.5 164.5h0.7v0.7h-0.7zM319.4 157.9h0.7v0.7h-0.7zM319.6 155.5h0.7v0.7h-0.7zM326.5 162.1h1.0v1.0h-1.0zM315.3 166.7h1.0v1.0h-1.0zM328.4 162.4h0.7v0.7h-0.7zM330.9 156.4h0.7v0.7h-0.7zM316.0 159.2h0.7v0.7h-0.7zM321.4 162.2h0.8v0.8h-0.8zM316.6 165.0h0.8v0.8h-0.8zM337.7 167.6h0.7v0.7h-0.7zM336.0 163.0h1.0v1.0h-1.0zM315.5 177.0h0.7v0.7h-0.7zM324.2 181.4h0.7v0.7h-0.7zM320.5 181.8h1.0v1.0h-1.0zM336.8 165.8h0.8v0.8h-0.8zM314.7 168.9h0.7v0.7h-0.7zM316.5 166.1h1.0v1.0h-1.0zM323.1 180.4h0.7v0.7h-0.7zM326.7 162.4h0.9v0.9h-0.9zM340.3 172.3h1.0v1.0h-1.0zM336.8 162.8h0.9v0.9h-0.9zM331.8 163.3h1.0v1.0h-1.0zM323.4 162.8h0.9v0.9h-0.9zM321.0 163.1h1.0v1.0h-1.0zM337.7 174.5h0.7v0.7h-0.7zM342.3 172.2h1.0v1.0h-1.0zM341.4 177.2h0.9v0.9h-0.9zM348.9 176.1h0.7v0.7h-0.7zM343.9 169.7h0.9v0.9h-0.9zM339.6 168.7h0.9v0.9h-0.9zM348.8 169.3h1.0v1.0h-1.0zM340.0 170.8h0.9v0.9h-0.9zM343.6 176.5h0.8v0.8h-0.8zM341.4 173.7h1.0v1.0h-1.0zM339.8 171.9h1.0v1.0h-1.0zM342.0 184.8h0.7v0.7h-0.7zM338.2 172.0h0.9v0.9h-0.9zM349.9 176.8h1.0v1.0h-1.0zM337.7 168.7h1.0v1.0h-1.0zM347.7 170.1h0.7v0.7h-0.7zM348.7 173.2h0.9v0.9h-0.9zM346.9 166.9h0.8v0.8h-0.8zM343.4 168.6h0.8v0.8h-0.8zM341.0 170.6h0.8v0.8h-0.8zM343.1 175.1h0.9v0.9h-0.9zM339.0 170.4h0.9v0.9h-0.9zM345.0 173.0h0.9v0.9h-0.9zM344.3 173.1h1.0v1.0h-1.0zM342.6 167.8h0.8v0.8h-0.8zM343.4 173.8h1.0v1.0h-1.0zM340.3 183.2h1.0v1.0h-1.0zM338.5 174.9h0.7v0.7h-0.7zM338.7 170.0h1.0v1.0h-1.0zM340.9 164.4h0.7v0.7h-0.7zM347.3 174.1h0.8v0.8h-0.8zM345.7 165.3h0.8v0.8h-0.8zM337.9 177.3h0.7v0.7h-0.7zM350.0 167.7h1.0v1.0h-1.0zM340.6 170.4h0.8v0.8h-0.8zM350.1 171.3h0.8v0.8h-0.8zM338.5 179.3h1.0v1.0h-1.0zM340.3 173.4h1.0v1.0h-1.0zM338.8 166.2h1.0v1.0h-1.0zM342.4 168.6h1.0v1.0h-1.0z"/>
<path fill="#000" fill-opacity="0.45" d="M324.0 180.7h0.8v0.8h-0.8zM338.8 171.5h0.9v0.9h-0.9zM334.3 164.8h0.8v0.8h-0.8zM328.3 162.0h0.7v0.7h-0.7zM312.8 168.7h0.8v0.8h-0.8zM338.4 172.0h1.0v1.0h-1.0zM337.9 163.8h1.0v1.0h-1.0zM313.3 170.4h0.8v0.8h-0.8zM319.8 162.8h1.0v1.0h-1.0zM324.9 162.4h0.7v0.7h-0.7zM311.7 168.3h1.0v1.0h-1.0zM329.5 181.1h0.8v0.8h-0.8zM314.6 183.8h1.0v1.0h-1.0zM326.5 162.3h0.9v0.9h-0.9zM317.4 161.4h0.7v0.7h-0.7zM335.6 165.3h0.7v0.7h-0.7zM312.1 172.9h0.7v0.7h-0.7zM325.7 161.7h0.9v0.9h-0.9zM313.8 172.3h0.9v0.9h-0.9zM338.9 172.4h0.8v0.8h-0.8zM319.2 163.8h0.8v0.8h-0.8zM339.3 171.4h0.7v0.7h-0.7zM303.8 172.0h0.9v0.9h-0.9zM340.8 170.7h0.9v0.9h-0.9zM318.3 164.6h1.0v1.0h-1.0zM315.6 165.5h0.8v0.8h-0.8zM339.4 161.1h1.0v1.0h-1.0zM340.8 162.5h1.0v1.0h-1.0zM346.2 170.1h0.9v0.9h-0.9zM333.4 161.1h1.0v1.0h-1.0zM319.5 178.6h1.0v1.0h-1.0zM313.3 172.5h0.7v0.7h-0.7zM313.8 173.4h0.9v0.9h-0.9zM320.4 163.4h0.7v0.7h-0.7zM335.2 160.5h0.8v0.8h-0.8zM314.8 164.8h0.8v0.8h-0.8zM322.2 162.1h1.0v1.0h-1.0zM315.9 165.2h0.8v0.8h-0.8zM314.0 172.1h0.9v0.9h-0.9zM327.0 161.8h1.0v1.0h-1.0zM337.6 165.2h0.8v0.8h-0.8zM313.5 173.4h0.8v0.8h-0.8zM336.1 166.0h0.9v0.9h-0.9zM309.4 170.3h1.0v1.0h-1.0zM336.5 178.9h1.0v1.0h-1.0zM330.8 180.6h0.8v0.8h-0.8zM330.2 161.3h0.9v0.9h-0.9zM329.0 162.7h0.9v0.9h-0.9zM323.3 162.6h0.9v0.9h-0.9zM313.8 171.2h1.0v1.0h-1.0zM338.8 172.7h0.8v0.8h-0.8zM338.2 170.1h1.0v1.0h-1.0zM336.8 166.1h1.0v1.0h-1.0zM334.4 162.6h0.7v0.7h-0.7zM338.4 168.7h0.7v0.7h-0.7zM314.7 161.6h1.0v1.0h-1.0zM322.2 160.1h0.7v0.7h-0.7zM319.8 164.0h0.7v0.7h-0.7zM324.0 162.1h0.7v0.7h-0.7zM343.2 167.0h0.7v0.7h-0.7zM337.1 167.2h0.8v0.8h-0.8zM312.9 166.2h0.7v0.7h-0.7zM322.2 162.7h1.0v1.0h-1.0zM339.2 168.5h0.8v0.8h-0.8zM312.4 170.6h0.8v0.8h-0.8zM338.8 169.8h0.7v0.7h-0.7zM320.5 161.0h0.7v0.7h-0.7zM336.4 165.2h0.7v0.7h-0.7zM335.4 159.9h0.9v0.9h-0.9zM318.7 160.0h0.8v0.8h-0.8zM320.2 157.5h0.7v0.7h-0.7zM335.4 162.0h0.8v0.8h-0.8zM319.0 162.7h1.0v1.0h-1.0zM324.7 161.4h0.8v0.8h-0.8zM313.8 166.8h0.8v0.8h-0.8zM333.8 160.2h0.8v0.8h-0.8zM339.0 172.6h0.8v0.8h-0.8zM341.4 164.5h0.8v0.8h-0.8zM327.6 162.2h0.9v0.9h-0.9zM333.4 159.1h0.9v0.9h-0.9zM340.3 168.7h0.8v0.8h-0.8zM333.0 162.3h0.8v0.8h-0.8zM340.0 162.7h0.9v0.9h-0.9zM328.7 158.0h0.7v0.7h-0.7zM345.5 172.4h1.0v1.0h-1.0zM320.4 163.4h0.7v0.7h-0.7zM343.6 166.7h0.9v0.9h-0.9zM344.4 166.9h1.0v1.0h-1.0zM318.1 164.4h0.9v0.9h-0.9zM322.9 158.3h0.9v0.9h-0.9zM337.5 175.6h0.8v0.8h-0.8zM335.2 163.1h0.8v0.8h-0.8zM338.2 161.6h0.9v0.9h-0.9zM328.7 158.9h0.7v0.7h-0.7zM340.3 169.1h0.9v0.9h-0.9zM318.5 162.1h1.0v1.0h-1.0zM329.7 161.1h1.0v1.0h-1.0zM305.9 168.2h0.9v0.9h-0.9zM339.8 169.0h1.0v1.0h-1.0zM333.3 160.2h0.8v0.8h-0.8zM341.0 169.4h0.8v0.8h-0.8zM323.4 161.8h1.0v1.0h-1.0zM314.1 168.5h0.9v0.9h-0.9zM326.3 162.3h0.7v0.7h-0.7zM342.5 169.4h0.8v0.8h-0.8zM319.3 161.8h1.0v1.0h-1.0zM319.8 163.7h0.7v0.7h-0.7zM312.5 173.8h0.9v0.9h-0.9zM341.5 170.1h0.7v0.7h-0.7zM324.5 162.7h1.0v1.0h-1.0zM320.3 161.6h0.9v0.9h-0.9zM339.0 171.5h1.0v1.0h-1.0zM314.3 172.8h0.9v0.9h-0.9zM338.9 172.3h1.0v1.0h-1.0zM337.4 161.6h0.9v0.9h-0.9zM313.6 178.2h0.9v0.9h-0.9zM340.2 163.1h1.0v1.0h-1.0zM336.1 164.9h0.7v0.7h-0.7zM339.0 168.2h0.9v0.9h-0.9zM305.5 166.9h0.8v0.8h-0.8zM342.3 171.1h0.8v0.8h-0.8zM338.5 171.5h1.0v1.0h-1.0zM335.7 164.7h0.7v0.7h-0.7zM338.6 164.3h0.7v0.7h-0.7zM340.9 173.3h0.7v0.7h-0.7zM341.5 173.3h0.9v0.9h-0.9zM340.0 175.3h1.0v1.0h-1.0zM348.6 165.8h1.0v1.0h-1.0zM309.2 166.4h0.9v0.9h-0.9zM323.7 180.4h1.0v1.0h-1.0zM337.0 167.0h0.8v0.8h-0.8zM344.2 172.6h1.0v1.0h-1.0zM329.8 160.1h0.9v0.9h-0.9zM311.7 172.4h0.7v0.7h-0.7zM330.2 159.7h1.0v1.0h-1.0zM315.6 164.6h1.0v1.0h-1.0zM338.1 173.3h0.8v0.8h-0.8zM311.6 174.0h1.0v1.0h-1.0zM338.2 170.1h1.0v1.0h-1.0zM331.2 162.7h0.7v0.7h-0.7zM329.1 157.5h0.7v0.7h-0.7zM339.9 170.7h0.9v0.9h-0.9zM320.7 162.7h1.0v1.0h-1.0zM322.4 162.4h0.9v0.9h-0.9zM312.1 172.0h0.7v0.7h-0.7zM336.2 161.7h1.0v1.0h-1.0zM335.1 163.2h0.9v0.9h-0.9zM340.4 168.0h0.8v0.8h-0.8zM315.4 160.1h0.8v0.8h-0.8zM341.5 169.4h0.8v0.8h-0.8zM324.4 161.1h1.0v1.0h-1.0zM319.9 159.4h0.8v0.8h-0.8zM340.8 172.5h0.8v0.8h-0.8zM324.0 162.8h0.7v0.7h-0.7zM324.0 161.5h0.8v0.8h-0.8zM334.3 164.8h0.9v0.9h-0.9zM342.1 165.4h0.7v0.7h-0.7zM342.0 163.2h1.0v1.0h-1.0zM339.0 163.4h1.0v1.0h-1.0zM338.6 170.5h0.8v0.8h-0.8zM329.8 161.1h1.0v1.0h-1.0zM327.0 162.7h0.8v0.8h-0.8zM330.6 161.2h0.7v0.7h-0.7zM322.7 162.6h0.7v0.7h-0.7zM336.4 165.1h0.9v0.9h-0.9zM317.0 177.9h0.7v0.7h-0.7zM343.2 170.0h1.0v1.0h-1.0zM337.1 163.6h0.8v0.8h-0.8zM336.5 165.1h0.7v0.7h-0.7zM339.4 168.9h1.0v1.0h-1.0zM337.6 163.2h0.7v0.7h-0.7zM315.9 160.3h0.9v0.9h-0.9zM340.4 164.7h0.9v0.9h-0.9zM333.1 162.8h0.8v0.8h-0.8zM348.1 169.0h0.8v0.8h-0.8zM321.9 161.4h0.9v0.9h-0.9zM338.1 172.8h0.8v0.8h-0.8zM336.9 164.9h1.0v1.0h-1.0zM340.7 171.0h0.8v0.8h-0.8zM308.2 161.6h0.7v0.7h-0.7zM324.8 162.4h0.7v0.7h-0.7zM337.2 166.9h0.8v0.8h-0.8zM326.5 159.7h0.9v0.9h-0.9zM320.5 158.3h0.8v0.8h-0.8zM332.3 162.6h1.0v1.0h-1.0zM320.5 163.5h0.9v0.9h-0.9zM334.9 160.9h0.7v0.7h-0.7zM306.0 170.6h0.8v0.8h-0.8zM338.8 168.6h0.7v0.7h-0.7zM326.2 180.6h1.0v1.0h-1.0zM331.7 162.8h0.8v0.8h-0.8zM340.1 165.3h0.9v0.9h-0.9zM336.8 163.5h1.0v1.0h-1.0zM337.3 166.1h0.9v0.9h-0.9zM342.5 167.7h1.0v1.0h-1.0zM342.5 168.6h1.0v1.0h-1.0zM304.5 173.5h0.7v0.7h-0.7zM340.8 170.2h1.0v1.0h-1.0zM335.5 161.9h0.7v0.7h-0.7zM327.2 161.8h0.7v0.7h-0.7zM337.3 167.5h1.0v1.0h-1.0zM329.3 159.7h0.9v0.9h-0.9zM339.7 157.4h0.8v0.8h-0.8zM319.0 163.1h1.0v1.0h-1.0zM332.1 163.1h0.9v0.9h-0.9zM336.6 165.3h0.9v0.9h-0.9zM320.5 162.9h0.7v0.7h-0.7zM341.3 171.4h0.7v0.7h-0.7zM337.7 168.6h0.9v0.9h-0.9zM339.3 168.8h0.8v0.8h-0.8zM325.1 180.0h0.9v0.9h-0.9zM344.2 169.1h1.0v1.0h-1.0zM313.3 162.1h1.0v1.0h-1.0zM336.7 166.9h0.8v0.8h-0.8zM316.1 162.8h1.0v1.0h-1.0zM332.9 163.4h0.8v0.8h-0.8zM338.6 162.4h0.8v0.8h-0.8zM340.3 170.9h0.9v0.9h-0.9zM339.0 176.3h1.0v1.0h-1.0zM314.7 165.4h1.0v1.0h-1.0zM338.4 171.0h0.9v0.9h-0.9zM330.6 160.3h0.7v0.7h-0.7zM336.8 165.8h0.9v0.9h-0.9zM314.3 175.4h0.7v0.7h-0.7zM326.5 161.5h0.8v0.8h-0.8zM340.3 162.3h0.7v0.7h-0.7zM309.3 163.4h0.8v0.8h-0.8zM335.5 177.1h1.0v1.0h-1.0zM337.6 161.6h0.9v0.9h-0.9zM328.4 159.0h0.8v0.8h-0.8zM321.2 180.4h1.0v1.0h-1.0zM326.4 181.8h0.9v0.9h-0.9zM308.8 173.3h0.8v0.8h-0.8zM314.6 167.6h0.9v0.9h-0.9zM320.7 163.4h1.0v1.0h-1.0zM335.0 162.1h1.0v1.0h-1.0zM318.6 162.5h1.0v1.0h-1.0zM327.3 161.8h0.8v0.8h-0.8zM341.9 172.3h1.0v1.0h-1.0zM337.7 159.7h0.8v0.8h-0.8zM314.2 157.5h0.7v0.7h-0.7zM330.5 160.6h0.8v0.8h-0.8zM319.1 164.1h0.9v0.9h-0.9zM339.5 169.0h0.9v0.9h-0.9zM341.0 174.3h0.8v0.8h-0.8zM337.7 166.5h0.8v0.8h-0.8zM311.8 167.2h0.9v0.9h-0.9zM322.2 163.2h0.9v0.9h-0.9zM339.4 169.8h0.9v0.9h-0.9zM313.5 170.3h0.9v0.9h-0.9zM319.9 157.9h0.8v0.8h-0.8zM312.1 168.2h1.0v1.0h-1.0zM321.2 162.6h1.0v1.0h-1.0zM349.2 171.0h0.7v0.7h-0.7zM345.4 178.0h1.0v1.0h-1.0zM341.9 179.0h0.9v0.9h-0.9zM345.5 165.6h0.9v0.9h-0.9zM340.7 171.8h0.7v0.7h-0.7zM338.1 171.1h0.8v0.8h-0.8zM341.3 170.1h0.7v0.7h-0.7zM349.7 167.3h0.9v0.9h-0.9zM345.1 172.7h1.0v1.0h-1.0zM341.5 170.2h0.7v0.7h-0.7zM338.1 178.9h0.7v0.7h-0.7zM337.6 168.7h0.7v0.7h-0.7zM338.9 166.6h0.8v0.8h-0.8zM340.2 174.0h0.8v0.8h-0.8zM341.8 181.0h0.8v0.8h-0.8zM341.3 165.1h0.8v0.8h-0.8zM352.9 177.3h0.9v0.9h-0.9zM339.8 165.4h0.9v0.9h-0.9zM346.5 175.3h0.7v0.7h-0.7zM338.9 177.8h0.8v0.8h-0.8zM345.8 175.7h1.0v1.0h-1.0zM337.7 176.4h0.7v0.7h-0.7zM344.8 166.1h0.9v0.9h-0.9zM339.4 174.4h0.9v0.9h-0.9zM343.3 178.6h1.0v1.0h-1.0zM348.6 172.2h0.8v0.8h-0.8zM339.7 169.3h0.7v0.7h-0.7zM340.7 173.2h0.8v0.8h-0.8zM343.7 170.4h1.0v1.0h-1.0zM342.8 181.4h0.7v0.7h-0.7z"/>
<path fill="#000" fill-opacity="0.6" d="M325.9 160.4h0.9v0.9h-0.9zM338.5 160.2h0.7v0.7h-0.7zM339.5 170.2h0.7v0.7h-0.7zM334.9 165.0h0.8v0.8h-0.8zM340.2 169.2h0.7v0.7h-0.7zM316.2 165.7h0.8v0.8h-0.8zM312.5 164.2h1.0v1.0h-1.0zM317.6 162.0h0.8v0.8h-0.8zM313.7 174.3h1.0v1.0h-1.0zM327.8 162.5h0.9v0.9h-0.9zM318.6 159.7h0.8v0.8h-0.8zM335.7 179.1h0.8v0.8h-0.8zM322.3 162.8h0.7v0.7h-0.7zM338.5 170.4h0.8v0.8h-0.8zM328.0 162.3h0.9v0.9h-0.9zM328.1 179.9h0.8v0.8h-0.8zM330.0 180.4h1.0v1.0h-1.0zM315.0 175.4h0.7v0.7h-0.7zM324.0 161.4h0.7v0.7h-0.7zM322.3 179.8h0.8v0.8h-0.8zM339.9 166.4h0.8v0.8h-0.8zM342.9 163.6h0.8v0.8h-0.8zM336.6 166.6h0.7v0.7h-0.7zM343.4 163.9h1.0v1.0h-1.0zM341.5 167.7h1.0v1.0h-1.0zM320.3 163.5h0.9v0.9h-0.9zM335.2 164.8h1.0v1.0h-1.0zM325.9 160.5h0.9v0.9h-0.9zM346.8 170.7h0.8v0.8h-0.8zM327.7 160.5h0.9v0.9h-0.9zM334.3 156.8h0.8v0.8h-0.8zM333.9 163.1h1.0v1.0h-1.0zM338.4 170.4h0.7v0.7h-0.7zM322.0 162.9h0.9v0.9h-0.9zM335.9 165.2h1.0v1.0h-1.0zM317.6 164.1h1.0v1.0h-1.0zM333.2 162.5h0.9v0.9h-0.9zM314.8 161.0h0.7v0.7h-0.7zM324.2 162.4h0.9v0.9h-0.9zM307.7 168.0h0.9v0.9h-0.9zM331.8 163.6h0.7v0.7h-0.7zM339.6 162.8h0.8v0.8h-0.8zM332.2 163.8h0.9v0.9h-0.9zM338.4 163.9h0.7v0.7h-0.7zM323.4 161.6h0.7v0.7h-0.7zM321.2 162.3h0.7v0.7h-0.7zM339.9 170.0h0.8v0.8h-0.8zM330.8 163.1h1.0v1.0h-1.0zM337.5 168.4h0.7v0.7h-0.7zM315.5 166.3h0.7v0.7h-0.7zM320.3 163.4h0.9v0.9h-0.9zM319.2 163.1h1.0v1.0h-1.0zM311.1 167.8h0.8v0.8h-0.8zM347.0 171.3h0.9v0.9h-0.9zM314.8 168.3h0.9v0.9h-0.9zM335.9 164.0h0.8v0.8h-0.8zM329.8 162.0h0.7v0.7h-0.7zM307.0 167.1h0.8v0.8h-0.8zM344.8 172.2h0.7v0.7h-0.7zM341.2 174.6h0.9v0.9h-0.9zM310.8 171.4h0.7v0.7h-0.7zM339.9 164.4h0.7v0.7h-0.7zM338.2 170.0h1.0v1.0h-1.0zM328.0 160.9h1.0v1.0h-1.0zM313.7 164.5h0.8v0.8h-0.8zM314.0 170.3h0.8v0.8h-0.8zM327.6 162.4h0.8v0.8h-0.8zM333.8 164.5h0.8v0.8h-0.8zM340.7 165.8h1.0v1.0h-1.0zM333.5 180.1h1.0v1.0h-1.0zM330.7 180.7h0.9v0.9h-0.9zM316.0 164.9h0.9v0.9h-0.9zM340.0 167.5h0.7v0.7h-0.7zM342.8 171.6h0.7v0.7h-0.7zM326.4 162.7h0.8v0.8h-0.8zM315.9 165.3h0.7v0.7h-0.7zM320.8 160.0h1.0v1.0h-1.0zM333.2 178.2h0.7v0.7h-0.7zM321.3 161.6h0.7v0.7h-0.7zM309.5 166.2h0.9v0.9h-0.9zM339.2 169.3h1.0v1.0h-1.0zM329.8 163.1h1.0v1.0h-1.0zM329.7 162.6h1.0v1.0h-1.0zM334.6 164.2h1.0v1.0h-1.0zM311.6 167.2h0.7v0.7h-0.7zM337.2 165.7h0.7v0.7h-0.7zM346.5 166.3h0.7v0.7h-0.7zM342.4 171.2h0.7v0.7h-0.7zM333.2 162.5h0.8v0.8h-0.8zM332.6 160.9h1.0v1.0h-1.0zM336.0 177.9h0.7v0.7h-0.7zM338.4 173.1h0.8v0.8h-0.8zM336.8 177.2h0.7v0.7h-0.7zM338.6 171.9h1.0v1.0h-1.0zM327.5 161.4h0.9v0.9h-0.9zM324.5 160.1h0.7v0.7h-0.7zM344.9 174.3h0.8v0.8h-0.8zM337.2 166.6h0.7v0.7h-0.7zM340.3 170.5h1.0v1.0h-1.0zM317.2 164.0h0.9v0.9h-0.9zM313.8 169.8h1.0v1.0h-1.0zM322.2 162.9h0.8v0.8h-0.8zM340.5 167.3h0.7v0.7h-0.7zM339.1 170.9h0.7v0.7h-0.7zM321.9 163.1h0.8v0.8h-0.8zM340.7 170.1h0.9v0.9h-0.9zM312.5 176.5h0.9v0.9h-0.9zM333.5 164.4h1.0v1.0h-1.0zM335.8 164.8h1.0v1.0h-1.0zM312.1 177.1h0.7v0.7h-0.7zM344.3 173.0h0.8v0.8h-0.8zM322.5 162.3h0.7v0.7h-0.7zM339.6 171.1h0.9v0.9h-0.9zM338.9 169.2h0.9v0.9h-0.9zM312.2 168.1h0.9v0.9h-0.9zM342.8 166.4h0.9v0.9h-0.9zM332.2 180.8h0.7v0.7h-0.7zM315.1 160.3h0.7v0.7h-0.7zM339.3 170.1h0.7v0.7h-0.7zM325.2 162.1h0.8v0.8h-0.8zM315.0 166.9h1.0v1.0h-1.0zM321.2 162.8h0.7v0.7h-0.7zM350.1 168.9h0.8v0.8h-0.8zM339.7 162.2h1.0v1.0h-1.0zM337.5 166.9h0.9v0.9h-0.9zM325.4 158.4h1.0v1.0h-1.0zM321.5 162.4h0.9v0.9h-0.9zM326.8 162.7h0.7v0.7h-0.7zM314.3 176.0h0.9v0.9h-0.9zM340.0 172.9h0.8v0.8h-0.8zM339.5 167.7h1.0v1.0h-1.0zM318.9 182.1h0.8v0.8h-0.8zM331.7 163.1h0.8v0.8h-0.8zM319.9 163.4h0.7v0.7h-0.7zM332.3 179.1h0.7v0.7h-0.7zM316.7 163.3h0.8v0.8h-0.8zM325.9 162.0h0.9v0.9h-0.9zM335.5 164.6h0.8v0.8h-0.8zM303.1 164.9h0.7v0.7h-0.7zM342.6 169.5h0.9v0.9h-0.9zM321.3 162.1h0.8v0.8h-0.8zM317.1 161.4h0.9v0.9h-0.9zM336.1 164.1h0.8v0.8h-0.8zM312.0 173.6h0.7v0.7h-0.7zM324.9 162.4h0.9v0.9h-0.9zM325.0 162.5h1.0v1.0h-1.0zM340.9 172.6h1.0v1.0h-1.0zM341.2 170.5h0.9v0.9h-0.9zM311.0 168.0h0.7v0.7h-0.7zM322.1 162.9h1.0v1.0h-1.0zM319.3 163.2h0.9v0.9h-0.9zM314.8 168.2h1.0v1.0h-1.0zM318.3 164.5h0.7v0.7h-0.7zM308.9 173.3h0.9v0.9h-0.9zM332.8 158.8h0.9v0.9h-0.9zM328.7 162.8h0.9v0.9h-0.9zM318.3 180.2h0.9v0.9h-0.9zM326.0 159.6h1.0v1.0h-1.0zM321.3 162.9h1.0v1.0h-1.0zM343.0 164.1h0.8v0.8h-0.8zM336.1 165.0h1.0v1.0h-1.0zM339.8 171.2h1.0v1.0h-1.0zM324.4 159.1h0.7v0.7h-0.7zM336.1 177.8h0.8v0.8h-0.8zM321.4 163.4h0.8v0.8h-0.8zM326.3 161.2h1.0v1.0h-1.0zM340.4 171.1h0.8v0.8h-0.8zM338.3 164.6h1.0v1.0h-1.0zM338.6 168.1h0.8v0.8h-0.8zM336.0 165.1h0.7v0.7h-0.7zM313.1 170.3h0.7v0.7h-0.7zM339.3 167.4h1.0v1.0h-1.0zM318.6 163.0h0.7v0.7h-0.7zM337.1 164.3h0.8v0.8h-0.8zM338.0 169.1h0.7v0.7h-0.7zM322.7 161.5h0.8v0.8h-0.8zM322.0 162.1h0.7v0.7h-0.7zM343.1 171.4h0.7v0.7h-0.7zM317.9 163.7h0.9v0.9h-0.9zM339.3 171.0h0.8v0.8h-0.8zM328.4 162.8h1.0v1.0h-1.0zM313.1 167.9h1.0v1.0h-1.0zM332.9 163.1h0.8v0.8h-0.8zM320.9 157.9h1.0v1.0h-1.0zM321.3 161.2h0.9v0.9h-0.9zM308.2 167.3h0.8v0.8h-0.8zM343.9 165.2h1.0v1.0h-1.0zM344.0 169.8h1.0v1.0h-1.0zM327.5 160.5h0.7v0.7h-0.7zM336.8 161.6h1.0v1.0h-1.0zM335.2 164.2h1.0v1.0h-1.0zM311.0 173.9h0.8v0.8h-0.8zM317.7 180.2h0.8v0.8h-0.8zM335.2 180.8h0.8v0.8h-0.8zM338.1 168.0h0.7v0.7h-0.7zM331.2 162.6h1.0v1.0h-1.0zM335.8 163.6h0.9v0.9h-0.9zM333.1 163.8h0.7v0.7h-0.7zM313.4 166.2h0.7v0.7h-0.7zM323.1 162.8h0.9v0.9h-0.9zM339.9 171.0h1.0v1.0h-1.0zM312.8 172.7h0.8v0.8h-0.8zM331.8 180.7h0.7v0.7h-0.7zM325.3 162.3h0.9v0.9h-0.9zM320.3 162.5h0.7v0.7h-0.7zM313.4 168.3h0.9v0.9h-0.9zM320.3 157.8h1.0v1.0h-1.0zM345.9 172.5h0.9v0.9h-0.9zM313.0 175.7h0.9v0.9h-0.9zM317.3 161.9h0.8v0.8h-0.8zM346.3 170.3h0.9v0.9h-0.9zM331.3 180.2h0.9v0.9h-0.9zM324.5 181.5h0.7v0.7h-0.7zM322.8 180.3h0.8v0.8h-0.8zM328.1 162.2h0.8v0.8h-0.8zM325.0 162.5h0.7v0.7h-0.7zM327.1 161.1h1.0v1.0h-1.0zM339.5 167.7h1.0v1.0h-1.0zM316.6 179.5h0.7v0.7h-0.7zM340.7 169.3h0.9v0.9h-0.9zM319.1 163.1h0.7v0.7h-0.7zM319.9 164.0h0.9v0.9h-0.9zM339.5 165.5h0.7v0.7h-0.7zM334.5 163.0h0.7v0.7h-0.7zM322.4 160.0h1.0v1.0h-1.0zM339.0 170.2h0.8v0.8h-0.8zM328.6 160.1h0.7v0.7h-0.7zM326.1 162.6h1.0v1.0h-1.0zM319.4 163.2h0.9v0.9h-0.9zM331.5 160.7h0.7v0.7h-0.7zM335.2 163.4h0.7v0.7h-0.7zM312.1 161.1h1.0v1.0h-1.0zM342.3 167.3h0.7v0.7h-0.7zM337.9 167.9h0.8v0.8h-0.8zM337.7 167.0h0.7v0.7h-0.7zM339.6 164.7h1.0v1.0h-1.0zM336.1 162.0h1.0v1.0h-1.0zM339.1 162.9h1.0v1.0h-1.0zM329.6 162.3h0.8v0.8h-0.8zM336.9 166.6h0.7v0.7h-0.7zM313.6 169.1h0.9v0.9h-0.9zM336.5 165.4h0.7v0.7h-0.7zM336.7 166.9h0.7v0.7h-0.7zM314.8 162.7h0.7v0.7h-0.7zM337.5 167.9h1.0v1.0h-1.0zM316.7 162.0h0.9v0.9h-0.9zM339.9 171.3h0.8v0.8h-0.8zM349.6 167.2h0.8v0.8h-0.8zM314.1 169.4h0.9v0.9h-0.9zM313.4 170.0h1.0v1.0h-1.0zM320.7 163.4h0.9v0.9h-0.9zM340.5 167.4h0.7v0.7h-0.7zM304.6 165.8h0.9v0.9h-0.9zM313.9 171.8h1.0v1.0h-1.0zM314.3 167.1h0.9v0.9h-0.9zM335.1 165.1h0.7v0.7h-0.7zM330.9 163.3h0.7v0.7h-0.7zM312.7 168.4h0.9v0.9h-0.9zM323.6 160.2h0.9v0.9h-0.9zM339.2 171.3h0.7v0.7h-0.7zM335.9 165.6h0.7v0.7h-0.7zM329.9 180.0h1.0v1.0h-1.0zM329.9 158.9h0.9v0.9h-0.9zM339.5 168.1h0.8v0.8h-0.8zM349.1 171.4h0.8v0.8h-0.8zM338.7 170.4h1.0v1.0h-1.0zM342.1 167.6h0.7v0.7h-0.7zM330.6 160.3h0.7v0.7h-0.7zM328.8 162.4h0.8v0.8h-0.8zM335.9 164.0h0.7v0.7h-0.7zM352.6 168.6h1.0v1.0h-1.0zM347.6 170.8h0.7v0.7h-0.7zM337.7 173.0h0.9v0.9h-0.9zM345.8 174.8h1.0v1.0h-1.0zM338.2 178.1h1.0v1.0h-1.0zM343.3 166.3h0.8v0.8h-0.8zM340.8 177.0h0.7v0.7h-0.7zM343.6 171.2h0.9v0.9h-0.9zM340.2 173.7h0.9v0.9h-0.9zM343.2 166.1h1.0v1.0h-1.0zM340.3 165.2h0.8v0.8h-0.8zM341.6 171.8h1.0v1.0h-1.0zM338.2 171.1h0.7v0.7h-0.7zM339.2 177.3h0.9v0.9h-0.9zM345.8 167.7h0.7v0.7h-0.7zM339.0 178.4h1.0v1.0h-1.0zM339.1 173.0h1.0v1.0h-1.0zM343.0 170.4h0.9v0.9h-0.9zM344.7 175.2h1.0v1.0h-1.0zM342.0 181.8h1.0v1.0h-1.0zM340.9 174.9h0.8v0.8h-0.8zM338.0 179.7h0.7v0.7h-0.7zM338.3 163.3h0.8v0.8h-0.8zM343.5 182.7h0.7v0.7h-0.7zM340.9 163.3h1.0v1.0h-1.0zM339.0 170.5h1.0v1.0h-1.0zM337.8 168.7h0.8v0.8h-0.8zM344.0 171.6h0.9v0.9h-0.9zM343.7 181.8h0.8v0.8h-0.8zM342.1 175.3h0.9v0.9h-0.9zM340.6 170.1h0.9v0.9h-0.9z"/>
<ellipse cx="343.3" cy="177.6" rx="4.42" ry="2.04" fill="#1a1a1a" filter="url(#hz1)"/>
<path fill="#000" fill-opacity="0.4" d="M344.3 176.6h.9v.9h-.9zM338.9 176.6h.9v.9h-.9zM341.3 176.3h.9v.9h-.9zM345.7 178.3h.9v.9h-.9zM346.7 177.9h.9v.9h-.9zM344.2 176.0h.9v.9h-.9zM340.9 177.6h.9v.9h-.9zM341.1 177.8h.9v.9h-.9zM343.5 177.4h.9v.9h-.9zM340.8 177.5h.9v.9h-.9zM344.8 178.3h.9v.9h-.9zM344.3 177.4h.9v.9h-.9zM342.5 177.5h.9v.9h-.9zM341.2 174.9h.9v.9h-.9zM338.8 177.0h.9v.9h-.9zM345.1 177.4h.9v.9h-.9zM343.2 178.3h.9v.9h-.9zM348.3 177.2h.9v.9h-.9zM337.1 179.4h.9v.9h-.9zM341.7 176.5h.9v.9h-.9zM340.0 177.0h.9v.9h-.9zM345.7 179.3h.9v.9h-.9zM343.7 177.9h.9v.9h-.9zM346.1 178.6h.9v.9h-.9zM343.7 180.2h.9v.9h-.9zM341.3 179.9h.9v.9h-.9zM340.2 175.4h.9v.9h-.9zM343.3 177.4h.9v.9h-.9zM343.7 177.5h.9v.9h-.9zM342.5 176.8h.9v.9h-.9zM340.5 175.3h.9v.9h-.9zM346.0 176.2h.9v.9h-.9zM340.8 177.3h.9v.9h-.9zM348.4 177.3h.9v.9h-.9zM348.0 178.2h.9v.9h-.9zM344.4 175.8h.9v.9h-.9zM346.3 177.7h.9v.9h-.9zM343.5 180.0h.9v.9h-.9zM344.6 179.0h.9v.9h-.9zM342.8 176.7h.9v.9h-.9zM346.0 177.6h.9v.9h-.9zM342.6 176.7h.9v.9h-.9zM343.9 178.5h.9v.9h-.9zM344.9 180.6h.9v.9h-.9zM345.6 180.2h.9v.9h-.9zM342.5 180.0h.9v.9h-.9zM343.5 175.6h.9v.9h-.9zM345.2 178.9h.9v.9h-.9zM341.9 179.4h.9v.9h-.9zM345.7 178.9h.9v.9h-.9zM339.2 177.8h.9v.9h-.9zM344.7 176.9h.9v.9h-.9zM345.9 177.6h.9v.9h-.9zM341.4 178.3h.9v.9h-.9zM349.6 179.7h.9v.9h-.9zM348.1 178.7h.9v.9h-.9zM346.2 177.7h.9v.9h-.9zM343.4 177.6h.9v.9h-.9zM342.7 177.0h.9v.9h-.9zM341.0 175.8h.9v.9h-.9zM346.6 178.3h.9v.9h-.9zM342.6 177.4h.9v.9h-.9zM341.9 177.7h.9v.9h-.9zM348.1 177.8h.9v.9h-.9zM342.2 177.5h.9v.9h-.9zM340.3 178.6h.9v.9h-.9zM340.5 178.6h.9v.9h-.9zM343.7 178.5h.9v.9h-.9zM344.0 179.7h.9v.9h-.9zM344.4 175.7h.9v.9h-.9zM343.3 178.6h.9v.9h-.9zM337.8 177.2h.9v.9h-.9zM346.3 179.5h.9v.9h-.9zM349.3 177.1h.9v.9h-.9zM348.5 179.6h.9v.9h-.9zM343.5 175.9h.9v.9h-.9zM344.1 178.6h.9v.9h-.9zM346.0 178.4h.9v.9h-.9zM343.2 176.8h.9v.9h-.9zM343.1 176.0h.9v.9h-.9zM338.6 175.2h.9v.9h-.9zM341.6 178.9h.9v.9h-.9zM348.4 179.5h.9v.9h-.9zM343.0 175.9h.9v.9h-.9zM344.9 175.6h.9v.9h-.9zM340.9 178.5h.9v.9h-.9zM341.5 177.5h.9v.9h-.9zM343.3 177.7h.9v.9h-.9zM343.8 175.1h.9v.9h-.9zM344.5 178.1h.9v.9h-.9zM339.1 180.2h.9v.9h-.9zM353.8 177.4h.9v.9h-.9zM342.2 178.4h.9v.9h-.9zM342.4 178.4h.9v.9h-.9zM340.8 177.9h.9v.9h-.9zM340.0 178.1h.9v.9h-.9zM347.1 177.7h.9v.9h-.9zM349.4 177.2h.9v.9h-.9zM344.0 179.5h.9v.9h-.9zM335.4 178.7h.9v.9h-.9zM349.0 176.7h.9v.9h-.9zM344.1 176.7h.9v.9h-.9zM343.4 176.8h.9v.9h-.9zM347.4 180.0h.9v.9h-.9zM340.4 180.3h.9v.9h-.9zM341.5 178.1h.9v.9h-.9zM345.8 178.2h.9v.9h-.9zM339.5 178.5h.9v.9h-.9zM343.0 180.1h.9v.9h-.9zM344.2 179.7h.9v.9h-.9zM348.1 177.1h.8v.8h-.8zM347.9 176.9h.8v.8h-.8zM347.6 177.4h.8v.8h-.8zM348.6 176.8h.8v.8h-.8zM349.5 176.3h.8v.8h-.8zM350.1 173.8h.8v.8h-.8zM354.4 175.6h.8v.8h-.8zM350.3 174.9h.8v.8h-.8zM357.5 178.7h.8v.8h-.8zM351.1 180.6h.8v.8h-.8zM355.3 176.2h.8v.8h-.8zM355.1 173.6h.8v.8h-.8zM350.1 181.8h.8v.8h-.8zM346.4 177.2h.8v.8h-.8zM364.5 175.1h.8v.8h-.8zM348.5 175.1h.8v.8h-.8zM347.1 177.8h.8v.8h-.8zM356.7 181.1h.8v.8h-.8zM349.4 177.0h.8v.8h-.8zM363.2 175.1h.8v.8h-.8zM351.5 174.6h.8v.8h-.8zM347.1 180.4h.8v.8h-.8zM358.5 173.0h.8v.8h-.8zM352.8 177.5h.8v.8h-.8zM358.2 177.4h.8v.8h-.8zM358.3 179.6h.8v.8h-.8zM354.8 176.7h.8v.8h-.8zM348.7 177.6h.8v.8h-.8zM353.1 175.1h.8v.8h-.8zM347.4 176.4h.8v.8h-.8zM347.3 174.3h.8v.8h-.8zM348.1 178.5h.8v.8h-.8zM349.7 176.2h.8v.8h-.8zM357.1 177.7h.8v.8h-.8zM357.4 174.3h.8v.8h-.8zM350.2 177.1h.8v.8h-.8zM357.4 176.5h.8v.8h-.8zM348.6 174.1h.8v.8h-.8zM352.1 178.0h.8v.8h-.8zM349.0 177.5h.8v.8h-.8zM350.1 176.9h.8v.8h-.8zM350.4 176.0h.8v.8h-.8zM359.7 175.4h.8v.8h-.8zM349.2 176.7h.8v.8h-.8zM349.7 177.6h.8v.8h-.8z"/>
<path d="M313.6 172.1 C313.6 164.1 320.5 161.8 327.5 161.8 C335.6 161.8 338.8 166.5 338.8 171.7 C338.8 177.8 333.8 180.6 326.2 180.6 C318.6 180.6 313.6 178.2 313.6 172.1Z" fill="#111"/>
<ellipse cx="327.4" cy="171.2" rx="10.3" ry="7.5" fill="url(#core)"/>
<ellipse cx="327.4" cy="171.2" rx="4.41" ry="3.29" fill="none" stroke="#888" stroke-opacity="0.5" stroke-width="0.35"/>
<ellipse cx="327.4" cy="171.2" rx="6.93" ry="5.17" fill="none" stroke="#888" stroke-opacity="0.5" stroke-width="0.35"/>
<ellipse cx="327.4" cy="171.2" rx="9.45" ry="7.05" fill="none" stroke="#888" stroke-opacity="0.5" stroke-width="0.35"/>
<ellipse cx="328.6" cy="171.3" rx="1.1" ry="0.8" fill="#fff"/>
<rect x="302.10" y="120.20" width="90.90" height="72.20" fill="none" stroke="#111" stroke-width="1.1"/>
<rect x="340.30" y="148.70" width="51.70" height="39.40" fill="none" stroke="#555" stroke-width="0.8"/>
<line x1="299.90" y1="123.45" x2="302.10" y2="123.45" stroke="#111" stroke-width="0.8"/>
<text x="296.80" y="124.75" font-size="5.3" text-anchor="end" textLength="8.7" lengthAdjust="spacingAndGlyphs" style="stroke-width:0.06px">250</text>
<line x1="299.90" y1="137.24" x2="302.10" y2="137.24" stroke="#111" stroke-width="0.8"/>
<text x="296.80" y="138.54" font-size="5.3" text-anchor="end" textLength="8.7" lengthAdjust="spacingAndGlyphs" style="stroke-width:0.06px">200</text>
<line x1="299.90" y1="151.03" x2="302.10" y2="151.03" stroke="#111" stroke-width="0.8"/>
<text x="296.80" y="152.33" font-size="5.3" text-anchor="end" textLength="8.7" lengthAdjust="spacingAndGlyphs" style="stroke-width:0.06px">150</text>
<line x1="299.90" y1="164.82" x2="302.10" y2="164.82" stroke="#111" stroke-width="0.8"/>
<text x="296.80" y="166.12" font-size="5.3" text-anchor="end" textLength="8.7" lengthAdjust="spacingAndGlyphs" style="stroke-width:0.06px">100</text>
<line x1="299.90" y1="178.61" x2="302.10" y2="178.61" stroke="#111" stroke-width="0.8"/>
<text x="296.80" y="179.91" font-size="5.3" text-anchor="end" textLength="5.8" lengthAdjust="spacingAndGlyphs" style="stroke-width:0.06px">50</text>
<line x1="300.90" y1="192.40" x2="302.10" y2="192.40" stroke="#111" stroke-width="0.6"/>
<line x1="300.90" y1="189.64" x2="302.10" y2="189.64" stroke="#111" stroke-width="0.6"/>
<line x1="300.90" y1="186.88" x2="302.10" y2="186.88" stroke="#111" stroke-width="0.6"/>
<line x1="300.90" y1="184.13" x2="302.10" y2="184.13" stroke="#111" stroke-width="0.6"/>
<line x1="300.90" y1="181.37" x2="302.10" y2="181.37" stroke="#111" stroke-width="0.6"/>
<line x1="300.90" y1="178.61" x2="302.10" y2="178.61" stroke="#111" stroke-width="0.6"/>
<line x1="300.90" y1="175.85" x2="302.10" y2="175.85" stroke="#111" stroke-width="0.6"/>
<line x1="300.90" y1="173.09" x2="302.10" y2="173.09" stroke="#111" stroke-width="0.6"/>
<line x1="300.90" y1="170.34" x2="302.10" y2="170.34" stroke="#111" stroke-width="0.6"/>
<line x1="300.90" y1="167.58" x2="302.10" y2="167.58" stroke="#111" stroke-width="0.6"/>
<line x1="300.90" y1="164.82" x2="302.10" y2="164.82" stroke="#111" stroke-width="0.6"/>
<line x1="300.90" y1="162.06" x2="302.10" y2="162.06" stroke="#111" stroke-width="0.6"/>
<line x1="300.90" y1="159.30" x2="302.10" y2="159.30" stroke="#111" stroke-width="0.6"/>
<line x1="300.90" y1="156.55" x2="302.10" y2="156.55" stroke="#111" stroke-width="0.6"/>
<line x1="300.90" y1="153.79" x2="302.10" y2="153.79" stroke="#111" stroke-width="0.6"/>
<line x1="300.90" y1="151.03" x2="302.10" y2="151.03" stroke="#111" stroke-width="0.6"/>
<line x1="300.90" y1="148.27" x2="302.10" y2="148.27" stroke="#111" stroke-width="0.6"/>
<line x1="300.90" y1="145.51" x2="302.10" y2="145.51" stroke="#111" stroke-width="0.6"/>
<line x1="300.90" y1="142.76" x2="302.10" y2="142.76" stroke="#111" stroke-width="0.6"/>
<line x1="300.90" y1="140.00" x2="302.10" y2="140.00" stroke="#111" stroke-width="0.6"/>
<line x1="300.90" y1="137.24" x2="302.10" y2="137.24" stroke="#111" stroke-width="0.6"/>
<line x1="300.90" y1="134.48" x2="302.10" y2="134.48" stroke="#111" stroke-width="0.6"/>
<line x1="300.90" y1="131.72" x2="302.10" y2="131.72" stroke="#111" stroke-width="0.6"/>
<line x1="300.90" y1="128.97" x2="302.10" y2="128.97" stroke="#111" stroke-width="0.6"/>
<line x1="300.90" y1="126.21" x2="302.10" y2="126.21" stroke="#111" stroke-width="0.6"/>
<line x1="300.90" y1="123.45" x2="302.10" y2="123.45" stroke="#111" stroke-width="0.6"/>
<text x="302.10" y="203.90" font-size="5.2" text-anchor="middle" textLength="12.1" lengthAdjust="spacingAndGlyphs" style="stroke-width:0.06px">−185</text>
<text x="313.80" y="203.90" font-size="5.2" text-anchor="middle" style="stroke-width:0.06px">0</text>
<text x="318.10" y="203.90" font-size="5.2" textLength="5" lengthAdjust="spacingAndGlyphs" style="stroke-width:0.06px">10</text>
<text x="322.90" y="201.40" font-size="3.2" style="stroke-width:0.06px">2</text>
<text x="340.30" y="203.90" font-size="5.2" textLength="5" lengthAdjust="spacingAndGlyphs" style="stroke-width:0.06px">10</text>
<text x="345.10" y="201.40" font-size="3.2" style="stroke-width:0.06px">3</text>
<text x="362.30" y="203.90" font-size="5.2" textLength="5" lengthAdjust="spacingAndGlyphs" style="stroke-width:0.06px">10</text>
<text x="367.10" y="201.40" font-size="3.2" style="stroke-width:0.06px">4</text>
<text x="382.30" y="203.90" font-size="5.2" textLength="5" lengthAdjust="spacingAndGlyphs" style="stroke-width:0.06px">10</text>
<text x="387.10" y="201.40" font-size="3.2" style="stroke-width:0.06px">5</text>
<line x1="320.60" y1="192.40" x2="320.60" y2="194.80" stroke="#111" stroke-width="0.8"/>
<line x1="326.92" y1="192.40" x2="326.92" y2="193.70" stroke="#111" stroke-width="0.6"/>
<line x1="330.62" y1="192.40" x2="330.62" y2="193.70" stroke="#111" stroke-width="0.6"/>
<line x1="333.24" y1="192.40" x2="333.24" y2="193.70" stroke="#111" stroke-width="0.6"/>
<line x1="335.28" y1="192.40" x2="335.28" y2="193.70" stroke="#111" stroke-width="0.6"/>
<line x1="336.94" y1="192.40" x2="336.94" y2="193.70" stroke="#111" stroke-width="0.6"/>
<line x1="338.35" y1="192.40" x2="338.35" y2="193.70" stroke="#111" stroke-width="0.6"/>
<line x1="339.56" y1="192.40" x2="339.56" y2="193.70" stroke="#111" stroke-width="0.6"/>
<line x1="340.64" y1="192.40" x2="340.64" y2="193.70" stroke="#111" stroke-width="0.6"/>
<line x1="342.80" y1="192.40" x2="342.80" y2="194.80" stroke="#111" stroke-width="0.8"/>
<line x1="349.12" y1="192.40" x2="349.12" y2="193.70" stroke="#111" stroke-width="0.6"/>
<line x1="352.82" y1="192.40" x2="352.82" y2="193.70" stroke="#111" stroke-width="0.6"/>
<line x1="355.44" y1="192.40" x2="355.44" y2="193.70" stroke="#111" stroke-width="0.6"/>
<line x1="357.48" y1="192.40" x2="357.48" y2="193.70" stroke="#111" stroke-width="0.6"/>
<line x1="359.14" y1="192.40" x2="359.14" y2="193.70" stroke="#111" stroke-width="0.6"/>
<line x1="360.55" y1="192.40" x2="360.55" y2="193.70" stroke="#111" stroke-width="0.6"/>
<line x1="361.76" y1="192.40" x2="361.76" y2="193.70" stroke="#111" stroke-width="0.6"/>
<line x1="362.84" y1="192.40" x2="362.84" y2="193.70" stroke="#111" stroke-width="0.6"/>
<line x1="364.80" y1="192.40" x2="364.80" y2="194.80" stroke="#111" stroke-width="0.8"/>
<line x1="371.12" y1="192.40" x2="371.12" y2="193.70" stroke="#111" stroke-width="0.6"/>
<line x1="374.82" y1="192.40" x2="374.82" y2="193.70" stroke="#111" stroke-width="0.6"/>
<line x1="377.44" y1="192.40" x2="377.44" y2="193.70" stroke="#111" stroke-width="0.6"/>
<line x1="379.48" y1="192.40" x2="379.48" y2="193.70" stroke="#111" stroke-width="0.6"/>
<line x1="381.14" y1="192.40" x2="381.14" y2="193.70" stroke="#111" stroke-width="0.6"/>
<line x1="382.55" y1="192.40" x2="382.55" y2="193.70" stroke="#111" stroke-width="0.6"/>
<line x1="383.76" y1="192.40" x2="383.76" y2="193.70" stroke="#111" stroke-width="0.6"/>
<line x1="384.84" y1="192.40" x2="384.84" y2="193.70" stroke="#111" stroke-width="0.6"/>
<line x1="384.80" y1="192.40" x2="384.80" y2="194.80" stroke="#111" stroke-width="0.8"/>
<line x1="391.12" y1="192.40" x2="391.12" y2="193.70" stroke="#111" stroke-width="0.6"/>
<line x1="302.10" y1="192.40" x2="302.10" y2="193.90" stroke="#111" stroke-width="0.6"/>
<line x1="313.80" y1="192.40" x2="313.80" y2="193.90" stroke="#111" stroke-width="0.6"/>
<line x1="305.10" y1="192.40" x2="305.10" y2="193.90" stroke="#111" stroke-width="0.6"/>
<line x1="308.10" y1="192.40" x2="308.10" y2="193.90" stroke="#111" stroke-width="0.6"/>
<line x1="311.10" y1="192.40" x2="311.10" y2="193.90" stroke="#111" stroke-width="0.6"/>
<line x1="316.10" y1="192.40" x2="316.10" y2="193.90" stroke="#111" stroke-width="0.6"/>
<text x="358.70" y="141.40" font-size="9.3" font-weight="bold" textLength="13" lengthAdjust="spacingAndGlyphs">6%</text>
<text x="365.80" y="170.80" font-size="4.8" textLength="12.5" lengthAdjust="spacingAndGlyphs" style="stroke-width:0.06px">ki67 +</text>
<text x="342.00" y="212.80" font-size="6.8" textLength="11.6" lengthAdjust="spacingAndGlyphs">PE-A</text>
<text x="284.00" y="129.80" font-size="5.3" text-anchor="middle" textLength="19.6" lengthAdjust="spacingAndGlyphs" transform="rotate(-90 284.00 129.80)" style="stroke-width:0.06px">(× 1,000)</text>
<text x="283.50" y="154.00" font-size="5.4" text-anchor="middle" textLength="13.6" lengthAdjust="spacingAndGlyphs" transform="rotate(-90 283.50 154.00)" style="stroke-width:0.06px">FSC-A</text>
<ellipse cx="447.0" cy="168.5" rx="16.5" ry="15.3" fill="#000" fill-opacity="0.22" filter="url(#hz)"/>
<path fill="#000" fill-opacity="0.2" d="M441.7 159.3h0.9v0.9h-0.9zM458.9 171.6h0.7v0.7h-0.7zM447.9 160.0h0.8v0.8h-0.8zM452.7 161.5h0.9v0.9h-0.9zM461.9 170.9h0.7v0.7h-0.7zM434.3 175.9h0.9v0.9h-0.9zM460.4 172.7h1.0v1.0h-1.0zM439.7 157.5h1.0v1.0h-1.0zM432.9 170.9h0.7v0.7h-0.7zM458.5 172.3h1.0v1.0h-1.0zM440.8 158.8h0.9v0.9h-0.9zM453.2 178.1h0.8v0.8h-0.8zM458.6 164.2h0.9v0.9h-0.9zM436.1 170.8h0.9v0.9h-0.9zM435.1 183.6h0.7v0.7h-0.7zM445.3 160.3h1.0v1.0h-1.0zM461.1 158.2h0.9v0.9h-0.9zM454.0 162.2h0.8v0.8h-0.8zM455.6 159.2h1.0v1.0h-1.0zM461.4 169.9h1.0v1.0h-1.0zM458.5 164.1h1.0v1.0h-1.0zM459.1 171.6h0.7v0.7h-0.7zM441.7 160.8h0.7v0.7h-0.7zM462.0 170.0h1.0v1.0h-1.0zM458.3 172.1h0.9v0.9h-0.9zM436.8 171.8h0.7v0.7h-0.7zM460.9 169.3h1.0v1.0h-1.0zM458.7 172.9h0.9v0.9h-0.9zM434.6 170.3h0.7v0.7h-0.7zM448.2 158.6h0.7v0.7h-0.7zM434.8 158.9h0.9v0.9h-0.9zM448.1 158.0h0.9v0.9h-0.9zM430.3 170.7h0.8v0.8h-0.8zM459.1 168.3h1.0v1.0h-1.0zM440.4 161.0h0.7v0.7h-0.7zM460.4 172.0h1.0v1.0h-1.0zM456.4 178.7h1.0v1.0h-1.0zM449.5 158.3h0.7v0.7h-0.7zM441.4 178.3h0.7v0.7h-0.7zM441.5 160.9h1.0v1.0h-1.0zM455.1 163.3h1.0v1.0h-1.0zM458.3 163.4h0.9v0.9h-0.9zM457.8 166.7h1.0v1.0h-1.0zM449.4 158.3h0.9v0.9h-0.9zM458.9 162.4h0.9v0.9h-0.9zM443.1 160.0h0.7v0.7h-0.7zM452.4 155.2h0.9v0.9h-0.9zM435.2 164.5h0.7v0.7h-0.7zM458.0 167.1h0.7v0.7h-0.7zM442.7 161.4h0.8v0.8h-0.8zM454.0 162.3h0.7v0.7h-0.7zM445.3 160.1h0.9v0.9h-0.9zM441.6 156.8h0.8v0.8h-0.8zM458.7 163.7h0.8v0.8h-0.8zM447.8 180.1h0.7v0.7h-0.7zM456.3 162.1h0.8v0.8h-0.8zM431.3 164.8h0.9v0.9h-0.9zM441.8 156.8h0.9v0.9h-0.9zM452.2 160.8h1.0v1.0h-1.0zM457.7 162.4h1.0v1.0h-1.0zM456.6 181.5h0.7v0.7h-0.7zM458.2 159.2h0.7v0.7h-0.7zM457.9 164.2h0.8v0.8h-0.8zM438.5 163.0h0.9v0.9h-0.9zM456.8 162.4h0.7v0.7h-0.7zM445.2 157.3h0.8v0.8h-0.8zM453.2 157.7h0.7v0.7h-0.7zM469.6 174.7h0.7v0.7h-0.7zM453.9 160.3h0.8v0.8h-0.8zM455.8 163.4h1.0v1.0h-1.0zM450.7 159.4h0.7v0.7h-0.7zM460.1 168.9h1.0v1.0h-1.0zM452.5 161.6h0.9v0.9h-0.9zM458.8 161.8h0.7v0.7h-0.7zM437.5 155.8h1.0v1.0h-1.0zM441.9 158.8h0.8v0.8h-0.8zM438.0 164.6h0.7v0.7h-0.7zM460.4 159.0h0.8v0.8h-0.8zM458.7 176.5h0.8v0.8h-0.8zM430.1 166.7h0.9v0.9h-0.9zM458.4 161.4h0.9v0.9h-0.9zM462.8 174.6h0.8v0.8h-0.8zM434.1 168.3h1.0v1.0h-1.0zM449.2 181.7h0.9v0.9h-0.9zM436.4 173.0h1.0v1.0h-1.0zM441.1 178.8h0.8v0.8h-0.8zM460.5 169.6h0.8v0.8h-0.8zM431.6 169.5h0.8v0.8h-0.8zM435.0 170.5h0.8v0.8h-0.8zM437.6 159.1h0.8v0.8h-0.8zM426.5 173.7h0.8v0.8h-0.8zM454.9 160.4h1.0v1.0h-1.0zM436.5 167.9h1.0v1.0h-1.0zM434.4 171.2h0.8v0.8h-0.8zM460.5 172.8h0.9v0.9h-0.9zM441.0 155.0h0.8v0.8h-0.8zM454.5 162.7h0.8v0.8h-0.8zM455.0 159.6h1.0v1.0h-1.0zM460.7 170.9h1.0v1.0h-1.0zM439.6 162.6h0.7v0.7h-0.7zM444.6 159.3h0.9v0.9h-0.9zM461.7 156.5h0.7v0.7h-0.7zM458.6 162.3h0.8v0.8h-0.8zM450.0 160.6h1.0v1.0h-1.0zM455.6 161.0h0.8v0.8h-0.8zM435.9 168.6h1.0v1.0h-1.0zM445.4 160.9h0.7v0.7h-0.7zM445.1 160.9h0.7v0.7h-0.7zM457.2 177.5h0.8v0.8h-0.8zM441.0 162.6h0.9v0.9h-0.9zM433.8 172.0h0.8v0.8h-0.8zM461.2 170.0h0.9v0.9h-0.9zM444.9 161.1h0.9v0.9h-0.9zM452.1 159.7h0.7v0.7h-0.7zM455.0 162.9h0.9v0.9h-0.9zM443.1 158.2h0.8v0.8h-0.8zM449.5 160.9h0.8v0.8h-0.8zM441.8 161.4h0.8v0.8h-0.8zM438.5 180.1h0.8v0.8h-0.8zM443.2 161.1h1.0v1.0h-1.0zM438.2 162.0h1.0v1.0h-1.0zM458.8 165.3h1.0v1.0h-1.0zM454.1 161.8h0.7v0.7h-0.7zM455.1 162.6h0.7v0.7h-0.7zM435.4 170.6h0.7v0.7h-0.7zM458.7 166.6h0.7v0.7h-0.7zM457.2 160.2h1.0v1.0h-1.0zM452.6 178.5h0.8v0.8h-0.8zM460.7 172.4h0.9v0.9h-0.9zM448.5 159.6h1.0v1.0h-1.0zM436.7 168.8h0.9v0.9h-0.9zM434.5 168.3h0.8v0.8h-0.8zM431.5 171.2h0.7v0.7h-0.7zM441.7 158.5h0.8v0.8h-0.8zM453.2 158.8h0.9v0.9h-0.9zM458.1 171.8h0.9v0.9h-0.9zM457.2 176.8h0.7v0.7h-0.7zM459.9 177.1h0.9v0.9h-0.9zM436.5 166.7h0.7v0.7h-0.7zM453.3 161.8h1.0v1.0h-1.0zM458.4 161.8h0.9v0.9h-0.9zM433.9 163.0h0.9v0.9h-0.9zM452.8 161.6h0.8v0.8h-0.8zM454.9 160.5h0.8v0.8h-0.8zM434.3 170.3h0.7v0.7h-0.7zM446.3 159.0h0.9v0.9h-0.9zM441.2 159.3h0.8v0.8h-0.8zM454.2 159.0h0.7v0.7h-0.7zM440.3 160.2h0.7v0.7h-0.7zM458.6 161.9h0.7v0.7h-0.7zM442.3 159.9h0.8v0.8h-0.8zM458.7 174.9h0.7v0.7h-0.7zM441.4 158.7h0.9v0.9h-0.9zM454.3 159.8h0.7v0.7h-0.7zM460.0 170.3h1.0v1.0h-1.0zM458.3 167.8h1.0v1.0h-1.0zM453.0 185.9h1.0v1.0h-1.0zM454.5 155.9h1.0v1.0h-1.0zM436.5 172.2h0.8v0.8h-0.8zM454.5 160.0h0.7v0.7h-0.7zM448.8 179.3h1.0v1.0h-1.0zM441.3 161.8h0.8v0.8h-0.8zM435.7 172.1h0.8v0.8h-0.8zM456.7 164.2h1.0v1.0h-1.0zM449.2 159.7h0.9v0.9h-0.9zM459.9 163.9h0.9v0.9h-0.9zM458.8 161.7h1.0v1.0h-1.0zM444.7 160.6h0.9v0.9h-0.9zM460.9 164.3h0.7v0.7h-0.7zM436.7 176.2h0.9v0.9h-0.9zM457.4 164.3h0.7v0.7h-0.7zM454.1 161.3h1.0v1.0h-1.0zM457.7 166.3h1.0v1.0h-1.0zM461.1 168.4h0.9v0.9h-0.9zM448.8 181.0h0.8v0.8h-0.8zM443.8 161.1h0.7v0.7h-0.7zM452.5 160.5h0.8v0.8h-0.8zM459.3 169.4h0.9v0.9h-0.9zM452.2 178.8h0.8v0.8h-0.8zM459.3 167.5h0.9v0.9h-0.9zM460.4 169.2h0.7v0.7h-0.7zM458.9 169.7h0.8v0.8h-0.8zM435.6 164.7h0.7v0.7h-0.7zM464.3 176.4h0.8v0.8h-0.8zM457.9 163.7h0.9v0.9h-0.9zM441.9 182.3h1.0v1.0h-1.0zM460.3 166.4h1.0v1.0h-1.0zM442.4 160.3h0.8v0.8h-0.8zM436.1 157.5h0.8v0.8h-0.8zM464.1 174.9h0.7v0.7h-0.7zM461.6 166.5h0.9v0.9h-0.9zM457.7 176.6h1.0v1.0h-1.0zM449.0 160.5h0.8v0.8h-0.8zM459.2 166.1h1.0v1.0h-1.0zM459.5 168.0h0.7v0.7h-0.7zM444.2 160.2h0.9v0.9h-0.9zM439.2 161.6h0.8v0.8h-0.8zM460.8 167.8h1.0v1.0h-1.0zM458.9 164.3h0.8v0.8h-0.8zM442.6 160.0h0.7v0.7h-0.7zM436.3 167.3h0.9v0.9h-0.9zM458.6 170.1h0.7v0.7h-0.7zM436.1 167.1h1.0v1.0h-1.0zM458.6 158.7h1.0v1.0h-1.0zM457.7 166.7h0.7v0.7h-0.7zM436.4 170.5h0.8v0.8h-0.8zM458.3 166.6h0.7v0.7h-0.7zM454.6 160.6h0.7v0.7h-0.7zM432.9 164.7h0.9v0.9h-0.9zM458.4 177.4h0.8v0.8h-0.8zM458.6 164.8h0.9v0.9h-0.9zM460.7 165.9h0.9v0.9h-0.9zM456.4 160.9h0.7v0.7h-0.7zM460.2 169.4h1.0v1.0h-1.0zM436.7 169.1h0.8v0.8h-0.8zM448.0 160.2h0.7v0.7h-0.7zM435.1 168.1h0.7v0.7h-0.7zM443.7 161.0h0.7v0.7h-0.7zM452.5 160.8h0.8v0.8h-0.8zM457.4 165.8h0.9v0.9h-0.9zM438.3 161.5h0.9v0.9h-0.9zM450.1 160.2h0.9v0.9h-0.9zM454.6 176.9h0.7v0.7h-0.7zM450.3 159.5h0.7v0.7h-0.7zM459.8 167.5h0.7v0.7h-0.7zM460.5 168.8h0.7v0.7h-0.7zM458.5 157.0h1.0v1.0h-1.0zM459.0 170.6h0.7v0.7h-0.7zM457.6 173.4h1.0v1.0h-1.0zM449.7 159.6h1.0v1.0h-1.0zM457.6 164.4h0.8v0.8h-0.8zM453.1 161.5h0.7v0.7h-0.7zM459.2 182.2h1.0v1.0h-1.0zM466.6 167.2h0.8v0.8h-0.8zM456.5 164.3h1.0v1.0h-1.0zM438.4 153.3h0.9v0.9h-0.9zM457.2 162.0h1.0v1.0h-1.0zM463.5 169.9h0.8v0.8h-0.8zM468.7 169.0h0.9v0.9h-0.9zM462.9 169.0h1.0v1.0h-1.0zM436.3 169.9h0.7v0.7h-0.7zM458.3 171.0h0.9v0.9h-0.9zM445.5 160.7h0.9v0.9h-0.9zM458.5 175.9h0.8v0.8h-0.8zM460.1 159.8h1.0v1.0h-1.0zM457.5 166.1h0.7v0.7h-0.7zM446.5 158.2h0.9v0.9h-0.9zM462.7 162.6h0.9v0.9h-0.9zM446.1 159.8h0.8v0.8h-0.8zM448.5 180.1h0.8v0.8h-0.8zM459.6 163.3h0.9v0.9h-0.9zM458.3 183.8h1.0v1.0h-1.0zM435.1 172.4h0.9v0.9h-0.9zM458.1 162.8h0.9v0.9h-0.9zM456.9 164.1h1.0v1.0h-1.0zM450.8 154.3h0.7v0.7h-0.7zM441.7 160.7h0.7v0.7h-0.7zM440.1 177.6h0.8v0.8h-0.8zM437.9 161.7h0.7v0.7h-0.7zM433.4 165.6h0.8v0.8h-0.8zM456.0 164.3h0.7v0.7h-0.7zM436.5 169.7h0.7v0.7h-0.7zM443.0 158.7h0.8v0.8h-0.8zM452.6 159.7h0.9v0.9h-0.9zM438.3 158.8h0.7v0.7h-0.7zM436.2 168.2h0.9v0.9h-0.9zM442.0 161.9h0.8v0.8h-0.8zM439.6 163.2h0.9v0.9h-0.9zM434.9 166.8h0.8v0.8h-0.8zM471.3 171.9h0.8v0.8h-0.8zM463.2 176.4h1.0v1.0h-1.0zM471.0 175.4h0.7v0.7h-0.7zM460.2 174.1h0.8v0.8h-0.8zM457.0 168.5h0.8v0.8h-0.8zM469.4 176.9h0.7v0.7h-0.7zM460.6 172.2h0.9v0.9h-0.9zM458.5 174.2h1.0v1.0h-1.0zM461.0 171.6h1.0v1.0h-1.0zM456.8 178.8h1.0v1.0h-1.0zM460.2 170.8h0.8v0.8h-0.8zM461.3 168.5h0.7v0.7h-0.7zM462.8 161.3h1.0v1.0h-1.0zM461.6 173.7h0.8v0.8h-0.8zM457.0 173.0h1.0v1.0h-1.0zM460.0 159.4h0.8v0.8h-0.8zM460.7 172.3h0.8v0.8h-0.8zM457.8 161.7h1.0v1.0h-1.0zM461.8 177.5h0.7v0.7h-0.7zM460.4 178.6h1.0v1.0h-1.0zM462.8 168.2h1.0v1.0h-1.0zM460.5 176.2h1.0v1.0h-1.0zM459.9 179.5h1.0v1.0h-1.0zM466.0 172.1h1.0v1.0h-1.0zM462.8 177.6h0.7v0.7h-0.7zM462.7 167.3h0.7v0.7h-0.7zM462.4 174.9h0.9v0.9h-0.9zM461.7 171.8h1.0v1.0h-1.0zM457.8 169.0h0.8v0.8h-0.8zM463.6 174.3h0.7v0.7h-0.7zM460.7 167.5h0.8v0.8h-0.8zM460.1 166.8h0.7v0.7h-0.7zM458.9 172.8h0.9v0.9h-0.9zM458.0 168.9h0.9v0.9h-0.9zM460.0 177.5h0.8v0.8h-0.8zM457.9 175.8h1.0v1.0h-1.0zM456.6 171.9h0.8v0.8h-0.8zM459.0 170.8h0.9v0.9h-0.9zM462.5 171.0h0.8v0.8h-0.8zM460.3 174.9h0.7v0.7h-0.7z"/>
<path fill="#000" fill-opacity="0.32" d="M438.0 164.0h0.7v0.7h-0.7zM447.8 158.8h0.9v0.9h-0.9zM445.1 182.7h0.9v0.9h-0.9zM436.3 169.6h0.8v0.8h-0.8zM458.7 160.6h0.7v0.7h-0.7zM439.0 164.0h1.0v1.0h-1.0zM450.0 159.7h0.8v0.8h-0.8zM458.7 164.4h0.9v0.9h-0.9zM441.3 161.4h0.8v0.8h-0.8zM439.8 157.6h0.9v0.9h-0.9zM443.9 159.5h0.9v0.9h-0.9zM443.7 160.8h0.9v0.9h-0.9zM435.4 165.7h0.7v0.7h-0.7zM451.2 157.4h1.0v1.0h-1.0zM440.9 161.1h0.7v0.7h-0.7zM444.0 160.2h0.8v0.8h-0.8zM457.1 162.3h0.8v0.8h-0.8zM459.2 169.3h0.9v0.9h-0.9zM441.8 159.4h0.9v0.9h-0.9zM460.1 172.0h1.0v1.0h-1.0zM466.4 167.8h0.9v0.9h-0.9zM458.3 167.8h0.7v0.7h-0.7zM457.7 163.8h0.9v0.9h-0.9zM460.5 170.2h0.7v0.7h-0.7zM459.8 165.7h0.9v0.9h-0.9zM437.0 164.1h0.9v0.9h-0.9zM445.4 160.7h1.0v1.0h-1.0zM456.0 164.2h0.8v0.8h-0.8zM445.0 160.0h0.9v0.9h-0.9zM461.4 166.0h0.7v0.7h-0.7zM458.8 175.5h0.8v0.8h-0.8zM432.7 170.3h0.9v0.9h-0.9zM452.1 178.4h0.8v0.8h-0.8zM467.5 168.6h0.8v0.8h-0.8zM445.7 159.9h0.7v0.7h-0.7zM428.9 169.8h1.0v1.0h-1.0zM438.5 160.2h0.7v0.7h-0.7zM455.4 163.6h1.0v1.0h-1.0zM440.3 161.7h0.9v0.9h-0.9zM459.8 165.7h1.0v1.0h-1.0zM456.0 160.2h0.7v0.7h-0.7zM466.5 170.3h0.7v0.7h-0.7zM456.8 177.2h0.9v0.9h-0.9zM455.0 161.7h0.7v0.7h-0.7zM452.1 158.2h0.9v0.9h-0.9zM454.9 161.4h0.8v0.8h-0.8zM460.0 167.6h0.7v0.7h-0.7zM458.3 165.0h0.8v0.8h-0.8zM442.0 159.3h0.8v0.8h-0.8zM457.0 165.2h0.7v0.7h-0.7zM444.6 158.1h0.9v0.9h-0.9zM434.7 165.3h0.9v0.9h-0.9zM448.5 160.7h0.8v0.8h-0.8zM434.8 169.5h0.9v0.9h-0.9zM446.8 157.3h0.9v0.9h-0.9zM449.3 159.2h1.0v1.0h-1.0zM442.9 158.8h0.9v0.9h-0.9zM463.6 168.6h0.7v0.7h-0.7zM436.0 171.4h0.7v0.7h-0.7zM442.8 183.2h1.0v1.0h-1.0zM452.1 158.9h0.7v0.7h-0.7zM458.4 156.6h1.0v1.0h-1.0zM440.8 162.4h1.0v1.0h-1.0zM451.6 159.9h0.7v0.7h-0.7zM436.8 166.0h1.0v1.0h-1.0zM455.5 160.2h0.7v0.7h-0.7zM459.7 167.3h0.8v0.8h-0.8zM455.6 178.9h0.7v0.7h-0.7zM440.9 158.2h1.0v1.0h-1.0zM436.7 181.9h0.9v0.9h-0.9zM451.1 180.3h0.8v0.8h-0.8zM439.2 160.0h0.7v0.7h-0.7zM460.8 171.0h0.8v0.8h-0.8zM457.5 175.3h0.7v0.7h-0.7zM455.9 160.5h0.9v0.9h-0.9zM461.1 171.7h1.0v1.0h-1.0zM438.4 164.6h1.0v1.0h-1.0zM458.0 163.5h0.8v0.8h-0.8zM435.8 170.2h0.7v0.7h-0.7zM434.3 168.0h1.0v1.0h-1.0zM436.6 169.6h0.9v0.9h-0.9zM446.1 159.8h0.8v0.8h-0.8zM436.9 160.1h1.0v1.0h-1.0zM447.3 156.1h1.0v1.0h-1.0zM458.6 169.4h0.8v0.8h-0.8zM461.6 157.2h0.8v0.8h-0.8zM458.9 162.7h1.0v1.0h-1.0zM440.4 161.2h0.8v0.8h-0.8zM453.2 161.5h1.0v1.0h-1.0zM459.0 164.5h0.8v0.8h-0.8zM442.4 157.1h1.0v1.0h-1.0zM442.1 161.5h0.7v0.7h-0.7zM447.7 159.9h0.8v0.8h-0.8zM445.1 159.6h0.9v0.9h-0.9zM437.5 161.2h0.8v0.8h-0.8zM458.2 168.5h0.7v0.7h-0.7zM457.0 163.8h0.7v0.7h-0.7zM433.8 168.4h1.0v1.0h-1.0zM460.3 161.5h1.0v1.0h-1.0zM454.7 159.9h0.8v0.8h-0.8zM452.8 161.3h0.8v0.8h-0.8zM457.7 162.2h0.8v0.8h-0.8zM448.2 158.1h1.0v1.0h-1.0zM456.7 162.5h0.7v0.7h-0.7zM446.3 159.0h0.7v0.7h-0.7zM432.6 168.0h0.7v0.7h-0.7zM455.1 179.6h0.7v0.7h-0.7zM457.6 163.2h0.8v0.8h-0.8zM451.1 179.4h1.0v1.0h-1.0zM454.2 188.4h0.7v0.7h-0.7zM459.3 167.5h1.0v1.0h-1.0zM460.3 161.8h0.9v0.9h-0.9zM435.1 161.7h0.9v0.9h-0.9zM443.7 155.9h0.7v0.7h-0.7zM448.7 160.4h0.9v0.9h-0.9zM442.3 161.8h1.0v1.0h-1.0zM442.1 160.0h0.9v0.9h-0.9zM460.2 162.8h0.7v0.7h-0.7zM460.4 168.5h0.7v0.7h-0.7zM452.2 159.3h0.9v0.9h-0.9zM455.4 162.1h0.9v0.9h-0.9zM455.5 162.6h0.7v0.7h-0.7zM459.4 167.6h0.8v0.8h-0.8zM440.4 160.8h0.7v0.7h-0.7zM448.0 160.5h0.8v0.8h-0.8zM452.5 161.3h0.8v0.8h-0.8zM454.2 177.6h1.0v1.0h-1.0zM459.9 169.6h0.9v0.9h-0.9zM459.6 170.9h1.0v1.0h-1.0zM459.2 164.1h0.9v0.9h-0.9zM444.0 161.0h0.8v0.8h-0.8zM447.6 183.3h0.8v0.8h-0.8zM440.1 163.3h0.9v0.9h-0.9zM435.2 162.4h0.9v0.9h-0.9zM461.0 168.6h0.7v0.7h-0.7zM452.0 161.5h1.0v1.0h-1.0zM446.8 160.3h0.7v0.7h-0.7zM454.9 160.6h0.8v0.8h-0.8zM449.2 157.2h1.0v1.0h-1.0zM447.5 160.8h0.8v0.8h-0.8zM436.7 168.4h0.8v0.8h-0.8zM440.0 161.2h0.8v0.8h-0.8zM455.4 163.2h0.9v0.9h-0.9zM459.2 164.6h1.0v1.0h-1.0zM464.4 166.1h0.7v0.7h-0.7zM458.2 168.1h0.7v0.7h-0.7zM435.0 165.8h0.8v0.8h-0.8zM462.7 166.3h1.0v1.0h-1.0zM454.0 162.6h0.8v0.8h-0.8zM441.0 161.0h0.7v0.7h-0.7zM460.4 171.1h0.7v0.7h-0.7zM444.3 159.3h0.8v0.8h-0.8zM458.0 157.8h0.9v0.9h-0.9zM459.9 171.5h0.7v0.7h-0.7zM455.2 162.9h1.0v1.0h-1.0zM454.2 158.6h1.0v1.0h-1.0zM466.4 173.4h0.9v0.9h-0.9zM455.9 163.6h0.7v0.7h-0.7zM441.9 162.0h0.8v0.8h-0.8zM465.1 172.6h0.7v0.7h-0.7zM442.4 160.7h0.9v0.9h-0.9zM456.4 164.4h0.8v0.8h-0.8zM440.1 160.1h0.7v0.7h-0.7zM435.3 171.1h0.9v0.9h-0.9zM434.9 164.8h0.8v0.8h-0.8zM461.3 166.5h0.7v0.7h-0.7zM457.4 163.3h0.7v0.7h-0.7zM461.4 167.6h1.0v1.0h-1.0zM447.2 159.6h1.0v1.0h-1.0zM455.2 161.3h1.0v1.0h-1.0zM435.4 172.0h0.8v0.8h-0.8zM446.6 157.7h0.8v0.8h-0.8zM452.7 160.5h0.9v0.9h-0.9zM437.4 165.5h0.8v0.8h-0.8zM441.8 161.0h1.0v1.0h-1.0zM435.0 168.3h0.8v0.8h-0.8zM459.0 170.0h1.0v1.0h-1.0zM455.3 161.6h0.7v0.7h-0.7zM438.1 175.8h0.8v0.8h-0.8zM455.6 163.2h0.9v0.9h-0.9zM436.7 173.6h1.0v1.0h-1.0zM464.4 168.5h0.8v0.8h-0.8zM458.4 166.8h0.7v0.7h-0.7zM458.9 168.3h0.8v0.8h-0.8zM448.4 159.8h0.9v0.9h-0.9zM446.5 159.9h1.0v1.0h-1.0zM460.0 166.5h1.0v1.0h-1.0zM458.0 166.3h0.9v0.9h-0.9zM448.5 157.1h1.0v1.0h-1.0zM446.4 158.9h0.9v0.9h-0.9zM442.4 161.5h1.0v1.0h-1.0zM449.3 159.0h0.8v0.8h-0.8zM440.0 159.7h0.8v0.8h-0.8zM459.0 163.5h0.7v0.7h-0.7zM454.9 162.9h0.7v0.7h-0.7zM458.8 169.1h0.7v0.7h-0.7zM455.1 162.7h0.8v0.8h-0.8zM449.2 159.3h0.8v0.8h-0.8zM457.0 174.8h0.8v0.8h-0.8zM459.0 171.2h0.9v0.9h-0.9zM458.3 166.1h1.0v1.0h-1.0zM458.3 161.8h0.9v0.9h-0.9zM436.6 169.3h0.8v0.8h-0.8zM462.3 165.3h0.8v0.8h-0.8zM457.8 165.5h0.7v0.7h-0.7zM444.4 160.1h0.7v0.7h-0.7zM458.0 177.7h1.0v1.0h-1.0zM441.0 162.5h0.9v0.9h-0.9zM435.9 169.9h1.0v1.0h-1.0zM461.3 166.9h0.9v0.9h-0.9zM460.8 170.3h1.0v1.0h-1.0zM441.5 158.8h0.8v0.8h-0.8zM451.7 178.8h0.7v0.7h-0.7zM461.2 162.2h0.7v0.7h-0.7zM438.7 159.7h0.9v0.9h-0.9zM458.2 162.6h0.8v0.8h-0.8zM442.3 157.6h0.7v0.7h-0.7zM439.4 159.5h1.0v1.0h-1.0zM449.7 160.6h0.9v0.9h-0.9zM466.4 170.6h1.0v1.0h-1.0zM443.8 161.2h0.8v0.8h-0.8zM457.5 165.6h0.9v0.9h-0.9zM446.2 160.3h0.8v0.8h-0.8zM447.1 160.7h0.9v0.9h-0.9zM453.0 153.4h0.7v0.7h-0.7zM454.5 161.3h0.7v0.7h-0.7zM459.6 160.1h1.0v1.0h-1.0zM446.2 158.4h0.9v0.9h-0.9zM459.2 171.7h0.8v0.8h-0.8zM446.3 160.2h0.7v0.7h-0.7zM446.3 180.4h0.8v0.8h-0.8zM460.8 162.1h1.0v1.0h-1.0zM426.3 171.3h1.0v1.0h-1.0zM458.8 169.4h0.9v0.9h-0.9zM446.1 185.0h0.8v0.8h-0.8zM436.7 174.8h0.9v0.9h-0.9zM446.2 160.7h1.0v1.0h-1.0zM457.4 164.9h1.0v1.0h-1.0zM433.8 164.3h0.9v0.9h-0.9zM462.7 171.2h0.8v0.8h-0.8zM454.6 186.6h0.8v0.8h-0.8zM455.0 160.9h0.9v0.9h-0.9zM459.6 170.4h1.0v1.0h-1.0zM451.3 160.4h0.7v0.7h-0.7zM444.9 158.5h0.8v0.8h-0.8zM439.9 161.9h0.7v0.7h-0.7zM460.9 172.5h0.7v0.7h-0.7zM462.7 162.2h1.0v1.0h-1.0zM451.0 159.5h0.8v0.8h-0.8zM443.2 160.2h1.0v1.0h-1.0zM449.2 159.0h0.9v0.9h-0.9zM435.0 171.2h0.7v0.7h-0.7zM440.9 157.9h0.9v0.9h-0.9zM455.6 178.2h0.7v0.7h-0.7zM436.5 167.4h0.9v0.9h-0.9zM459.6 171.5h0.8v0.8h-0.8zM435.7 167.8h0.7v0.7h-0.7zM434.2 185.7h1.0v1.0h-1.0zM459.6 170.3h0.9v0.9h-0.9zM442.1 178.7h0.7v0.7h-0.7zM439.3 160.2h0.8v0.8h-0.8zM438.7 161.0h1.0v1.0h-1.0zM455.2 163.2h0.9v0.9h-0.9zM450.5 161.1h1.0v1.0h-1.0zM439.6 158.4h0.8v0.8h-0.8zM449.9 154.1h0.8v0.8h-0.8zM446.7 160.4h0.8v0.8h-0.8zM457.6 158.6h0.9v0.9h-0.9zM457.7 177.8h0.9v0.9h-0.9zM463.7 172.8h0.7v0.7h-0.7zM458.4 170.5h0.7v0.7h-0.7zM456.9 180.1h1.0v1.0h-1.0zM464.2 170.8h0.8v0.8h-0.8zM456.7 175.9h0.7v0.7h-0.7zM459.4 166.8h0.7v0.7h-0.7zM464.6 163.4h1.0v1.0h-1.0zM460.8 178.0h1.0v1.0h-1.0zM458.3 170.3h0.8v0.8h-0.8zM459.1 169.1h1.0v1.0h-1.0zM459.9 178.1h1.0v1.0h-1.0zM462.1 174.3h0.7v0.7h-0.7zM457.3 172.6h0.8v0.8h-0.8zM466.9 175.6h1.0v1.0h-1.0zM461.7 170.2h0.8v0.8h-0.8zM458.5 171.9h0.8v0.8h-0.8zM462.8 172.5h1.0v1.0h-1.0zM459.2 172.8h0.9v0.9h-0.9zM468.9 163.5h0.9v0.9h-0.9zM462.2 171.8h0.7v0.7h-0.7zM465.3 176.5h0.8v0.8h-0.8zM456.9 171.5h0.7v0.7h-0.7zM457.9 172.1h0.7v0.7h-0.7zM464.8 170.4h0.7v0.7h-0.7zM460.7 168.5h0.8v0.8h-0.8zM462.7 173.3h0.9v0.9h-0.9zM458.4 172.8h1.0v1.0h-1.0zM463.9 167.5h0.8v0.8h-0.8zM461.5 166.6h0.7v0.7h-0.7zM460.8 174.7h0.7v0.7h-0.7zM465.1 171.7h0.7v0.7h-0.7zM458.9 157.4h0.7v0.7h-0.7zM467.5 179.1h0.8v0.8h-0.8zM459.2 171.6h0.7v0.7h-0.7zM458.1 167.2h0.8v0.8h-0.8zM456.7 171.0h0.8v0.8h-0.8zM463.6 166.5h1.0v1.0h-1.0zM457.1 171.8h0.9v0.9h-0.9zM461.2 166.6h1.0v1.0h-1.0z"/>
<path fill="#000" fill-opacity="0.45" d="M435.3 168.7h0.8v0.8h-0.8zM457.3 174.0h0.7v0.7h-0.7zM455.1 157.8h0.9v0.9h-0.9zM458.7 171.6h0.7v0.7h-0.7zM459.9 167.3h0.8v0.8h-0.8zM459.5 160.0h1.0v1.0h-1.0zM445.2 160.3h1.0v1.0h-1.0zM435.5 172.2h0.7v0.7h-0.7zM458.7 171.5h0.9v0.9h-0.9zM447.0 179.5h0.7v0.7h-0.7zM453.6 160.5h1.0v1.0h-1.0zM456.0 158.6h1.0v1.0h-1.0zM456.1 162.4h0.8v0.8h-0.8zM457.0 158.7h1.0v1.0h-1.0zM459.1 170.5h1.0v1.0h-1.0zM458.9 176.2h0.9v0.9h-0.9zM460.1 162.3h1.0v1.0h-1.0zM440.7 160.7h0.8v0.8h-0.8zM449.3 158.9h1.0v1.0h-1.0zM452.1 179.3h1.0v1.0h-1.0zM440.4 161.7h0.9v0.9h-0.9zM435.9 170.9h0.8v0.8h-0.8zM445.2 158.0h1.0v1.0h-1.0zM441.9 158.4h0.8v0.8h-0.8zM459.0 168.3h0.8v0.8h-0.8zM430.1 162.8h0.9v0.9h-0.9zM458.8 181.1h0.9v0.9h-0.9zM447.6 158.9h0.8v0.8h-0.8zM449.5 157.9h0.7v0.7h-0.7zM439.2 163.4h0.8v0.8h-0.8zM463.4 171.9h1.0v1.0h-1.0zM435.1 170.1h0.7v0.7h-0.7zM447.9 160.3h0.7v0.7h-0.7zM450.9 152.3h1.0v1.0h-1.0zM436.7 161.5h1.0v1.0h-1.0zM446.6 160.1h1.0v1.0h-1.0zM461.8 172.7h0.9v0.9h-0.9zM442.9 161.6h0.9v0.9h-0.9zM444.6 159.7h0.8v0.8h-0.8zM460.4 170.9h1.0v1.0h-1.0zM432.9 164.3h0.9v0.9h-0.9zM458.2 160.3h0.9v0.9h-0.9zM463.2 161.9h0.8v0.8h-0.8zM439.3 163.6h0.9v0.9h-0.9zM458.7 166.0h0.7v0.7h-0.7zM440.0 158.7h0.9v0.9h-0.9zM439.9 179.9h0.9v0.9h-0.9zM436.4 169.6h1.0v1.0h-1.0zM448.0 160.6h0.7v0.7h-0.7zM440.5 162.7h0.8v0.8h-0.8zM449.1 160.6h0.8v0.8h-0.8zM458.2 166.7h0.8v0.8h-0.8zM460.3 162.1h1.0v1.0h-1.0zM434.5 166.3h1.0v1.0h-1.0zM448.6 160.0h0.8v0.8h-0.8zM460.5 168.9h1.0v1.0h-1.0zM462.3 160.6h0.7v0.7h-0.7zM460.4 176.7h0.9v0.9h-0.9zM436.5 171.8h0.7v0.7h-0.7zM440.7 160.4h0.7v0.7h-0.7zM466.7 166.0h0.9v0.9h-0.9zM441.3 160.1h0.7v0.7h-0.7zM452.6 161.7h0.8v0.8h-0.8zM448.3 158.4h0.7v0.7h-0.7zM452.6 159.4h0.9v0.9h-0.9zM457.4 163.4h0.9v0.9h-0.9zM436.1 170.2h0.8v0.8h-0.8zM442.1 153.3h0.7v0.7h-0.7zM443.4 160.1h0.8v0.8h-0.8zM434.8 166.2h0.8v0.8h-0.8zM454.1 161.2h0.8v0.8h-0.8zM454.6 162.8h0.7v0.7h-0.7zM459.5 170.6h1.0v1.0h-1.0zM442.9 156.3h0.7v0.7h-0.7zM450.2 182.1h1.0v1.0h-1.0zM439.1 159.2h0.9v0.9h-0.9zM458.0 164.9h0.9v0.9h-0.9zM440.0 183.2h0.7v0.7h-0.7zM458.2 171.3h0.8v0.8h-0.8zM435.7 165.7h0.7v0.7h-0.7zM458.9 166.4h0.7v0.7h-0.7zM435.9 168.2h0.7v0.7h-0.7zM458.9 165.4h0.7v0.7h-0.7zM448.3 154.2h1.0v1.0h-1.0zM436.0 172.0h0.9v0.9h-0.9zM436.8 172.0h0.9v0.9h-0.9zM459.5 177.2h1.0v1.0h-1.0zM434.0 163.7h1.0v1.0h-1.0zM458.1 154.2h1.0v1.0h-1.0zM460.1 172.6h0.8v0.8h-0.8zM435.5 160.5h0.7v0.7h-0.7zM450.4 160.4h0.8v0.8h-0.8zM464.7 172.1h0.9v0.9h-0.9zM458.3 162.2h1.0v1.0h-1.0zM456.4 158.3h0.8v0.8h-0.8zM428.2 173.7h1.0v1.0h-1.0zM462.5 178.5h1.0v1.0h-1.0zM439.0 180.2h0.7v0.7h-0.7zM453.2 161.9h1.0v1.0h-1.0zM450.9 161.1h1.0v1.0h-1.0zM436.6 167.1h1.0v1.0h-1.0zM442.3 159.2h0.8v0.8h-0.8zM435.9 168.7h0.7v0.7h-0.7zM449.6 160.9h1.0v1.0h-1.0zM427.4 173.7h0.7v0.7h-0.7zM430.7 173.5h0.8v0.8h-0.8zM442.0 161.5h0.9v0.9h-0.9zM458.6 167.7h0.7v0.7h-0.7zM442.7 160.9h0.7v0.7h-0.7zM443.7 161.4h0.8v0.8h-0.8zM438.6 164.6h0.9v0.9h-0.9zM446.3 159.7h1.0v1.0h-1.0zM450.1 183.6h1.0v1.0h-1.0zM457.8 163.8h0.8v0.8h-0.8zM459.7 169.3h0.9v0.9h-0.9zM446.4 153.7h0.8v0.8h-0.8zM434.9 168.6h0.8v0.8h-0.8zM454.1 160.9h0.9v0.9h-0.9zM449.5 160.4h0.8v0.8h-0.8zM447.4 160.4h0.8v0.8h-0.8zM460.2 169.9h0.9v0.9h-0.9zM456.2 163.7h0.9v0.9h-0.9zM454.7 162.5h0.9v0.9h-0.9zM465.4 166.0h0.7v0.7h-0.7zM459.1 175.3h0.7v0.7h-0.7zM460.6 167.3h0.7v0.7h-0.7zM455.2 163.2h0.7v0.7h-0.7zM446.2 179.4h0.7v0.7h-0.7zM463.5 171.3h0.8v0.8h-0.8zM463.4 172.8h0.7v0.7h-0.7zM459.2 169.0h0.7v0.7h-0.7zM437.6 162.6h0.8v0.8h-0.8zM451.1 160.0h0.7v0.7h-0.7zM441.2 162.0h1.0v1.0h-1.0zM458.6 167.4h0.7v0.7h-0.7zM437.9 165.3h0.9v0.9h-0.9zM440.0 163.3h0.8v0.8h-0.8zM436.4 168.4h0.7v0.7h-0.7zM459.9 175.0h0.8v0.8h-0.8zM440.1 161.8h0.7v0.7h-0.7zM436.9 172.2h0.8v0.8h-0.8zM459.9 163.5h0.7v0.7h-0.7zM463.9 171.0h0.9v0.9h-0.9zM454.5 162.1h0.8v0.8h-0.8zM457.6 174.9h1.0v1.0h-1.0zM460.9 166.5h0.7v0.7h-0.7zM455.8 160.1h0.8v0.8h-0.8zM451.7 159.9h0.8v0.8h-0.8zM443.9 158.8h1.0v1.0h-1.0zM428.7 168.2h0.9v0.9h-0.9zM435.6 169.5h0.7v0.7h-0.7zM465.5 165.3h1.0v1.0h-1.0zM440.2 159.1h0.9v0.9h-0.9zM463.7 166.3h1.0v1.0h-1.0zM442.1 159.9h0.7v0.7h-0.7zM459.9 176.0h0.7v0.7h-0.7zM463.8 162.0h0.7v0.7h-0.7zM437.3 163.1h0.7v0.7h-0.7zM455.5 162.5h0.9v0.9h-0.9zM441.2 179.8h0.8v0.8h-0.8zM457.8 165.3h0.8v0.8h-0.8zM456.0 161.0h0.7v0.7h-0.7zM435.9 164.7h0.7v0.7h-0.7zM449.3 159.4h0.8v0.8h-0.8zM434.8 170.3h0.9v0.9h-0.9zM453.3 159.5h1.0v1.0h-1.0zM446.5 160.0h0.8v0.8h-0.8zM457.9 164.0h1.0v1.0h-1.0zM461.3 169.6h0.8v0.8h-0.8zM460.4 165.2h0.7v0.7h-0.7zM434.9 170.5h0.7v0.7h-0.7zM455.4 163.6h0.9v0.9h-0.9zM457.2 174.1h1.0v1.0h-1.0zM455.4 161.4h0.7v0.7h-0.7zM449.3 150.9h0.9v0.9h-0.9zM445.9 159.8h1.0v1.0h-1.0zM442.8 179.5h0.7v0.7h-0.7zM439.8 159.9h0.8v0.8h-0.8zM453.2 162.0h1.0v1.0h-1.0zM459.0 170.6h0.9v0.9h-0.9zM446.6 157.6h0.9v0.9h-0.9zM435.4 167.3h0.8v0.8h-0.8zM439.5 183.3h0.7v0.7h-0.7zM437.0 166.9h0.9v0.9h-0.9zM434.6 165.5h1.0v1.0h-1.0zM448.4 156.5h1.0v1.0h-1.0zM448.4 159.3h1.0v1.0h-1.0zM454.2 161.3h0.7v0.7h-0.7zM458.3 172.3h0.8v0.8h-0.8zM462.0 167.8h0.9v0.9h-0.9zM456.2 180.0h0.9v0.9h-0.9zM456.1 176.8h0.9v0.9h-0.9zM456.7 179.4h0.9v0.9h-0.9zM452.9 158.6h0.8v0.8h-0.8zM447.4 179.6h0.7v0.7h-0.7zM450.8 180.6h1.0v1.0h-1.0zM446.1 184.0h1.0v1.0h-1.0zM454.0 161.9h0.7v0.7h-0.7zM458.8 170.9h1.0v1.0h-1.0zM432.5 169.5h0.9v0.9h-0.9zM456.5 164.5h0.9v0.9h-0.9zM455.4 162.6h0.8v0.8h-0.8zM449.3 179.2h0.9v0.9h-0.9zM456.5 175.2h0.9v0.9h-0.9zM446.2 156.6h0.7v0.7h-0.7zM436.1 169.2h0.9v0.9h-0.9zM460.2 160.4h1.0v1.0h-1.0zM444.9 157.5h0.9v0.9h-0.9zM460.6 170.8h0.8v0.8h-0.8zM445.2 159.7h0.7v0.7h-0.7zM463.7 163.6h0.9v0.9h-0.9zM435.5 166.8h0.9v0.9h-0.9zM452.4 161.2h0.9v0.9h-0.9zM455.6 160.6h0.8v0.8h-0.8zM450.7 161.0h0.7v0.7h-0.7zM451.2 158.9h1.0v1.0h-1.0zM444.1 160.8h1.0v1.0h-1.0zM431.6 164.8h0.8v0.8h-0.8zM455.2 161.5h0.8v0.8h-0.8zM455.0 162.6h0.7v0.7h-0.7zM458.0 165.8h1.0v1.0h-1.0zM456.3 164.4h1.0v1.0h-1.0zM460.1 167.2h0.7v0.7h-0.7zM450.6 161.0h0.7v0.7h-0.7zM457.9 165.8h0.7v0.7h-0.7zM437.0 166.4h0.9v0.9h-0.9zM438.1 164.0h0.8v0.8h-0.8zM446.7 181.8h0.7v0.7h-0.7zM433.3 172.3h0.8v0.8h-0.8zM460.1 170.4h1.0v1.0h-1.0zM456.1 162.3h0.9v0.9h-0.9zM453.7 162.2h0.9v0.9h-0.9zM436.7 173.2h1.0v1.0h-1.0zM436.3 169.5h0.7v0.7h-0.7zM438.1 159.2h1.0v1.0h-1.0zM443.9 161.2h0.7v0.7h-0.7zM459.0 169.9h1.0v1.0h-1.0zM458.6 168.9h1.0v1.0h-1.0zM434.5 167.7h0.7v0.7h-0.7zM455.9 164.1h1.0v1.0h-1.0zM460.6 168.8h0.9v0.9h-0.9zM444.1 152.3h0.9v0.9h-0.9zM459.0 167.4h1.0v1.0h-1.0zM460.8 169.7h0.8v0.8h-0.8zM455.8 163.2h1.0v1.0h-1.0zM450.7 156.9h0.9v0.9h-0.9zM450.4 179.2h0.9v0.9h-0.9zM435.7 163.1h0.7v0.7h-0.7zM458.1 165.6h0.7v0.7h-0.7zM440.8 161.6h0.7v0.7h-0.7zM452.8 156.7h0.7v0.7h-0.7zM434.2 170.3h1.0v1.0h-1.0zM446.4 160.3h0.7v0.7h-0.7zM465.4 171.1h0.8v0.8h-0.8zM455.2 162.5h0.7v0.7h-0.7zM459.3 171.8h0.9v0.9h-0.9zM449.3 160.4h0.7v0.7h-0.7zM456.4 159.9h0.9v0.9h-0.9zM456.5 163.6h0.9v0.9h-0.9zM458.6 171.5h0.7v0.7h-0.7zM447.5 158.7h1.0v1.0h-1.0zM453.0 161.3h0.7v0.7h-0.7zM459.3 165.4h0.9v0.9h-0.9zM431.9 162.5h1.0v1.0h-1.0zM439.4 162.9h0.8v0.8h-0.8zM462.4 162.8h0.9v0.9h-0.9zM461.7 165.4h0.8v0.8h-0.8zM462.9 171.4h0.7v0.7h-0.7zM435.4 169.3h0.7v0.7h-0.7zM437.9 165.4h1.0v1.0h-1.0zM454.4 161.3h0.9v0.9h-0.9zM453.6 156.2h0.7v0.7h-0.7zM450.9 179.1h0.9v0.9h-0.9zM436.6 163.5h0.8v0.8h-0.8zM440.8 161.5h0.8v0.8h-0.8zM435.4 171.7h0.9v0.9h-0.9zM455.1 161.6h0.8v0.8h-0.8zM444.3 160.1h0.8v0.8h-0.8zM448.5 160.7h0.7v0.7h-0.7zM433.3 167.4h0.7v0.7h-0.7zM445.4 180.0h0.9v0.9h-0.9zM434.0 172.8h0.7v0.7h-0.7zM455.8 162.5h0.9v0.9h-0.9zM458.9 169.8h0.7v0.7h-0.7zM460.0 164.5h0.9v0.9h-0.9zM440.0 162.5h1.0v1.0h-1.0zM448.4 157.5h0.7v0.7h-0.7zM460.0 165.1h0.9v0.9h-0.9zM456.3 175.9h1.0v1.0h-1.0zM455.6 162.9h1.0v1.0h-1.0zM452.4 178.4h0.7v0.7h-0.7zM459.0 164.1h0.8v0.8h-0.8zM457.3 165.1h0.7v0.7h-0.7zM436.1 165.9h0.9v0.9h-0.9zM454.3 162.1h0.8v0.8h-0.8zM452.5 161.6h0.9v0.9h-0.9zM447.1 155.2h0.9v0.9h-0.9zM460.5 171.8h1.0v1.0h-1.0zM435.9 171.9h1.0v1.0h-1.0zM439.7 163.3h0.7v0.7h-0.7zM448.2 160.4h0.8v0.8h-0.8zM437.7 156.3h1.0v1.0h-1.0zM453.5 161.6h0.7v0.7h-0.7zM450.2 160.7h0.8v0.8h-0.8zM439.5 161.6h0.9v0.9h-0.9zM445.7 160.1h0.9v0.9h-0.9zM456.7 162.6h1.0v1.0h-1.0zM457.2 164.3h1.0v1.0h-1.0zM439.7 156.4h1.0v1.0h-1.0zM435.1 170.1h0.8v0.8h-0.8zM449.4 160.6h1.0v1.0h-1.0zM470.7 176.2h0.8v0.8h-0.8zM464.4 173.8h1.0v1.0h-1.0zM457.9 174.5h1.0v1.0h-1.0zM457.6 176.9h0.9v0.9h-0.9zM456.9 165.6h0.7v0.7h-0.7zM461.1 169.6h1.0v1.0h-1.0zM462.4 172.3h1.0v1.0h-1.0zM462.1 168.2h0.8v0.8h-0.8zM459.3 172.9h0.7v0.7h-0.7zM461.8 174.7h0.9v0.9h-0.9zM461.7 160.8h0.9v0.9h-0.9zM457.3 166.1h0.8v0.8h-0.8zM466.6 170.3h0.8v0.8h-0.8zM459.6 172.0h0.9v0.9h-0.9zM462.8 167.9h1.0v1.0h-1.0zM457.8 178.0h1.0v1.0h-1.0zM473.1 172.4h0.8v0.8h-0.8zM457.5 165.3h0.7v0.7h-0.7zM459.9 173.6h0.8v0.8h-0.8zM456.5 181.3h1.0v1.0h-1.0zM458.3 167.6h0.8v0.8h-0.8zM460.2 179.7h0.8v0.8h-0.8zM461.3 173.3h0.8v0.8h-0.8zM457.7 173.5h0.8v0.8h-0.8zM464.7 166.9h0.8v0.8h-0.8zM458.8 176.8h0.9v0.9h-0.9zM467.4 170.2h0.8v0.8h-0.8zM458.2 170.4h0.7v0.7h-0.7zM457.0 176.0h0.7v0.7h-0.7zM459.1 168.2h0.9v0.9h-0.9zM457.4 171.5h0.7v0.7h-0.7zM460.5 172.6h0.7v0.7h-0.7zM462.5 170.1h1.0v1.0h-1.0zM456.7 173.9h1.0v1.0h-1.0zM460.2 169.8h0.8v0.8h-0.8zM457.3 166.8h1.0v1.0h-1.0zM458.5 175.7h0.9v0.9h-0.9z"/>
<path fill="#000" fill-opacity="0.6" d="M458.1 167.6h0.9v0.9h-0.9zM460.9 169.6h0.9v0.9h-0.9zM454.1 158.8h0.7v0.7h-0.7zM439.3 163.0h1.0v1.0h-1.0zM460.0 167.1h1.0v1.0h-1.0zM441.7 158.1h0.8v0.8h-0.8zM461.0 167.4h0.7v0.7h-0.7zM458.8 171.6h1.0v1.0h-1.0zM445.2 158.7h0.7v0.7h-0.7zM444.5 160.5h0.8v0.8h-0.8zM461.3 168.1h0.7v0.7h-0.7zM436.9 172.1h0.7v0.7h-0.7zM437.0 159.3h0.7v0.7h-0.7zM457.9 167.3h0.7v0.7h-0.7zM457.3 174.8h0.7v0.7h-0.7zM458.9 161.4h0.8v0.8h-0.8zM448.5 159.4h0.9v0.9h-0.9zM458.9 170.2h0.7v0.7h-0.7zM454.2 159.7h0.7v0.7h-0.7zM436.8 165.4h1.0v1.0h-1.0zM450.9 159.5h1.0v1.0h-1.0zM440.8 159.2h0.9v0.9h-0.9zM453.0 159.7h0.8v0.8h-0.8zM468.7 166.3h1.0v1.0h-1.0zM431.7 168.5h0.7v0.7h-0.7zM458.9 173.0h0.7v0.7h-0.7zM457.8 165.1h0.8v0.8h-0.8zM445.5 159.9h0.9v0.9h-0.9zM459.1 163.4h0.9v0.9h-0.9zM449.7 160.3h0.9v0.9h-0.9zM462.3 172.0h0.8v0.8h-0.8zM438.9 162.3h0.9v0.9h-0.9zM437.3 162.6h0.8v0.8h-0.8zM448.4 160.7h0.9v0.9h-0.9zM454.0 162.5h0.9v0.9h-0.9zM438.4 159.2h1.0v1.0h-1.0zM430.5 164.6h0.8v0.8h-0.8zM444.0 159.8h1.0v1.0h-1.0zM446.6 160.0h1.0v1.0h-1.0zM459.2 171.3h0.7v0.7h-0.7zM435.3 172.0h0.9v0.9h-0.9zM448.0 160.0h0.7v0.7h-0.7zM456.6 163.7h0.8v0.8h-0.8zM459.9 168.8h0.9v0.9h-0.9zM447.3 179.2h0.8v0.8h-0.8zM443.9 160.5h0.7v0.7h-0.7zM459.6 167.5h0.9v0.9h-0.9zM458.6 167.9h0.8v0.8h-0.8zM456.8 164.6h0.7v0.7h-0.7zM460.8 171.9h0.8v0.8h-0.8zM444.3 181.2h0.9v0.9h-0.9zM462.0 172.4h0.7v0.7h-0.7zM461.4 171.0h0.8v0.8h-0.8zM461.5 168.5h0.9v0.9h-0.9zM441.7 161.8h0.7v0.7h-0.7zM452.8 156.9h0.8v0.8h-0.8zM447.8 160.5h0.8v0.8h-0.8zM459.2 171.6h0.8v0.8h-0.8zM458.9 168.7h0.9v0.9h-0.9zM442.9 156.9h0.9v0.9h-0.9zM456.0 162.8h1.0v1.0h-1.0zM443.7 159.0h0.7v0.7h-0.7zM447.2 159.1h0.9v0.9h-0.9zM461.6 168.4h1.0v1.0h-1.0zM433.4 167.9h1.0v1.0h-1.0zM436.8 164.8h1.0v1.0h-1.0zM443.2 160.2h0.8v0.8h-0.8zM440.0 162.2h0.9v0.9h-0.9zM452.9 162.0h0.9v0.9h-0.9zM433.5 170.6h0.8v0.8h-0.8zM436.5 170.5h0.9v0.9h-0.9zM451.2 178.7h0.9v0.9h-0.9zM450.4 160.4h1.0v1.0h-1.0zM444.6 160.0h0.9v0.9h-0.9zM453.1 162.0h0.8v0.8h-0.8zM465.4 167.9h1.0v1.0h-1.0zM464.5 171.3h1.0v1.0h-1.0zM439.7 180.9h0.8v0.8h-0.8zM453.4 161.3h0.7v0.7h-0.7zM453.0 179.2h0.9v0.9h-0.9zM455.6 163.8h1.0v1.0h-1.0zM441.0 161.6h0.9v0.9h-0.9zM458.9 158.2h1.0v1.0h-1.0zM432.5 163.4h0.8v0.8h-0.8zM454.3 159.0h1.0v1.0h-1.0zM447.2 160.2h1.0v1.0h-1.0zM455.4 163.4h0.9v0.9h-0.9zM450.0 160.3h0.7v0.7h-0.7zM459.3 167.8h0.8v0.8h-0.8zM461.5 161.4h0.9v0.9h-0.9zM446.4 160.7h1.0v1.0h-1.0zM446.5 158.6h0.7v0.7h-0.7zM453.6 162.3h0.9v0.9h-0.9zM428.9 166.5h1.0v1.0h-1.0zM451.1 160.5h0.8v0.8h-0.8zM457.6 161.9h0.9v0.9h-0.9zM444.6 159.3h0.8v0.8h-0.8zM435.2 161.8h0.8v0.8h-0.8zM443.0 182.8h0.8v0.8h-0.8zM458.9 161.1h1.0v1.0h-1.0zM445.0 160.5h1.0v1.0h-1.0zM437.8 162.6h0.8v0.8h-0.8zM447.6 180.1h1.0v1.0h-1.0zM452.4 161.5h0.9v0.9h-0.9zM450.2 160.1h0.7v0.7h-0.7zM452.1 159.9h1.0v1.0h-1.0zM435.6 167.5h0.7v0.7h-0.7zM449.3 160.6h0.9v0.9h-0.9zM445.7 156.9h0.8v0.8h-0.8zM458.7 165.4h1.0v1.0h-1.0zM436.1 170.3h1.0v1.0h-1.0zM459.4 169.2h0.9v0.9h-0.9zM448.3 160.7h1.0v1.0h-1.0zM460.4 168.4h0.8v0.8h-0.8zM453.2 161.2h0.7v0.7h-0.7zM438.0 165.2h0.9v0.9h-0.9zM457.4 164.2h0.7v0.7h-0.7zM441.6 160.1h0.8v0.8h-0.8zM434.4 168.1h0.7v0.7h-0.7zM459.7 167.0h0.8v0.8h-0.8zM457.8 166.1h1.0v1.0h-1.0zM431.1 170.1h0.8v0.8h-0.8zM431.3 164.6h0.9v0.9h-0.9zM446.5 158.5h1.0v1.0h-1.0zM433.9 172.7h0.8v0.8h-0.8zM455.8 163.0h1.0v1.0h-1.0zM441.4 181.6h0.7v0.7h-0.7zM457.5 162.3h0.9v0.9h-0.9zM451.1 160.1h0.9v0.9h-0.9zM441.8 161.1h1.0v1.0h-1.0zM458.5 168.4h1.0v1.0h-1.0zM454.6 161.4h0.9v0.9h-0.9zM457.8 165.4h1.0v1.0h-1.0zM436.7 165.2h0.7v0.7h-0.7zM436.7 163.8h0.8v0.8h-0.8zM442.3 179.4h0.9v0.9h-0.9zM433.6 171.0h0.8v0.8h-0.8zM454.2 162.8h0.7v0.7h-0.7zM440.3 160.8h0.9v0.9h-0.9zM445.5 160.5h1.0v1.0h-1.0zM445.0 160.3h0.8v0.8h-0.8zM449.8 158.5h0.8v0.8h-0.8zM451.1 159.8h0.7v0.7h-0.7zM458.5 169.0h1.0v1.0h-1.0zM459.5 166.4h1.0v1.0h-1.0zM464.0 173.1h1.0v1.0h-1.0zM459.1 166.5h0.8v0.8h-0.8zM458.6 163.4h0.9v0.9h-0.9zM454.8 159.2h0.7v0.7h-0.7zM459.5 179.5h0.9v0.9h-0.9zM465.0 159.9h0.7v0.7h-0.7zM443.2 157.4h1.0v1.0h-1.0zM462.1 159.0h0.7v0.7h-0.7zM459.7 166.1h0.8v0.8h-0.8zM458.6 165.7h0.9v0.9h-0.9zM439.8 160.9h0.7v0.7h-0.7zM458.2 167.8h1.0v1.0h-1.0zM456.8 164.4h0.8v0.8h-0.8zM451.2 182.2h0.9v0.9h-0.9zM459.1 171.7h0.8v0.8h-0.8zM448.7 158.6h1.0v1.0h-1.0zM457.2 176.5h0.9v0.9h-0.9zM453.0 160.5h0.8v0.8h-0.8zM447.8 159.7h0.8v0.8h-0.8zM462.8 169.8h1.0v1.0h-1.0zM461.1 170.4h1.0v1.0h-1.0zM436.1 166.0h0.8v0.8h-0.8zM437.1 164.7h0.8v0.8h-0.8zM461.4 166.1h0.8v0.8h-0.8zM461.3 168.1h1.0v1.0h-1.0zM458.4 171.1h0.8v0.8h-0.8zM444.7 161.0h1.0v1.0h-1.0zM438.4 164.9h0.8v0.8h-0.8zM459.0 167.9h0.7v0.7h-0.7zM452.8 158.7h0.8v0.8h-0.8zM456.6 180.2h0.7v0.7h-0.7zM451.0 158.9h1.0v1.0h-1.0zM441.5 160.8h0.9v0.9h-0.9zM459.5 167.2h0.9v0.9h-0.9zM450.6 180.1h0.8v0.8h-0.8zM435.0 171.2h0.8v0.8h-0.8zM447.7 158.4h0.7v0.7h-0.7zM458.4 168.7h1.0v1.0h-1.0zM452.2 159.2h0.9v0.9h-0.9zM458.6 168.5h0.8v0.8h-0.8zM459.1 169.4h0.7v0.7h-0.7zM441.1 158.3h0.9v0.9h-0.9zM454.6 162.5h0.8v0.8h-0.8zM444.8 160.1h0.9v0.9h-0.9zM452.9 160.1h0.9v0.9h-0.9zM462.2 171.3h0.7v0.7h-0.7zM458.2 167.8h1.0v1.0h-1.0zM451.9 158.3h0.9v0.9h-0.9zM443.1 159.8h1.0v1.0h-1.0zM449.3 179.1h0.8v0.8h-0.8zM446.4 160.0h0.8v0.8h-0.8zM437.8 164.9h0.8v0.8h-0.8zM440.3 163.1h0.7v0.7h-0.7zM459.9 171.8h0.9v0.9h-0.9zM464.0 164.3h0.8v0.8h-0.8zM453.7 162.1h0.9v0.9h-0.9zM454.3 161.9h0.9v0.9h-0.9zM458.6 171.1h1.0v1.0h-1.0zM461.0 170.3h0.8v0.8h-0.8zM460.2 169.4h0.7v0.7h-0.7zM457.1 175.4h0.9v0.9h-0.9zM436.8 158.9h1.0v1.0h-1.0zM459.9 170.9h0.9v0.9h-0.9zM458.7 171.2h0.7v0.7h-0.7zM452.2 159.5h0.7v0.7h-0.7zM456.5 161.8h0.9v0.9h-0.9zM453.4 159.7h1.0v1.0h-1.0zM442.4 161.8h0.7v0.7h-0.7zM446.0 181.6h0.9v0.9h-0.9zM438.0 165.5h0.7v0.7h-0.7zM450.0 161.0h1.0v1.0h-1.0zM448.4 158.1h0.7v0.7h-0.7zM459.3 172.2h0.9v0.9h-0.9zM458.8 171.7h1.0v1.0h-1.0zM444.8 160.4h0.7v0.7h-0.7zM442.6 179.7h0.7v0.7h-0.7zM450.8 160.5h0.9v0.9h-0.9zM445.4 160.8h0.7v0.7h-0.7zM457.6 160.9h0.7v0.7h-0.7zM444.2 159.8h1.0v1.0h-1.0zM435.7 169.4h0.8v0.8h-0.8zM432.7 171.6h0.8v0.8h-0.8zM448.7 160.6h0.8v0.8h-0.8zM456.2 161.4h0.9v0.9h-0.9zM456.7 161.8h0.9v0.9h-0.9zM450.8 161.1h0.8v0.8h-0.8zM441.0 160.0h1.0v1.0h-1.0zM460.0 167.8h0.8v0.8h-0.8zM458.1 164.6h1.0v1.0h-1.0zM458.4 167.7h0.9v0.9h-0.9zM458.1 167.0h0.7v0.7h-0.7zM463.5 171.5h0.9v0.9h-0.9zM454.8 162.9h0.9v0.9h-0.9zM461.6 168.3h1.0v1.0h-1.0zM446.4 159.7h0.8v0.8h-0.8zM463.1 169.1h0.8v0.8h-0.8zM440.6 161.3h1.0v1.0h-1.0zM459.6 166.9h0.7v0.7h-0.7zM439.1 163.5h1.0v1.0h-1.0zM448.1 158.1h0.7v0.7h-0.7zM462.8 164.6h1.0v1.0h-1.0zM461.6 161.2h0.9v0.9h-0.9zM442.1 161.3h0.7v0.7h-0.7zM444.1 178.9h1.0v1.0h-1.0zM437.4 165.5h0.7v0.7h-0.7zM443.4 161.5h1.0v1.0h-1.0zM460.0 171.0h1.0v1.0h-1.0zM440.0 160.3h1.0v1.0h-1.0zM460.5 166.8h0.8v0.8h-0.8zM448.1 159.1h0.7v0.7h-0.7zM438.8 162.1h1.0v1.0h-1.0zM452.2 160.8h1.0v1.0h-1.0zM447.5 159.9h0.8v0.8h-0.8zM439.4 159.5h0.7v0.7h-0.7zM437.3 165.6h0.7v0.7h-0.7zM458.8 169.0h1.0v1.0h-1.0zM456.4 158.7h1.0v1.0h-1.0zM444.2 160.4h0.7v0.7h-0.7zM432.0 166.6h0.7v0.7h-0.7zM449.4 186.7h0.8v0.8h-0.8zM468.8 174.1h0.9v0.9h-0.9zM461.2 168.7h1.0v1.0h-1.0zM452.7 160.1h1.0v1.0h-1.0zM441.6 160.4h0.8v0.8h-0.8zM452.7 161.8h0.9v0.9h-0.9zM449.0 160.8h1.0v1.0h-1.0zM447.1 160.5h0.7v0.7h-0.7zM454.3 160.6h0.7v0.7h-0.7zM468.9 170.3h1.0v1.0h-1.0zM458.2 168.9h0.9v0.9h-0.9zM457.0 171.3h0.9v0.9h-0.9zM465.2 181.8h0.9v0.9h-0.9zM457.8 172.2h1.0v1.0h-1.0zM462.6 166.7h0.9v0.9h-0.9zM462.8 161.8h0.7v0.7h-0.7zM460.9 167.8h1.0v1.0h-1.0zM461.3 170.4h0.9v0.9h-0.9zM462.2 179.7h0.8v0.8h-0.8zM466.7 166.3h1.0v1.0h-1.0zM456.6 162.1h0.8v0.8h-0.8zM460.0 183.2h0.7v0.7h-0.7zM464.8 172.2h1.0v1.0h-1.0zM456.8 159.5h1.0v1.0h-1.0zM462.5 175.6h0.9v0.9h-0.9zM456.4 167.7h0.8v0.8h-0.8zM465.1 165.6h1.0v1.0h-1.0zM456.6 168.4h0.8v0.8h-0.8zM458.7 179.6h0.7v0.7h-0.7zM458.1 166.5h1.0v1.0h-1.0zM457.8 165.5h0.8v0.8h-0.8zM460.3 170.5h0.7v0.7h-0.7zM460.3 168.0h0.7v0.7h-0.7zM459.0 172.4h1.0v1.0h-1.0zM457.4 175.8h0.8v0.8h-0.8zM460.5 175.3h1.0v1.0h-1.0zM466.1 165.1h0.7v0.7h-0.7zM466.5 175.6h1.0v1.0h-1.0zM462.3 173.6h0.7v0.7h-0.7zM458.4 176.3h0.7v0.7h-0.7zM460.8 172.9h0.7v0.7h-0.7zM460.2 180.9h0.8v0.8h-0.8zM462.1 179.6h0.8v0.8h-0.8zM464.5 175.5h0.7v0.7h-0.7zM457.3 160.7h0.9v0.9h-0.9zM464.9 182.8h0.8v0.8h-0.8zM456.4 170.8h0.7v0.7h-0.7z"/>
<ellipse cx="462.1" cy="176.4" rx="5.10" ry="2.89" fill="#1a1a1a" filter="url(#hz1)"/>
<path fill="#000" fill-opacity="0.4" d="M465.4 177.6h.9v.9h-.9zM461.3 175.9h.9v.9h-.9zM467.1 176.9h.9v.9h-.9zM465.9 174.9h.9v.9h-.9zM463.2 175.3h.9v.9h-.9zM467.6 177.3h.9v.9h-.9zM458.5 176.8h.9v.9h-.9zM464.6 175.0h.9v.9h-.9zM458.9 177.6h.9v.9h-.9zM463.5 176.0h.9v.9h-.9zM467.4 174.7h.9v.9h-.9zM460.6 176.8h.9v.9h-.9zM459.6 175.1h.9v.9h-.9zM463.1 175.5h.9v.9h-.9zM461.0 176.3h.9v.9h-.9zM463.5 178.5h.9v.9h-.9zM466.2 177.5h.9v.9h-.9zM462.7 176.1h.9v.9h-.9zM460.9 176.0h.9v.9h-.9zM467.3 176.4h.9v.9h-.9zM468.3 175.7h.9v.9h-.9zM461.9 176.3h.9v.9h-.9zM465.2 177.4h.9v.9h-.9zM471.3 177.9h.9v.9h-.9zM459.7 178.0h.9v.9h-.9zM457.1 175.4h.9v.9h-.9zM457.8 178.1h.9v.9h-.9zM463.5 180.9h.9v.9h-.9zM462.6 180.9h.9v.9h-.9zM458.9 176.6h.9v.9h-.9zM460.9 177.6h.9v.9h-.9zM465.5 178.9h.9v.9h-.9zM464.3 177.3h.9v.9h-.9zM462.9 178.3h.9v.9h-.9zM460.3 177.1h.9v.9h-.9zM470.6 179.3h.9v.9h-.9zM467.6 178.7h.9v.9h-.9zM463.9 174.1h.9v.9h-.9zM457.0 172.7h.9v.9h-.9zM463.8 177.4h.9v.9h-.9zM468.0 176.9h.9v.9h-.9zM468.5 179.0h.9v.9h-.9zM461.5 175.9h.9v.9h-.9zM459.1 174.4h.9v.9h-.9zM458.0 174.7h.9v.9h-.9zM458.9 177.2h.9v.9h-.9zM464.9 174.0h.9v.9h-.9zM463.5 175.8h.9v.9h-.9zM467.5 177.7h.9v.9h-.9zM461.2 175.7h.9v.9h-.9zM455.5 177.0h.9v.9h-.9zM459.9 175.6h.9v.9h-.9zM458.0 180.7h.9v.9h-.9zM461.6 176.8h.9v.9h-.9zM462.0 176.6h.9v.9h-.9zM455.7 176.1h.9v.9h-.9zM459.2 177.0h.9v.9h-.9zM460.9 176.9h.9v.9h-.9zM462.7 176.5h.9v.9h-.9zM471.1 175.0h.9v.9h-.9zM459.8 177.0h.9v.9h-.9zM458.9 175.5h.9v.9h-.9zM458.9 181.9h.9v.9h-.9zM466.1 178.8h.9v.9h-.9zM458.5 173.7h.9v.9h-.9zM463.4 177.6h.9v.9h-.9zM466.1 174.2h.9v.9h-.9zM463.6 176.1h.9v.9h-.9zM462.0 175.1h.9v.9h-.9zM465.9 174.5h.9v.9h-.9zM465.1 173.3h.9v.9h-.9zM463.2 176.9h.9v.9h-.9zM461.4 173.8h.9v.9h-.9zM465.6 179.2h.9v.9h-.9zM461.8 180.8h.9v.9h-.9zM461.5 176.5h.9v.9h-.9zM460.7 177.6h.9v.9h-.9zM459.1 176.6h.9v.9h-.9zM466.6 177.1h.9v.9h-.9zM457.0 175.4h.9v.9h-.9zM462.6 175.4h.9v.9h-.9zM463.5 176.8h.9v.9h-.9zM466.3 181.3h.9v.9h-.9zM467.9 177.2h.9v.9h-.9zM459.7 177.8h.9v.9h-.9zM460.9 178.4h.9v.9h-.9zM458.0 173.8h.9v.9h-.9zM461.5 173.5h.9v.9h-.9zM464.8 174.8h.9v.9h-.9zM466.0 176.8h.9v.9h-.9zM461.4 174.3h.9v.9h-.9zM465.5 177.5h.9v.9h-.9zM456.1 176.6h.9v.9h-.9zM463.2 176.7h.9v.9h-.9zM463.5 175.1h.9v.9h-.9zM457.2 174.6h.9v.9h-.9zM460.1 180.9h.9v.9h-.9zM459.2 176.2h.9v.9h-.9zM463.0 179.2h.9v.9h-.9zM457.8 174.7h.9v.9h-.9zM464.9 176.9h.9v.9h-.9zM461.5 178.7h.9v.9h-.9zM459.4 174.1h.9v.9h-.9zM458.4 173.7h.9v.9h-.9zM459.1 173.3h.9v.9h-.9zM464.5 178.6h.9v.9h-.9zM461.0 177.9h.9v.9h-.9zM459.6 180.0h.9v.9h-.9zM461.1 174.1h.9v.9h-.9zM462.3 175.9h.9v.9h-.9zM471.5 177.8h.8v.8h-.8zM466.8 175.9h.8v.8h-.8zM468.3 172.7h.8v.8h-.8zM469.0 173.7h.8v.8h-.8zM469.7 176.5h.8v.8h-.8zM468.3 173.2h.8v.8h-.8zM476.4 174.8h.8v.8h-.8zM472.7 173.9h.8v.8h-.8zM470.7 175.2h.8v.8h-.8zM468.8 177.7h.8v.8h-.8zM469.6 175.1h.8v.8h-.8zM466.7 181.1h.8v.8h-.8zM466.1 175.4h.8v.8h-.8zM471.8 178.5h.8v.8h-.8zM481.5 176.3h.8v.8h-.8zM467.3 174.9h.8v.8h-.8zM469.4 176.4h.8v.8h-.8zM471.5 179.1h.8v.8h-.8zM470.6 174.1h.8v.8h-.8zM470.5 175.3h.8v.8h-.8zM466.2 178.2h.8v.8h-.8zM469.3 176.5h.8v.8h-.8zM474.0 176.4h.8v.8h-.8zM470.1 177.1h.8v.8h-.8zM471.4 176.7h.8v.8h-.8zM477.9 175.7h.8v.8h-.8zM470.0 173.8h.8v.8h-.8zM478.1 175.1h.8v.8h-.8zM472.6 176.8h.8v.8h-.8zM470.5 176.5h.8v.8h-.8zM472.4 172.6h.8v.8h-.8zM467.2 175.2h.8v.8h-.8zM472.5 177.4h.8v.8h-.8zM469.7 176.8h.8v.8h-.8zM473.2 176.5h.8v.8h-.8zM465.9 172.9h.8v.8h-.8zM474.4 172.8h.8v.8h-.8zM467.4 175.4h.8v.8h-.8zM471.7 175.8h.8v.8h-.8zM465.9 173.4h.8v.8h-.8zM482.3 176.5h.8v.8h-.8zM466.9 171.7h.8v.8h-.8zM468.6 173.2h.8v.8h-.8zM467.7 174.4h.8v.8h-.8zM480.1 175.8h.8v.8h-.8z"/>
<path d="M436.1 171.0 C436.1 162.3 442.4 159.8 448.6 159.8 C456.1 159.8 458.9 164.9 458.9 170.5 C458.9 177.1 454.3 180.2 447.5 180.2 C440.7 180.2 436.1 177.7 436.1 171.0Z" fill="#111"/>
<ellipse cx="448.1" cy="170.0" rx="9.3" ry="8.2" fill="url(#core)"/>
<ellipse cx="448.1" cy="170.0" rx="3.99" ry="3.57" fill="none" stroke="#888" stroke-opacity="0.5" stroke-width="0.35"/>
<ellipse cx="448.1" cy="170.0" rx="6.27" ry="5.61" fill="none" stroke="#888" stroke-opacity="0.5" stroke-width="0.35"/>
<ellipse cx="448.1" cy="170.0" rx="8.55" ry="7.65" fill="none" stroke="#888" stroke-opacity="0.5" stroke-width="0.35"/>
<ellipse cx="448.6" cy="170.7" rx="1.1" ry="0.8" fill="#fff"/>
<rect x="421.20" y="119.90" width="92.50" height="72.60" fill="none" stroke="#111" stroke-width="1.1"/>
<rect x="459.40" y="148.90" width="53.20" height="38.70" fill="none" stroke="#555" stroke-width="0.8"/>
<line x1="419.00" y1="123.17" x2="421.20" y2="123.17" stroke="#111" stroke-width="0.8"/>
<text x="415.90" y="124.47" font-size="5.3" text-anchor="end" textLength="8.7" lengthAdjust="spacingAndGlyphs" style="stroke-width:0.06px">250</text>
<line x1="419.00" y1="137.03" x2="421.20" y2="137.03" stroke="#111" stroke-width="0.8"/>
<text x="415.90" y="138.33" font-size="5.3" text-anchor="end" textLength="8.7" lengthAdjust="spacingAndGlyphs" style="stroke-width:0.06px">200</text>
<line x1="419.00" y1="150.90" x2="421.20" y2="150.90" stroke="#111" stroke-width="0.8"/>
<text x="415.90" y="152.20" font-size="5.3" text-anchor="end" textLength="8.7" lengthAdjust="spacingAndGlyphs" style="stroke-width:0.06px">150</text>
<line x1="419.00" y1="164.77" x2="421.20" y2="164.77" stroke="#111" stroke-width="0.8"/>
<text x="415.90" y="166.07" font-size="5.3" text-anchor="end" textLength="8.7" lengthAdjust="spacingAndGlyphs" style="stroke-width:0.06px">100</text>
<line x1="419.00" y1="178.63" x2="421.20" y2="178.63" stroke="#111" stroke-width="0.8"/>
<text x="415.90" y="179.93" font-size="5.3" text-anchor="end" textLength="5.8" lengthAdjust="spacingAndGlyphs" style="stroke-width:0.06px">50</text>
<line x1="420.00" y1="192.50" x2="421.20" y2="192.50" stroke="#111" stroke-width="0.6"/>
<line x1="420.00" y1="189.73" x2="421.20" y2="189.73" stroke="#111" stroke-width="0.6"/>
<line x1="420.00" y1="186.95" x2="421.20" y2="186.95" stroke="#111" stroke-width="0.6"/>
<line x1="420.00" y1="184.18" x2="421.20" y2="184.18" stroke="#111" stroke-width="0.6"/>
<line x1="420.00" y1="181.41" x2="421.20" y2="181.41" stroke="#111" stroke-width="0.6"/>
<line x1="420.00" y1="178.63" x2="421.20" y2="178.63" stroke="#111" stroke-width="0.6"/>
<line x1="420.00" y1="175.86" x2="421.20" y2="175.86" stroke="#111" stroke-width="0.6"/>
<line x1="420.00" y1="173.09" x2="421.20" y2="173.09" stroke="#111" stroke-width="0.6"/>
<line x1="420.00" y1="170.31" x2="421.20" y2="170.31" stroke="#111" stroke-width="0.6"/>
<line x1="420.00" y1="167.54" x2="421.20" y2="167.54" stroke="#111" stroke-width="0.6"/>
<line x1="420.00" y1="164.77" x2="421.20" y2="164.77" stroke="#111" stroke-width="0.6"/>
<line x1="420.00" y1="161.99" x2="421.20" y2="161.99" stroke="#111" stroke-width="0.6"/>
<line x1="420.00" y1="159.22" x2="421.20" y2="159.22" stroke="#111" stroke-width="0.6"/>
<line x1="420.00" y1="156.45" x2="421.20" y2="156.45" stroke="#111" stroke-width="0.6"/>
<line x1="420.00" y1="153.67" x2="421.20" y2="153.67" stroke="#111" stroke-width="0.6"/>
<line x1="420.00" y1="150.90" x2="421.20" y2="150.90" stroke="#111" stroke-width="0.6"/>
<line x1="420.00" y1="148.13" x2="421.20" y2="148.13" stroke="#111" stroke-width="0.6"/>
<line x1="420.00" y1="145.35" x2="421.20" y2="145.35" stroke="#111" stroke-width="0.6"/>
<line x1="420.00" y1="142.58" x2="421.20" y2="142.58" stroke="#111" stroke-width="0.6"/>
<line x1="420.00" y1="139.81" x2="421.20" y2="139.81" stroke="#111" stroke-width="0.6"/>
<line x1="420.00" y1="137.03" x2="421.20" y2="137.03" stroke="#111" stroke-width="0.6"/>
<line x1="420.00" y1="134.26" x2="421.20" y2="134.26" stroke="#111" stroke-width="0.6"/>
<line x1="420.00" y1="131.49" x2="421.20" y2="131.49" stroke="#111" stroke-width="0.6"/>
<line x1="420.00" y1="128.71" x2="421.20" y2="128.71" stroke="#111" stroke-width="0.6"/>
<line x1="420.00" y1="125.94" x2="421.20" y2="125.94" stroke="#111" stroke-width="0.6"/>
<line x1="420.00" y1="123.17" x2="421.20" y2="123.17" stroke="#111" stroke-width="0.6"/>
<text x="421.20" y="204.00" font-size="5.2" text-anchor="middle" textLength="12.1" lengthAdjust="spacingAndGlyphs" style="stroke-width:0.06px">−185</text>
<text x="432.90" y="204.00" font-size="5.2" text-anchor="middle" style="stroke-width:0.06px">0</text>
<text x="437.20" y="204.00" font-size="5.2" textLength="5" lengthAdjust="spacingAndGlyphs" style="stroke-width:0.06px">10</text>
<text x="442.00" y="201.50" font-size="3.2" style="stroke-width:0.06px">2</text>
<text x="459.40" y="204.00" font-size="5.2" textLength="5" lengthAdjust="spacingAndGlyphs" style="stroke-width:0.06px">10</text>
<text x="464.20" y="201.50" font-size="3.2" style="stroke-width:0.06px">3</text>
<text x="481.40" y="204.00" font-size="5.2" textLength="5" lengthAdjust="spacingAndGlyphs" style="stroke-width:0.06px">10</text>
<text x="486.20" y="201.50" font-size="3.2" style="stroke-width:0.06px">4</text>
<text x="501.40" y="204.00" font-size="5.2" textLength="5" lengthAdjust="spacingAndGlyphs" style="stroke-width:0.06px">10</text>
<text x="506.20" y="201.50" font-size="3.2" style="stroke-width:0.06px">5</text>
<line x1="439.70" y1="192.50" x2="439.70" y2="194.90" stroke="#111" stroke-width="0.8"/>
<line x1="446.02" y1="192.50" x2="446.02" y2="193.80" stroke="#111" stroke-width="0.6"/>
<line x1="449.72" y1="192.50" x2="449.72" y2="193.80" stroke="#111" stroke-width="0.6"/>
<line x1="452.34" y1="192.50" x2="452.34" y2="193.80" stroke="#111" stroke-width="0.6"/>
<line x1="454.38" y1="192.50" x2="454.38" y2="193.80" stroke="#111" stroke-width="0.6"/>
<line x1="456.04" y1="192.50" x2="456.04" y2="193.80" stroke="#111" stroke-width="0.6"/>
<line x1="457.45" y1="192.50" x2="457.45" y2="193.80" stroke="#111" stroke-width="0.6"/>
<line x1="458.66" y1="192.50" x2="458.66" y2="193.80" stroke="#111" stroke-width="0.6"/>
<line x1="459.74" y1="192.50" x2="459.74" y2="193.80" stroke="#111" stroke-width="0.6"/>
<line x1="461.90" y1="192.50" x2="461.90" y2="194.90" stroke="#111" stroke-width="0.8"/>
<line x1="468.22" y1="192.50" x2="468.22" y2="193.80" stroke="#111" stroke-width="0.6"/>
<line x1="471.92" y1="192.50" x2="471.92" y2="193.80" stroke="#111" stroke-width="0.6"/>
<line x1="474.54" y1="192.50" x2="474.54" y2="193.80" stroke="#111" stroke-width="0.6"/>
<line x1="476.58" y1="192.50" x2="476.58" y2="193.80" stroke="#111" stroke-width="0.6"/>
<line x1="478.24" y1="192.50" x2="478.24" y2="193.80" stroke="#111" stroke-width="0.6"/>
<line x1="479.65" y1="192.50" x2="479.65" y2="193.80" stroke="#111" stroke-width="0.6"/>
<line x1="480.86" y1="192.50" x2="480.86" y2="193.80" stroke="#111" stroke-width="0.6"/>
<line x1="481.94" y1="192.50" x2="481.94" y2="193.80" stroke="#111" stroke-width="0.6"/>
<line x1="483.90" y1="192.50" x2="483.90" y2="194.90" stroke="#111" stroke-width="0.8"/>
<line x1="490.22" y1="192.50" x2="490.22" y2="193.80" stroke="#111" stroke-width="0.6"/>
<line x1="493.92" y1="192.50" x2="493.92" y2="193.80" stroke="#111" stroke-width="0.6"/>
<line x1="496.54" y1="192.50" x2="496.54" y2="193.80" stroke="#111" stroke-width="0.6"/>
<line x1="498.58" y1="192.50" x2="498.58" y2="193.80" stroke="#111" stroke-width="0.6"/>
<line x1="500.24" y1="192.50" x2="500.24" y2="193.80" stroke="#111" stroke-width="0.6"/>
<line x1="501.65" y1="192.50" x2="501.65" y2="193.80" stroke="#111" stroke-width="0.6"/>
<line x1="502.86" y1="192.50" x2="502.86" y2="193.80" stroke="#111" stroke-width="0.6"/>
<line x1="503.94" y1="192.50" x2="503.94" y2="193.80" stroke="#111" stroke-width="0.6"/>
<line x1="503.90" y1="192.50" x2="503.90" y2="194.90" stroke="#111" stroke-width="0.8"/>
<line x1="510.22" y1="192.50" x2="510.22" y2="193.80" stroke="#111" stroke-width="0.6"/>
<line x1="421.20" y1="192.50" x2="421.20" y2="194.00" stroke="#111" stroke-width="0.6"/>
<line x1="432.90" y1="192.50" x2="432.90" y2="194.00" stroke="#111" stroke-width="0.6"/>
<line x1="424.20" y1="192.50" x2="424.20" y2="194.00" stroke="#111" stroke-width="0.6"/>
<line x1="427.20" y1="192.50" x2="427.20" y2="194.00" stroke="#111" stroke-width="0.6"/>
<line x1="430.20" y1="192.50" x2="430.20" y2="194.00" stroke="#111" stroke-width="0.6"/>
<line x1="435.20" y1="192.50" x2="435.20" y2="194.00" stroke="#111" stroke-width="0.6"/>
<text x="479.00" y="141.40" font-size="9.3" font-weight="bold" textLength="18.2" lengthAdjust="spacingAndGlyphs">11%</text>
<text x="486.00" y="170.80" font-size="4.8" textLength="12.5" lengthAdjust="spacingAndGlyphs" style="stroke-width:0.06px">ki67 +</text>
<text x="462.00" y="212.80" font-size="6.8" textLength="11.6" lengthAdjust="spacingAndGlyphs">PE-A</text>
<text x="403.10" y="129.50" font-size="5.3" text-anchor="middle" textLength="19.6" lengthAdjust="spacingAndGlyphs" transform="rotate(-90 403.10 129.50)" style="stroke-width:0.06px">(× 1,000)</text>
<text x="402.60" y="153.70" font-size="5.4" text-anchor="middle" textLength="13.6" lengthAdjust="spacingAndGlyphs" transform="rotate(-90 402.60 153.70)" style="stroke-width:0.06px">FSC-A</text>
<text x="7.5" y="242.8" font-size="10.6" font-weight="bold" textLength="7.4" lengthAdjust="spacingAndGlyphs" style="stroke-width:0.3px">C</text>
<text x="44.80" y="242.00" font-size="9.2" textLength="206.8" lengthAdjust="spacingAndGlyphs">Ki-67 staining after spry2 KD in primary CLL cells</text>
<line x1="35.80" y1="249.50" x2="35.80" y2="335.80" stroke="#111" stroke-width="1"/>
<line x1="32.80" y1="335.30" x2="35.80" y2="335.30" stroke="#111" stroke-width="1"/>
<text x="30.40" y="338.20" font-size="8.2" text-anchor="end" textLength="4.4" lengthAdjust="spacingAndGlyphs">0</text>
<line x1="32.80" y1="318.30" x2="35.80" y2="318.30" stroke="#111" stroke-width="1"/>
<text x="30.40" y="321.20" font-size="8.2" text-anchor="end" textLength="4.4" lengthAdjust="spacingAndGlyphs">1</text>
<line x1="32.80" y1="301.30" x2="35.80" y2="301.30" stroke="#111" stroke-width="1"/>
<text x="30.40" y="304.20" font-size="8.2" text-anchor="end" textLength="4.4" lengthAdjust="spacingAndGlyphs">2</text>
<line x1="32.80" y1="284.30" x2="35.80" y2="284.30" stroke="#111" stroke-width="1"/>
<text x="30.40" y="287.20" font-size="8.2" text-anchor="end" textLength="4.4" lengthAdjust="spacingAndGlyphs">3</text>
<line x1="32.80" y1="267.30" x2="35.80" y2="267.30" stroke="#111" stroke-width="1"/>
<text x="30.40" y="270.20" font-size="8.2" text-anchor="end" textLength="4.4" lengthAdjust="spacingAndGlyphs">4</text>
<line x1="32.80" y1="250.30" x2="35.80" y2="250.30" stroke="#111" stroke-width="1"/>
<text x="30.40" y="253.20" font-size="8.2" text-anchor="end" textLength="4.4" lengthAdjust="spacingAndGlyphs">5</text>
<line x1="35.30" y1="335.30" x2="314.50" y2="335.30" stroke="#111" stroke-width="1"/>
<rect x="43.30" y="318.30" width="8.70" height="17.00" fill="#000"/>
<rect x="52.00" y="316.26" width="8.70" height="19.04" fill="#b0b0b0"/>
<rect x="60.70" y="297.05" width="8.70" height="38.25" fill="#666"/>
<text x="55.47" y="348.80" font-size="8.1" text-anchor="middle" textLength="18.2" lengthAdjust="spacingAndGlyphs">CLL1</text>
<line x1="75.15" y1="335.30" x2="75.15" y2="337.80" stroke="#111" stroke-width="1"/>
<rect x="82.65" y="318.30" width="8.70" height="17.00" fill="#000"/>
<rect x="91.35" y="313.20" width="8.70" height="22.10" fill="#b0b0b0"/>
<rect x="100.05" y="271.89" width="8.70" height="63.41" fill="#666"/>
<text x="94.83" y="348.80" font-size="8.1" text-anchor="middle" textLength="18.2" lengthAdjust="spacingAndGlyphs">CLL2</text>
<line x1="114.50" y1="335.30" x2="114.50" y2="337.80" stroke="#111" stroke-width="1"/>
<rect x="122.00" y="318.30" width="8.70" height="17.00" fill="#000"/>
<rect x="130.70" y="314.90" width="8.70" height="20.40" fill="#b0b0b0"/>
<rect x="139.40" y="317.11" width="8.70" height="18.19" fill="#666"/>
<text x="134.18" y="348.80" font-size="8.1" text-anchor="middle" textLength="18.2" lengthAdjust="spacingAndGlyphs">CLL4</text>
<line x1="153.85" y1="335.30" x2="153.85" y2="337.80" stroke="#111" stroke-width="1"/>
<rect x="161.35" y="318.30" width="8.70" height="17.00" fill="#000"/>
<rect x="170.05" y="326.80" width="8.70" height="8.50" fill="#b0b0b0"/>
<rect x="178.75" y="277.50" width="8.70" height="57.80" fill="#666"/>
<text x="173.53" y="348.80" font-size="8.1" text-anchor="middle" textLength="18.2" lengthAdjust="spacingAndGlyphs">CLL5</text>
<line x1="193.20" y1="335.30" x2="193.20" y2="337.80" stroke="#111" stroke-width="1"/>
<rect x="200.70" y="318.30" width="8.70" height="17.00" fill="#000"/>
<rect x="209.40" y="325.95" width="8.70" height="9.35" fill="#b0b0b0"/>
<rect x="218.10" y="314.05" width="8.70" height="21.25" fill="#666"/>
<text x="212.88" y="348.80" font-size="8.1" text-anchor="middle" textLength="18.2" lengthAdjust="spacingAndGlyphs">CLL8</text>
<line x1="232.55" y1="335.30" x2="232.55" y2="337.80" stroke="#111" stroke-width="1"/>
<rect x="240.05" y="318.30" width="8.70" height="17.00" fill="#000"/>
<rect x="248.75" y="299.60" width="8.70" height="35.70" fill="#b0b0b0"/>
<rect x="257.45" y="286.68" width="8.70" height="48.62" fill="#666"/>
<text x="252.23" y="348.80" font-size="8.1" text-anchor="middle" textLength="18.2" lengthAdjust="spacingAndGlyphs">CLL9</text>
<line x1="271.90" y1="335.30" x2="271.90" y2="337.80" stroke="#111" stroke-width="1"/>
<rect x="279.40" y="318.30" width="8.70" height="17.00" fill="#000"/>
<rect x="288.10" y="283.28" width="8.70" height="52.02" fill="#b0b0b0"/>
<rect x="296.80" y="321.70" width="8.70" height="13.60" fill="#666"/>
<text x="291.58" y="348.80" font-size="8.1" text-anchor="middle" textLength="23" lengthAdjust="spacingAndGlyphs">CLL10</text>
<line x1="311.25" y1="335.30" x2="311.25" y2="337.80" stroke="#111" stroke-width="1"/>
<text x="20.20" y="293.00" font-size="8.2" text-anchor="middle" textLength="45" lengthAdjust="spacingAndGlyphs" transform="rotate(-90 20.20 293.00)">Fold change</text>
<text x="119.40" y="362.00" font-size="9.2" textLength="109.3" lengthAdjust="spacingAndGlyphs">Good prognosis CLL patients</text>
<rect x="243.50" y="250.40" width="5.30" height="5.20" fill="#000"/>
<text x="251.60" y="254.80" font-size="7.6" textLength="54.2" lengthAdjust="spacingAndGlyphs">Scramble siRNA</text>
<rect x="243.50" y="261.00" width="5.30" height="5.20" fill="#b0b0b0"/>
<text x="251.60" y="265.50" font-size="7.6" textLength="52.3" lengthAdjust="spacingAndGlyphs">Spry2 siRNA a</text>
<rect x="243.50" y="271.60" width="5.30" height="5.20" fill="#666"/>
<text x="251.60" y="276.30" font-size="7.6" textLength="52.5" lengthAdjust="spacingAndGlyphs">Spry2 siRNA b</text>
<text x="340.5" y="237.8" font-size="11.7" font-weight="bold" textLength="7.8" lengthAdjust="spacingAndGlyphs" style="stroke-width:0.45px">D</text>
<line x1="381.80" y1="226.20" x2="381.80" y2="348.50" stroke="#111" stroke-width="1"/>
<line x1="378.80" y1="348.00" x2="381.80" y2="348.00" stroke="#111" stroke-width="1"/>
<text x="376.30" y="350.80" font-size="7.9" text-anchor="end" textLength="4.4" lengthAdjust="spacingAndGlyphs">0</text>
<line x1="378.80" y1="328.15" x2="381.80" y2="328.15" stroke="#111" stroke-width="1"/>
<text x="376.30" y="330.95" font-size="7.9" text-anchor="end" textLength="11.3" lengthAdjust="spacingAndGlyphs">0.5</text>
<line x1="378.80" y1="308.30" x2="381.80" y2="308.30" stroke="#111" stroke-width="1"/>
<text x="376.30" y="311.10" font-size="7.9" text-anchor="end" textLength="4.4" lengthAdjust="spacingAndGlyphs">1</text>
<line x1="378.80" y1="288.45" x2="381.80" y2="288.45" stroke="#111" stroke-width="1"/>
<text x="376.30" y="291.25" font-size="7.9" text-anchor="end" textLength="11.3" lengthAdjust="spacingAndGlyphs">1.5</text>
<line x1="378.80" y1="268.60" x2="381.80" y2="268.60" stroke="#111" stroke-width="1"/>
<text x="376.30" y="271.40" font-size="7.9" text-anchor="end" textLength="4.4" lengthAdjust="spacingAndGlyphs">2</text>
<line x1="378.80" y1="248.75" x2="381.80" y2="248.75" stroke="#111" stroke-width="1"/>
<text x="376.30" y="251.55" font-size="7.9" text-anchor="end" textLength="11.3" lengthAdjust="spacingAndGlyphs">2.5</text>
<line x1="378.80" y1="228.90" x2="381.80" y2="228.90" stroke="#111" stroke-width="1"/>
<text x="376.30" y="231.70" font-size="7.9" text-anchor="end" textLength="4.4" lengthAdjust="spacingAndGlyphs">3</text>
<line x1="381.30" y1="348.00" x2="504.50" y2="348.00" stroke="#111" stroke-width="1"/>
<line x1="422.80" y1="348.00" x2="422.80" y2="350.50" stroke="#111" stroke-width="1"/>
<line x1="463.60" y1="348.00" x2="463.60" y2="350.50" stroke="#111" stroke-width="1"/>
<line x1="504.20" y1="348.00" x2="504.20" y2="350.50" stroke="#111" stroke-width="1"/>
<text x="359.70" y="289.60" font-size="8.43" text-anchor="middle" textLength="115.7" lengthAdjust="spacingAndGlyphs" transform="rotate(-90 359.70 289.60)">Mean ki67 positive fold change</text>
<rect x="393.90" y="308.30" width="16.40" height="39.70" fill="#000"/>
<line x1="402.10" y1="307.51" x2="402.10" y2="309.09" stroke="#111" stroke-width="1"/>
<line x1="400.10" y1="307.51" x2="404.10" y2="307.51" stroke="#111" stroke-width="1"/>
<line x1="400.10" y1="309.09" x2="404.10" y2="309.09" stroke="#111" stroke-width="1"/>
<rect x="434.90" y="292.02" width="16.60" height="55.98" fill="#b0b0b0"/>
<line x1="443.20" y1="286.86" x2="443.20" y2="297.18" stroke="#111" stroke-width="1"/>
<line x1="441.20" y1="286.86" x2="445.20" y2="286.86" stroke="#111" stroke-width="1"/>
<line x1="441.20" y1="297.18" x2="445.20" y2="297.18" stroke="#111" stroke-width="1"/>
<rect x="475.70" y="261.06" width="16.70" height="86.94" fill="#666"/>
<line x1="484.05" y1="255.10" x2="484.05" y2="267.01" stroke="#111" stroke-width="1"/>
<line x1="482.05" y1="255.10" x2="486.05" y2="255.10" stroke="#111" stroke-width="1"/>
<line x1="482.05" y1="267.01" x2="486.05" y2="267.01" stroke="#111" stroke-width="1"/>
<text x="402.30" y="363.40" font-size="7.8" text-anchor="middle" textLength="33" lengthAdjust="spacingAndGlyphs">Scramble</text>
<text x="443.20" y="364.20" font-size="7.8" text-anchor="middle">Spry2</text>
<text x="443.00" y="373.80" font-size="7.8" text-anchor="middle" textLength="28.7" lengthAdjust="spacingAndGlyphs">siRNA a</text>
<text x="484.00" y="364.20" font-size="7.8" text-anchor="middle">Spry2</text>
<text x="483.40" y="373.80" font-size="7.8" text-anchor="middle" textLength="28.7" lengthAdjust="spacingAndGlyphs">siRNA b</text>
<path d="M404.2 247.7 L404.2 244.2 Q404.2 242.7 405.7 242.7 L471.4 242.7 Q472.9 242.7 472.9 244.2 L472.9 247.7 M437.7 242.7 L437.7 237.5" fill="none" stroke="#111" stroke-width="1"/>
<text x="426.7" y="230.4" font-size="7.3"><tspan font-style="italic">P</tspan> = .01</text>
<rect x="0" y="0" width="520" height="1.1" fill="#111"/><rect x="0" y="380.9" width="520" height="1.1" fill="#111"/><rect x="0" y="0" width="1.1" height="382" fill="#111"/><rect x="518.9" y="0" width="1.1" height="382" fill="#111"/>
</svg>
</body></html>
